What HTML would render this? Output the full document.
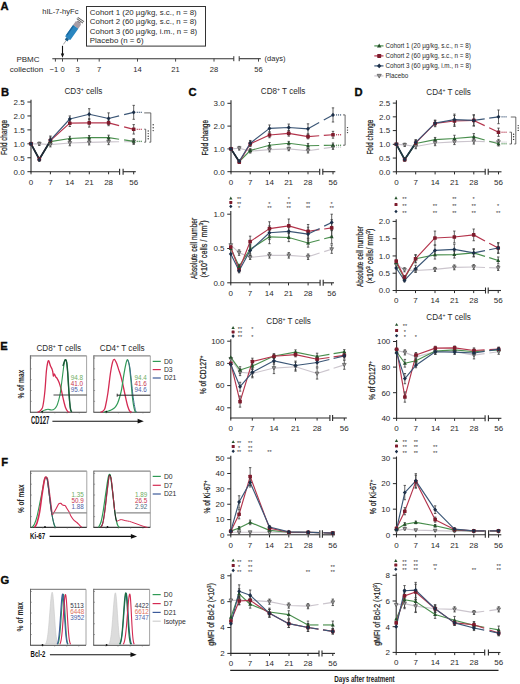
<!DOCTYPE html>
<html><head><meta charset="utf-8"><style>
html,body{margin:0;padding:0;background:#fff;width:520px;height:684px;overflow:hidden}
svg{display:block}
text{font-family:"Liberation Sans", sans-serif}
</style></head><body>
<svg width="520" height="684" viewBox="0 0 520 684" font-family='Liberation Sans, sans-serif'>
<defs><clipPath id="clipR"><rect x="0" y="0" width="180.3" height="684"/></clipPath></defs>
<rect width="520" height="684" fill="#fff"/>
<text x="0.6" y="9.9" font-size="11.2" fill="#0a0a0a" font-weight="bold" stroke="#0a0a0a" stroke-width="0.35">A</text>
<text x="42.2" y="14.4" font-size="7.6" fill="#2a2a2a">hIL-7-hyFc</text>
<rect x="86.5" y="6.5" width="119" height="39.6" fill="none" stroke="#333" stroke-width="1"/>
<text x="89.8" y="14.6" font-size="7.9" fill="#2a2a2a">Cohort 1 (20 µg/kg, s.c., n = 8)</text>
<text x="89.8" y="24.15" font-size="7.9" fill="#2a2a2a">Cohort 2 (60 µg/kg, s.c., n = 8)</text>
<text x="89.8" y="33.7" font-size="7.9" fill="#2a2a2a">Cohort 3 (60 µg/kg, i.m., n = 8)</text>
<text x="89.8" y="43.25" font-size="7.9" fill="#2a2a2a">Placebo (n = 6)</text>
<g transform="translate(63.4 44.4) rotate(-55)"><line x1="0" y1="0" x2="5.5" y2="0" stroke="#9a9a9a" stroke-width="0.8"/><rect x="4.8" y="-1.6" width="2.8" height="3.2" fill="#1d5f8c"/><rect x="7.4" y="-3.2" width="14.2" height="6.4" rx="0.8" fill="#2a86c0"/><rect x="9.5" y="-3.2" width="12" height="1.4" fill="#1b6aa0"/><rect x="21.4" y="-3.2" width="5.0" height="6.4" fill="#a79da6"/><rect x="26.4" y="-2.0" width="1.4" height="4.0" fill="#8a8088"/><rect x="28.3" y="-3.8" width="0.9" height="7.6" fill="#5a5a5a"/><rect x="30.0" y="-3.8" width="0.9" height="7.6" fill="#5a5a5a"/></g>
<line x1="62.5" y1="45.8" x2="62.5" y2="54.5" stroke="#111" stroke-width="1.1"/>
<path d="M60.8 53.6 L64.2 53.6 L62.5 57.8Z" fill="#111"/>
<line x1="52.3" y1="58.7" x2="233.8" y2="58.7" stroke="#333" stroke-width="1.1"/>
<line x1="239.2" y1="58.7" x2="260.8" y2="58.7" stroke="#333" stroke-width="1.1"/>
<line x1="233.8" y1="56.2" x2="233.8" y2="61.2" stroke="#333" stroke-width="1"/>
<line x1="239.2" y1="56.2" x2="239.2" y2="61.2" stroke="#333" stroke-width="1"/>
<line x1="55.4" y1="58.7" x2="55.4" y2="61.6" stroke="#333" stroke-width="0.9"/>
<line x1="62.5" y1="58.7" x2="62.5" y2="61.6" stroke="#333" stroke-width="0.9"/>
<line x1="77.5" y1="58.7" x2="77.5" y2="61.6" stroke="#333" stroke-width="0.9"/>
<text x="77.5" y="71.6" font-size="7.6" fill="#2a2a2a" text-anchor="middle">3</text>
<line x1="99.2" y1="58.7" x2="99.2" y2="61.6" stroke="#333" stroke-width="0.9"/>
<text x="99.2" y="71.6" font-size="7.6" fill="#2a2a2a" text-anchor="middle">7</text>
<line x1="137.5" y1="58.7" x2="137.5" y2="61.6" stroke="#333" stroke-width="0.9"/>
<text x="137.5" y="71.6" font-size="7.6" fill="#2a2a2a" text-anchor="middle">14</text>
<line x1="175.6" y1="58.7" x2="175.6" y2="61.6" stroke="#333" stroke-width="0.9"/>
<text x="175.6" y="71.6" font-size="7.6" fill="#2a2a2a" text-anchor="middle">21</text>
<line x1="214" y1="58.7" x2="214" y2="61.6" stroke="#333" stroke-width="0.9"/>
<text x="214" y="71.6" font-size="7.6" fill="#2a2a2a" text-anchor="middle">28</text>
<line x1="258.5" y1="58.7" x2="258.5" y2="61.6" stroke="#333" stroke-width="0.9"/>
<text x="258.5" y="71.6" font-size="7.6" fill="#2a2a2a" text-anchor="middle">56</text>
<text x="49.6" y="71.6" font-size="7.6" fill="#2a2a2a">−1</text>
<text x="62.6" y="71.6" font-size="7.6" fill="#2a2a2a" text-anchor="middle">0</text>
<text x="264.6" y="61.2" font-size="7.5" fill="#2a2a2a">(days)</text>
<text x="28" y="62" font-size="8" fill="#2a2a2a" text-anchor="middle">PBMC</text>
<text x="26.5" y="72" font-size="8" fill="#2a2a2a" text-anchor="middle">collection</text>
<line x1="374.3" y1="45.9" x2="383.5" y2="45.9" stroke="#4a8f4e" stroke-width="1.2"/>
<path d="M379.2 43.6 L381.4 47.5 L377 47.5Z" fill="#24502a"/>
<text x="385.4" y="48.1" font-size="6.3" fill="#2a2a2a">Cohort 1 (20 µg/kg, s.c., n = 8)</text>
<line x1="374.3" y1="55.9" x2="383.5" y2="55.9" stroke="#b4344c" stroke-width="1.2"/>
<rect x="377.2" y="53.9" width="4" height="4" rx="0.6" fill="#7d1b2c"/>
<text x="385.4" y="58.1" font-size="6.3" fill="#2a2a2a">Cohort 2 (60 µg/kg, s.c., n = 8)</text>
<line x1="374.3" y1="65.9" x2="383.5" y2="65.9" stroke="#3b5676" stroke-width="1.2"/>
<path d="M379.2 63.5 L381.4 65.9 L379.2 68.3 L377 65.9Z" fill="#1c2f48"/>
<text x="385.4" y="68.1" font-size="6.3" fill="#2a2a2a">Cohort 3 (60 µg/kg, i.m., n = 8)</text>
<line x1="374.3" y1="75.9" x2="383.5" y2="75.9" stroke="#cbc5cd" stroke-width="1.2"/>
<path d="M377.1 74.3 L381.3 74.3 L379.2 78.1Z" fill="#999" stroke="#444" stroke-width="0.6"/>
<text x="385.4" y="78.1" font-size="6.3" fill="#2a2a2a">Placebo</text>
<text x="1" y="95.6" font-size="11.2" fill="#0a0a0a" font-weight="bold" stroke="#0a0a0a" stroke-width="0.35">B</text>
<line x1="31" y1="99.7" x2="31" y2="172.2" stroke="#2a2a2a" stroke-width="1.1"/>
<line x1="30.5" y1="171.7" x2="119.6" y2="171.7" stroke="#2a2a2a" stroke-width="1.1"/>
<line x1="123.1" y1="171.7" x2="135.8" y2="171.7" stroke="#2a2a2a" stroke-width="1.1"/>
<line x1="119.6" y1="168.7" x2="119.6" y2="174.7" stroke="#2a2a2a" stroke-width="1.1"/>
<line x1="123.1" y1="168.7" x2="123.1" y2="174.7" stroke="#2a2a2a" stroke-width="1.1"/>
<line x1="27.4" y1="171.7" x2="31" y2="171.7" stroke="#2a2a2a" stroke-width="1"/>
<text x="24.7" y="174.5" font-size="8" fill="#2a2a2a" text-anchor="end">0.0</text>
<line x1="27.4" y1="157.76" x2="31" y2="157.76" stroke="#2a2a2a" stroke-width="1"/>
<text x="24.7" y="160.56" font-size="8" fill="#2a2a2a" text-anchor="end">0.5</text>
<line x1="27.4" y1="143.82" x2="31" y2="143.82" stroke="#2a2a2a" stroke-width="1"/>
<text x="24.7" y="146.62" font-size="8" fill="#2a2a2a" text-anchor="end">1.0</text>
<line x1="27.4" y1="129.88" x2="31" y2="129.88" stroke="#2a2a2a" stroke-width="1"/>
<text x="24.7" y="132.68" font-size="8" fill="#2a2a2a" text-anchor="end">1.5</text>
<line x1="27.4" y1="115.94" x2="31" y2="115.94" stroke="#2a2a2a" stroke-width="1"/>
<text x="24.7" y="118.74" font-size="8" fill="#2a2a2a" text-anchor="end">2.0</text>
<line x1="27.4" y1="102" x2="31" y2="102" stroke="#2a2a2a" stroke-width="1"/>
<text x="24.7" y="104.8" font-size="8" fill="#2a2a2a" text-anchor="end">2.5</text>
<line x1="31" y1="171.7" x2="31" y2="174.3" stroke="#2a2a2a" stroke-width="1"/>
<text x="31" y="184.5" font-size="8" fill="#2a2a2a" text-anchor="middle">0</text>
<line x1="50.4" y1="171.7" x2="50.4" y2="174.3" stroke="#2a2a2a" stroke-width="1"/>
<text x="50.4" y="184.5" font-size="8" fill="#2a2a2a" text-anchor="middle">7</text>
<line x1="69.8" y1="171.7" x2="69.8" y2="174.3" stroke="#2a2a2a" stroke-width="1"/>
<text x="69.8" y="184.5" font-size="8" fill="#2a2a2a" text-anchor="middle">14</text>
<line x1="89.3" y1="171.7" x2="89.3" y2="174.3" stroke="#2a2a2a" stroke-width="1"/>
<text x="89.3" y="184.5" font-size="8" fill="#2a2a2a" text-anchor="middle">21</text>
<line x1="108.6" y1="171.7" x2="108.6" y2="174.3" stroke="#2a2a2a" stroke-width="1"/>
<text x="108.6" y="184.5" font-size="8" fill="#2a2a2a" text-anchor="middle">28</text>
<line x1="133.7" y1="171.7" x2="133.7" y2="174.3" stroke="#2a2a2a" stroke-width="1"/>
<text x="133.7" y="184.5" font-size="8" fill="#2a2a2a" text-anchor="middle">56</text>
<polyline points="31,143.82 39.31,143.82 50.4,144.66 69.8,142.98 89.2,142.43 108.6,141.87" fill="none" stroke="#cbc5cd" stroke-width="1.15" stroke-linejoin="round"/>
<line x1="108.6" y1="141.87" x2="119.1" y2="141.75" stroke="#cbc5cd" stroke-width="1.15"/>
<line x1="124.1" y1="141.7" x2="133.7" y2="141.59" stroke="#cbc5cd" stroke-width="1.15"/>
<rect x="136.7" y="140.99" width="1.1" height="1.2" fill="#cbc5cd"/>
<rect x="138.7" y="140.99" width="1.1" height="1.2" fill="#cbc5cd"/>
<rect x="140.7" y="140.99" width="1.1" height="1.2" fill="#cbc5cd"/>
<polyline points="31,143.82 39.31,158.88 50.4,141.59 69.8,138.52 89.2,137.69 108.6,137.69" fill="none" stroke="#4a8f4e" stroke-width="1.15" stroke-linejoin="round"/>
<line x1="108.6" y1="137.69" x2="119.1" y2="139.2" stroke="#4a8f4e" stroke-width="1.15"/>
<line x1="124.1" y1="139.92" x2="133.7" y2="141.31" stroke="#4a8f4e" stroke-width="1.15"/>
<rect x="136.7" y="140.71" width="1.1" height="1.2" fill="#4a8f4e"/>
<rect x="138.7" y="140.71" width="1.1" height="1.2" fill="#4a8f4e"/>
<rect x="140.7" y="140.71" width="1.1" height="1.2" fill="#4a8f4e"/>
<polyline points="31,143.82 39.31,159.15 50.4,140.47 69.8,123.19 89.2,122.91 108.6,122.91" fill="none" stroke="#b4344c" stroke-width="1.15" stroke-linejoin="round"/>
<line x1="108.6" y1="122.91" x2="119.1" y2="125.59" stroke="#b4344c" stroke-width="1.15"/>
<line x1="124.1" y1="126.87" x2="133.7" y2="129.32" stroke="#b4344c" stroke-width="1.15"/>
<rect x="136.7" y="128.72" width="1.1" height="1.2" fill="#b4344c"/>
<rect x="138.7" y="128.72" width="1.1" height="1.2" fill="#b4344c"/>
<rect x="140.7" y="128.72" width="1.1" height="1.2" fill="#b4344c"/>
<polyline points="31,143.82 39.31,159.71 50.4,140.2 69.8,119.01 89.2,114.27 108.6,118.45" fill="none" stroke="#3b5676" stroke-width="1.15" stroke-linejoin="round"/>
<line x1="108.6" y1="118.45" x2="119.1" y2="115.88" stroke="#3b5676" stroke-width="1.15"/>
<line x1="124.1" y1="114.66" x2="133.7" y2="112.32" stroke="#3b5676" stroke-width="1.15"/>
<rect x="136.7" y="111.72" width="1.1" height="1.2" fill="#3b5676"/>
<rect x="138.7" y="111.72" width="1.1" height="1.2" fill="#3b5676"/>
<rect x="140.7" y="111.72" width="1.1" height="1.2" fill="#3b5676"/>
<polyline points="31,143.82 39.31,159.25 50.4,140.75" fill="none" stroke="#1d2b36" stroke-width="1.7" stroke-linejoin="round"/>
<line x1="39.31" y1="142.15" x2="39.31" y2="145.49" stroke="#3a3a3a" stroke-width="0.8"/>
<line x1="38.11" y1="142.15" x2="40.51" y2="142.15" stroke="#3a3a3a" stroke-width="0.8"/>
<line x1="38.11" y1="145.49" x2="40.51" y2="145.49" stroke="#3a3a3a" stroke-width="0.8"/>
<line x1="50.4" y1="142.43" x2="50.4" y2="146.89" stroke="#3a3a3a" stroke-width="0.8"/>
<line x1="49.2" y1="142.43" x2="51.6" y2="142.43" stroke="#3a3a3a" stroke-width="0.8"/>
<line x1="49.2" y1="146.89" x2="51.6" y2="146.89" stroke="#3a3a3a" stroke-width="0.8"/>
<line x1="69.8" y1="140.2" x2="69.8" y2="145.77" stroke="#3a3a3a" stroke-width="0.8"/>
<line x1="68.6" y1="140.2" x2="71" y2="140.2" stroke="#3a3a3a" stroke-width="0.8"/>
<line x1="68.6" y1="145.77" x2="71" y2="145.77" stroke="#3a3a3a" stroke-width="0.8"/>
<line x1="89.2" y1="139.92" x2="89.2" y2="144.94" stroke="#3a3a3a" stroke-width="0.8"/>
<line x1="88" y1="139.92" x2="90.4" y2="139.92" stroke="#3a3a3a" stroke-width="0.8"/>
<line x1="88" y1="144.94" x2="90.4" y2="144.94" stroke="#3a3a3a" stroke-width="0.8"/>
<line x1="108.6" y1="139.08" x2="108.6" y2="144.66" stroke="#3a3a3a" stroke-width="0.8"/>
<line x1="107.4" y1="139.08" x2="109.8" y2="139.08" stroke="#3a3a3a" stroke-width="0.8"/>
<line x1="107.4" y1="144.66" x2="109.8" y2="144.66" stroke="#3a3a3a" stroke-width="0.8"/>
<line x1="133.7" y1="138.8" x2="133.7" y2="144.38" stroke="#3a3a3a" stroke-width="0.8"/>
<line x1="132.5" y1="138.8" x2="134.9" y2="138.8" stroke="#3a3a3a" stroke-width="0.8"/>
<line x1="132.5" y1="144.38" x2="134.9" y2="144.38" stroke="#3a3a3a" stroke-width="0.8"/>
<line x1="39.31" y1="157.48" x2="39.31" y2="160.27" stroke="#3a3a3a" stroke-width="0.8"/>
<line x1="38.11" y1="157.48" x2="40.51" y2="157.48" stroke="#3a3a3a" stroke-width="0.8"/>
<line x1="38.11" y1="160.27" x2="40.51" y2="160.27" stroke="#3a3a3a" stroke-width="0.8"/>
<line x1="50.4" y1="138.8" x2="50.4" y2="144.38" stroke="#3a3a3a" stroke-width="0.8"/>
<line x1="49.2" y1="138.8" x2="51.6" y2="138.8" stroke="#3a3a3a" stroke-width="0.8"/>
<line x1="49.2" y1="144.38" x2="51.6" y2="144.38" stroke="#3a3a3a" stroke-width="0.8"/>
<line x1="69.8" y1="136.29" x2="69.8" y2="140.75" stroke="#3a3a3a" stroke-width="0.8"/>
<line x1="68.6" y1="136.29" x2="71" y2="136.29" stroke="#3a3a3a" stroke-width="0.8"/>
<line x1="68.6" y1="140.75" x2="71" y2="140.75" stroke="#3a3a3a" stroke-width="0.8"/>
<line x1="89.2" y1="135.46" x2="89.2" y2="139.92" stroke="#3a3a3a" stroke-width="0.8"/>
<line x1="88" y1="135.46" x2="90.4" y2="135.46" stroke="#3a3a3a" stroke-width="0.8"/>
<line x1="88" y1="139.92" x2="90.4" y2="139.92" stroke="#3a3a3a" stroke-width="0.8"/>
<line x1="108.6" y1="135.18" x2="108.6" y2="140.2" stroke="#3a3a3a" stroke-width="0.8"/>
<line x1="107.4" y1="135.18" x2="109.8" y2="135.18" stroke="#3a3a3a" stroke-width="0.8"/>
<line x1="107.4" y1="140.2" x2="109.8" y2="140.2" stroke="#3a3a3a" stroke-width="0.8"/>
<line x1="133.7" y1="139.08" x2="133.7" y2="143.54" stroke="#3a3a3a" stroke-width="0.8"/>
<line x1="132.5" y1="139.08" x2="134.9" y2="139.08" stroke="#3a3a3a" stroke-width="0.8"/>
<line x1="132.5" y1="143.54" x2="134.9" y2="143.54" stroke="#3a3a3a" stroke-width="0.8"/>
<line x1="39.31" y1="157.48" x2="39.31" y2="160.83" stroke="#3a3a3a" stroke-width="0.8"/>
<line x1="38.11" y1="157.48" x2="40.51" y2="157.48" stroke="#3a3a3a" stroke-width="0.8"/>
<line x1="38.11" y1="160.83" x2="40.51" y2="160.83" stroke="#3a3a3a" stroke-width="0.8"/>
<line x1="50.4" y1="137.13" x2="50.4" y2="143.82" stroke="#3a3a3a" stroke-width="0.8"/>
<line x1="49.2" y1="137.13" x2="51.6" y2="137.13" stroke="#3a3a3a" stroke-width="0.8"/>
<line x1="49.2" y1="143.82" x2="51.6" y2="143.82" stroke="#3a3a3a" stroke-width="0.8"/>
<line x1="69.8" y1="119.84" x2="69.8" y2="126.53" stroke="#3a3a3a" stroke-width="0.8"/>
<line x1="68.6" y1="119.84" x2="71" y2="119.84" stroke="#3a3a3a" stroke-width="0.8"/>
<line x1="68.6" y1="126.53" x2="71" y2="126.53" stroke="#3a3a3a" stroke-width="0.8"/>
<line x1="89.2" y1="118.73" x2="89.2" y2="127.09" stroke="#3a3a3a" stroke-width="0.8"/>
<line x1="88" y1="118.73" x2="90.4" y2="118.73" stroke="#3a3a3a" stroke-width="0.8"/>
<line x1="88" y1="127.09" x2="90.4" y2="127.09" stroke="#3a3a3a" stroke-width="0.8"/>
<line x1="108.6" y1="120.12" x2="108.6" y2="125.7" stroke="#3a3a3a" stroke-width="0.8"/>
<line x1="107.4" y1="120.12" x2="109.8" y2="120.12" stroke="#3a3a3a" stroke-width="0.8"/>
<line x1="107.4" y1="125.7" x2="109.8" y2="125.7" stroke="#3a3a3a" stroke-width="0.8"/>
<line x1="133.7" y1="124.58" x2="133.7" y2="134.06" stroke="#3a3a3a" stroke-width="0.8"/>
<line x1="132.5" y1="124.58" x2="134.9" y2="124.58" stroke="#3a3a3a" stroke-width="0.8"/>
<line x1="132.5" y1="134.06" x2="134.9" y2="134.06" stroke="#3a3a3a" stroke-width="0.8"/>
<line x1="39.31" y1="158.04" x2="39.31" y2="161.38" stroke="#3a3a3a" stroke-width="0.8"/>
<line x1="38.11" y1="158.04" x2="40.51" y2="158.04" stroke="#3a3a3a" stroke-width="0.8"/>
<line x1="38.11" y1="161.38" x2="40.51" y2="161.38" stroke="#3a3a3a" stroke-width="0.8"/>
<line x1="50.4" y1="136.01" x2="50.4" y2="144.38" stroke="#3a3a3a" stroke-width="0.8"/>
<line x1="49.2" y1="136.01" x2="51.6" y2="136.01" stroke="#3a3a3a" stroke-width="0.8"/>
<line x1="49.2" y1="144.38" x2="51.6" y2="144.38" stroke="#3a3a3a" stroke-width="0.8"/>
<line x1="69.8" y1="115.94" x2="69.8" y2="122.07" stroke="#3a3a3a" stroke-width="0.8"/>
<line x1="68.6" y1="115.94" x2="71" y2="115.94" stroke="#3a3a3a" stroke-width="0.8"/>
<line x1="68.6" y1="122.07" x2="71" y2="122.07" stroke="#3a3a3a" stroke-width="0.8"/>
<line x1="89.2" y1="108.69" x2="89.2" y2="119.84" stroke="#3a3a3a" stroke-width="0.8"/>
<line x1="88" y1="108.69" x2="90.4" y2="108.69" stroke="#3a3a3a" stroke-width="0.8"/>
<line x1="88" y1="119.84" x2="90.4" y2="119.84" stroke="#3a3a3a" stroke-width="0.8"/>
<line x1="108.6" y1="112.87" x2="108.6" y2="124.03" stroke="#3a3a3a" stroke-width="0.8"/>
<line x1="107.4" y1="112.87" x2="109.8" y2="112.87" stroke="#3a3a3a" stroke-width="0.8"/>
<line x1="107.4" y1="124.03" x2="109.8" y2="124.03" stroke="#3a3a3a" stroke-width="0.8"/>
<line x1="133.7" y1="105.35" x2="133.7" y2="119.29" stroke="#3a3a3a" stroke-width="0.8"/>
<line x1="132.5" y1="105.35" x2="134.9" y2="105.35" stroke="#3a3a3a" stroke-width="0.8"/>
<line x1="132.5" y1="119.29" x2="134.9" y2="119.29" stroke="#3a3a3a" stroke-width="0.8"/>
<path d="M29.11 142.38 L32.89 142.38 L31 145.8Z" fill="#999" stroke="#444" stroke-width="0.6"/>
<path d="M37.42 142.38 L41.2 142.38 L39.31 145.8Z" fill="#999" stroke="#444" stroke-width="0.6"/>
<path d="M48.51 143.22 L52.29 143.22 L50.4 146.64Z" fill="#999" stroke="#444" stroke-width="0.6"/>
<path d="M67.91 141.54 L71.69 141.54 L69.8 144.96Z" fill="#999" stroke="#444" stroke-width="0.6"/>
<path d="M87.31 140.99 L91.09 140.99 L89.2 144.41Z" fill="#999" stroke="#444" stroke-width="0.6"/>
<path d="M106.71 140.43 L110.49 140.43 L108.6 143.85Z" fill="#999" stroke="#444" stroke-width="0.6"/>
<path d="M131.81 140.15 L135.59 140.15 L133.7 143.57Z" fill="#999" stroke="#444" stroke-width="0.6"/>
<path d="M31 141.75 L32.98 145.26 L29.02 145.26Z" fill="#24502a"/>
<path d="M39.31 156.81 L41.29 160.32 L37.33 160.32Z" fill="#24502a"/>
<path d="M50.4 139.52 L52.38 143.03 L48.42 143.03Z" fill="#24502a"/>
<path d="M69.8 136.45 L71.78 139.96 L67.82 139.96Z" fill="#24502a"/>
<path d="M89.2 135.62 L91.18 139.13 L87.22 139.13Z" fill="#24502a"/>
<path d="M108.6 135.62 L110.58 139.13 L106.62 139.13Z" fill="#24502a"/>
<path d="M133.7 139.24 L135.68 142.75 L131.72 142.75Z" fill="#24502a"/>
<rect x="29.2" y="142.02" width="3.6" height="3.6" rx="0.6" fill="#7d1b2c"/>
<rect x="37.51" y="157.35" width="3.6" height="3.6" rx="0.6" fill="#7d1b2c"/>
<rect x="48.6" y="138.67" width="3.6" height="3.6" rx="0.6" fill="#7d1b2c"/>
<rect x="68" y="121.39" width="3.6" height="3.6" rx="0.6" fill="#7d1b2c"/>
<rect x="87.4" y="121.11" width="3.6" height="3.6" rx="0.6" fill="#7d1b2c"/>
<rect x="106.8" y="121.11" width="3.6" height="3.6" rx="0.6" fill="#7d1b2c"/>
<rect x="131.9" y="127.52" width="3.6" height="3.6" rx="0.6" fill="#7d1b2c"/>
<path d="M31 141.66 L32.98 143.82 L31 145.98 L29.02 143.82Z" fill="#1c2f48"/>
<path d="M39.31 157.55 L41.29 159.71 L39.31 161.87 L37.33 159.71Z" fill="#1c2f48"/>
<path d="M50.4 138.04 L52.38 140.2 L50.4 142.36 L48.42 140.2Z" fill="#1c2f48"/>
<path d="M69.8 116.85 L71.78 119.01 L69.8 121.17 L67.82 119.01Z" fill="#1c2f48"/>
<path d="M89.2 112.11 L91.18 114.27 L89.2 116.43 L87.22 114.27Z" fill="#1c2f48"/>
<path d="M108.6 116.29 L110.58 118.45 L108.6 120.61 L106.62 118.45Z" fill="#1c2f48"/>
<path d="M133.7 110.16 L135.68 112.32 L133.7 114.48 L131.72 112.32Z" fill="#1c2f48"/>
<text x="64.4" y="93.9" font-size="8.3" fill="#2a2a2a" textLength="37.9" lengthAdjust="spacingAndGlyphs">CD3<tspan font-size="5.2" dy="-3">+</tspan><tspan dy="3"> cells</tspan></text>
<text transform="translate(7.2 154.9) rotate(-90)" x="0" y="0" font-size="8.2" fill="#222" stroke="#222" stroke-width="0.22" textLength="34.9" lengthAdjust="spacingAndGlyphs">Fold change</text>
<path d="M144.2 112.9 H150.8 V142.2 H149.3" fill="none" stroke="#444" stroke-width="0.8"/>
<path d="M144.2 129.2 H145.7 V142.2 H144.2" fill="none" stroke="#444" stroke-width="0.8"/>
<circle cx="148.2" cy="131" r="0.7" fill="#333"/>
<circle cx="148.2" cy="133.6" r="0.7" fill="#333"/>
<circle cx="148.2" cy="136.2" r="0.7" fill="#333"/>
<circle cx="148.2" cy="138.8" r="0.7" fill="#333"/>
<circle cx="153.2" cy="124.8" r="0.7" fill="#333"/>
<circle cx="153.2" cy="127.7" r="0.7" fill="#333"/>
<circle cx="153.2" cy="130.6" r="0.7" fill="#333"/>
<text x="188.6" y="95.8" font-size="11.2" fill="#0a0a0a" font-weight="bold" stroke="#0a0a0a" stroke-width="0.35">C</text>
<line x1="231" y1="100.2" x2="231" y2="172.2" stroke="#2a2a2a" stroke-width="1.1"/>
<line x1="230.5" y1="171.7" x2="319.7" y2="171.7" stroke="#2a2a2a" stroke-width="1.1"/>
<line x1="322.8" y1="171.7" x2="335.3" y2="171.7" stroke="#2a2a2a" stroke-width="1.1"/>
<line x1="319.7" y1="168.7" x2="319.7" y2="174.7" stroke="#2a2a2a" stroke-width="1.1"/>
<line x1="322.8" y1="168.7" x2="322.8" y2="174.7" stroke="#2a2a2a" stroke-width="1.1"/>
<line x1="227.4" y1="171.7" x2="231" y2="171.7" stroke="#2a2a2a" stroke-width="1"/>
<text x="224.7" y="174.5" font-size="8" fill="#2a2a2a" text-anchor="end">0.0</text>
<line x1="227.4" y1="148.9" x2="231" y2="148.9" stroke="#2a2a2a" stroke-width="1"/>
<text x="224.7" y="151.7" font-size="8" fill="#2a2a2a" text-anchor="end">1.0</text>
<line x1="227.4" y1="126.1" x2="231" y2="126.1" stroke="#2a2a2a" stroke-width="1"/>
<text x="224.7" y="128.9" font-size="8" fill="#2a2a2a" text-anchor="end">2.0</text>
<line x1="227.4" y1="103.3" x2="231" y2="103.3" stroke="#2a2a2a" stroke-width="1"/>
<text x="224.7" y="106.1" font-size="8" fill="#2a2a2a" text-anchor="end">3.0</text>
<line x1="231" y1="171.7" x2="231" y2="174.3" stroke="#2a2a2a" stroke-width="1"/>
<text x="231" y="184.5" font-size="8" fill="#2a2a2a" text-anchor="middle">0</text>
<line x1="250.2" y1="171.7" x2="250.2" y2="174.3" stroke="#2a2a2a" stroke-width="1"/>
<text x="250.2" y="184.5" font-size="8" fill="#2a2a2a" text-anchor="middle">7</text>
<line x1="269.5" y1="171.7" x2="269.5" y2="174.3" stroke="#2a2a2a" stroke-width="1"/>
<text x="269.5" y="184.5" font-size="8" fill="#2a2a2a" text-anchor="middle">14</text>
<line x1="288.6" y1="171.7" x2="288.6" y2="174.3" stroke="#2a2a2a" stroke-width="1"/>
<text x="288.6" y="184.5" font-size="8" fill="#2a2a2a" text-anchor="middle">21</text>
<line x1="308" y1="171.7" x2="308" y2="174.3" stroke="#2a2a2a" stroke-width="1"/>
<text x="308" y="184.5" font-size="8" fill="#2a2a2a" text-anchor="middle">28</text>
<line x1="333" y1="171.7" x2="333" y2="174.3" stroke="#2a2a2a" stroke-width="1"/>
<text x="333" y="184.5" font-size="8" fill="#2a2a2a" text-anchor="middle">56</text>
<polyline points="231,148.9 239.25,148.22 250.25,151.18 269.5,149.58 288.75,148.9 308,150.72" fill="none" stroke="#cbc5cd" stroke-width="1.15" stroke-linejoin="round"/>
<line x1="308" y1="150.72" x2="319.2" y2="149.09" stroke="#cbc5cd" stroke-width="1.15"/>
<line x1="323.8" y1="148.42" x2="333" y2="147.08" stroke="#cbc5cd" stroke-width="1.15"/>
<rect x="336" y="146.48" width="1.1" height="1.2" fill="#cbc5cd"/>
<rect x="338" y="146.48" width="1.1" height="1.2" fill="#cbc5cd"/>
<rect x="340" y="146.48" width="1.1" height="1.2" fill="#cbc5cd"/>
<polyline points="231,148.9 239.25,161.67 250.25,150.5 269.5,145.25 288.75,143.2 308,145.71" fill="none" stroke="#4a8f4e" stroke-width="1.15" stroke-linejoin="round"/>
<line x1="308" y1="145.71" x2="319.2" y2="145.5" stroke="#4a8f4e" stroke-width="1.15"/>
<line x1="323.8" y1="145.42" x2="333" y2="145.25" stroke="#4a8f4e" stroke-width="1.15"/>
<rect x="336" y="144.65" width="1.1" height="1.2" fill="#4a8f4e"/>
<rect x="338" y="144.65" width="1.1" height="1.2" fill="#4a8f4e"/>
<rect x="340" y="144.65" width="1.1" height="1.2" fill="#4a8f4e"/>
<polyline points="231,148.9 239.25,162.12 250.25,143.88 269.5,134.99 288.75,133.4 308,136.59" fill="none" stroke="#b4344c" stroke-width="1.15" stroke-linejoin="round"/>
<line x1="308" y1="136.59" x2="319.2" y2="135.77" stroke="#b4344c" stroke-width="1.15"/>
<line x1="323.8" y1="135.44" x2="333" y2="134.76" stroke="#b4344c" stroke-width="1.15"/>
<rect x="336" y="134.16" width="1.1" height="1.2" fill="#b4344c"/>
<rect x="338" y="134.16" width="1.1" height="1.2" fill="#b4344c"/>
<rect x="340" y="134.16" width="1.1" height="1.2" fill="#b4344c"/>
<polyline points="231,148.9 239.25,161.21 250.25,143.2 269.5,128.38 288.75,127.47 308,128.84" fill="none" stroke="#3b5676" stroke-width="1.15" stroke-linejoin="round"/>
<line x1="308" y1="128.84" x2="319.2" y2="122.61" stroke="#3b5676" stroke-width="1.15"/>
<line x1="323.8" y1="120.05" x2="333" y2="114.93" stroke="#3b5676" stroke-width="1.15"/>
<rect x="336" y="114.33" width="1.1" height="1.2" fill="#3b5676"/>
<rect x="338" y="114.33" width="1.1" height="1.2" fill="#3b5676"/>
<rect x="340" y="114.33" width="1.1" height="1.2" fill="#3b5676"/>
<polyline points="231,148.9 239.25,161.67" fill="none" stroke="#1d2b36" stroke-width="1.7" stroke-linejoin="round"/>
<line x1="239.25" y1="146.39" x2="239.25" y2="150.04" stroke="#3a3a3a" stroke-width="0.8"/>
<line x1="238.05" y1="146.39" x2="240.45" y2="146.39" stroke="#3a3a3a" stroke-width="0.8"/>
<line x1="238.05" y1="150.04" x2="240.45" y2="150.04" stroke="#3a3a3a" stroke-width="0.8"/>
<line x1="250.25" y1="149.36" x2="250.25" y2="153" stroke="#3a3a3a" stroke-width="0.8"/>
<line x1="249.05" y1="149.36" x2="251.45" y2="149.36" stroke="#3a3a3a" stroke-width="0.8"/>
<line x1="249.05" y1="153" x2="251.45" y2="153" stroke="#3a3a3a" stroke-width="0.8"/>
<line x1="269.5" y1="147.3" x2="269.5" y2="151.86" stroke="#3a3a3a" stroke-width="0.8"/>
<line x1="268.3" y1="147.3" x2="270.7" y2="147.3" stroke="#3a3a3a" stroke-width="0.8"/>
<line x1="268.3" y1="151.86" x2="270.7" y2="151.86" stroke="#3a3a3a" stroke-width="0.8"/>
<line x1="288.75" y1="147.08" x2="288.75" y2="150.72" stroke="#3a3a3a" stroke-width="0.8"/>
<line x1="287.55" y1="147.08" x2="289.95" y2="147.08" stroke="#3a3a3a" stroke-width="0.8"/>
<line x1="287.55" y1="150.72" x2="289.95" y2="150.72" stroke="#3a3a3a" stroke-width="0.8"/>
<line x1="308" y1="148.44" x2="308" y2="153" stroke="#3a3a3a" stroke-width="0.8"/>
<line x1="306.8" y1="148.44" x2="309.2" y2="148.44" stroke="#3a3a3a" stroke-width="0.8"/>
<line x1="306.8" y1="153" x2="309.2" y2="153" stroke="#3a3a3a" stroke-width="0.8"/>
<line x1="333" y1="144.8" x2="333" y2="149.36" stroke="#3a3a3a" stroke-width="0.8"/>
<line x1="331.8" y1="144.8" x2="334.2" y2="144.8" stroke="#3a3a3a" stroke-width="0.8"/>
<line x1="331.8" y1="149.36" x2="334.2" y2="149.36" stroke="#3a3a3a" stroke-width="0.8"/>
<line x1="239.25" y1="160.53" x2="239.25" y2="162.81" stroke="#3a3a3a" stroke-width="0.8"/>
<line x1="238.05" y1="160.53" x2="240.45" y2="160.53" stroke="#3a3a3a" stroke-width="0.8"/>
<line x1="238.05" y1="162.81" x2="240.45" y2="162.81" stroke="#3a3a3a" stroke-width="0.8"/>
<line x1="250.25" y1="148.67" x2="250.25" y2="152.32" stroke="#3a3a3a" stroke-width="0.8"/>
<line x1="249.05" y1="148.67" x2="251.45" y2="148.67" stroke="#3a3a3a" stroke-width="0.8"/>
<line x1="249.05" y1="152.32" x2="251.45" y2="152.32" stroke="#3a3a3a" stroke-width="0.8"/>
<line x1="269.5" y1="142.52" x2="269.5" y2="147.99" stroke="#3a3a3a" stroke-width="0.8"/>
<line x1="268.3" y1="142.52" x2="270.7" y2="142.52" stroke="#3a3a3a" stroke-width="0.8"/>
<line x1="268.3" y1="147.99" x2="270.7" y2="147.99" stroke="#3a3a3a" stroke-width="0.8"/>
<line x1="288.75" y1="141.38" x2="288.75" y2="145.02" stroke="#3a3a3a" stroke-width="0.8"/>
<line x1="287.55" y1="141.38" x2="289.95" y2="141.38" stroke="#3a3a3a" stroke-width="0.8"/>
<line x1="287.55" y1="145.02" x2="289.95" y2="145.02" stroke="#3a3a3a" stroke-width="0.8"/>
<line x1="308" y1="143.43" x2="308" y2="147.99" stroke="#3a3a3a" stroke-width="0.8"/>
<line x1="306.8" y1="143.43" x2="309.2" y2="143.43" stroke="#3a3a3a" stroke-width="0.8"/>
<line x1="306.8" y1="147.99" x2="309.2" y2="147.99" stroke="#3a3a3a" stroke-width="0.8"/>
<line x1="333" y1="142.97" x2="333" y2="147.53" stroke="#3a3a3a" stroke-width="0.8"/>
<line x1="331.8" y1="142.97" x2="334.2" y2="142.97" stroke="#3a3a3a" stroke-width="0.8"/>
<line x1="331.8" y1="147.53" x2="334.2" y2="147.53" stroke="#3a3a3a" stroke-width="0.8"/>
<line x1="239.25" y1="160.98" x2="239.25" y2="163.26" stroke="#3a3a3a" stroke-width="0.8"/>
<line x1="238.05" y1="160.98" x2="240.45" y2="160.98" stroke="#3a3a3a" stroke-width="0.8"/>
<line x1="238.05" y1="163.26" x2="240.45" y2="163.26" stroke="#3a3a3a" stroke-width="0.8"/>
<line x1="250.25" y1="141.15" x2="250.25" y2="146.62" stroke="#3a3a3a" stroke-width="0.8"/>
<line x1="249.05" y1="141.15" x2="251.45" y2="141.15" stroke="#3a3a3a" stroke-width="0.8"/>
<line x1="249.05" y1="146.62" x2="251.45" y2="146.62" stroke="#3a3a3a" stroke-width="0.8"/>
<line x1="269.5" y1="132.26" x2="269.5" y2="137.73" stroke="#3a3a3a" stroke-width="0.8"/>
<line x1="268.3" y1="132.26" x2="270.7" y2="132.26" stroke="#3a3a3a" stroke-width="0.8"/>
<line x1="268.3" y1="137.73" x2="270.7" y2="137.73" stroke="#3a3a3a" stroke-width="0.8"/>
<line x1="288.75" y1="130.66" x2="288.75" y2="136.13" stroke="#3a3a3a" stroke-width="0.8"/>
<line x1="287.55" y1="130.66" x2="289.95" y2="130.66" stroke="#3a3a3a" stroke-width="0.8"/>
<line x1="287.55" y1="136.13" x2="289.95" y2="136.13" stroke="#3a3a3a" stroke-width="0.8"/>
<line x1="308" y1="134.31" x2="308" y2="138.87" stroke="#3a3a3a" stroke-width="0.8"/>
<line x1="306.8" y1="134.31" x2="309.2" y2="134.31" stroke="#3a3a3a" stroke-width="0.8"/>
<line x1="306.8" y1="138.87" x2="309.2" y2="138.87" stroke="#3a3a3a" stroke-width="0.8"/>
<line x1="333" y1="131.34" x2="333" y2="138.18" stroke="#3a3a3a" stroke-width="0.8"/>
<line x1="331.8" y1="131.34" x2="334.2" y2="131.34" stroke="#3a3a3a" stroke-width="0.8"/>
<line x1="331.8" y1="138.18" x2="334.2" y2="138.18" stroke="#3a3a3a" stroke-width="0.8"/>
<line x1="239.25" y1="160.07" x2="239.25" y2="162.35" stroke="#3a3a3a" stroke-width="0.8"/>
<line x1="238.05" y1="160.07" x2="240.45" y2="160.07" stroke="#3a3a3a" stroke-width="0.8"/>
<line x1="238.05" y1="162.35" x2="240.45" y2="162.35" stroke="#3a3a3a" stroke-width="0.8"/>
<line x1="250.25" y1="140.46" x2="250.25" y2="145.94" stroke="#3a3a3a" stroke-width="0.8"/>
<line x1="249.05" y1="140.46" x2="251.45" y2="140.46" stroke="#3a3a3a" stroke-width="0.8"/>
<line x1="249.05" y1="145.94" x2="251.45" y2="145.94" stroke="#3a3a3a" stroke-width="0.8"/>
<line x1="269.5" y1="124.96" x2="269.5" y2="131.8" stroke="#3a3a3a" stroke-width="0.8"/>
<line x1="268.3" y1="124.96" x2="270.7" y2="124.96" stroke="#3a3a3a" stroke-width="0.8"/>
<line x1="268.3" y1="131.8" x2="270.7" y2="131.8" stroke="#3a3a3a" stroke-width="0.8"/>
<line x1="288.75" y1="124.05" x2="288.75" y2="130.89" stroke="#3a3a3a" stroke-width="0.8"/>
<line x1="287.55" y1="124.05" x2="289.95" y2="124.05" stroke="#3a3a3a" stroke-width="0.8"/>
<line x1="287.55" y1="130.89" x2="289.95" y2="130.89" stroke="#3a3a3a" stroke-width="0.8"/>
<line x1="308" y1="123.82" x2="308" y2="133.85" stroke="#3a3a3a" stroke-width="0.8"/>
<line x1="306.8" y1="123.82" x2="309.2" y2="123.82" stroke="#3a3a3a" stroke-width="0.8"/>
<line x1="306.8" y1="133.85" x2="309.2" y2="133.85" stroke="#3a3a3a" stroke-width="0.8"/>
<line x1="333" y1="107.86" x2="333" y2="122" stroke="#3a3a3a" stroke-width="0.8"/>
<line x1="331.8" y1="107.86" x2="334.2" y2="107.86" stroke="#3a3a3a" stroke-width="0.8"/>
<line x1="331.8" y1="122" x2="334.2" y2="122" stroke="#3a3a3a" stroke-width="0.8"/>
<path d="M229.11 147.46 L232.89 147.46 L231 150.88Z" fill="#999" stroke="#444" stroke-width="0.6"/>
<path d="M237.36 146.78 L241.14 146.78 L239.25 150.2Z" fill="#999" stroke="#444" stroke-width="0.6"/>
<path d="M248.36 149.74 L252.14 149.74 L250.25 153.16Z" fill="#999" stroke="#444" stroke-width="0.6"/>
<path d="M267.61 148.14 L271.39 148.14 L269.5 151.56Z" fill="#999" stroke="#444" stroke-width="0.6"/>
<path d="M286.86 147.46 L290.64 147.46 L288.75 150.88Z" fill="#999" stroke="#444" stroke-width="0.6"/>
<path d="M306.11 149.28 L309.89 149.28 L308 152.7Z" fill="#999" stroke="#444" stroke-width="0.6"/>
<path d="M331.11 145.64 L334.89 145.64 L333 149.06Z" fill="#999" stroke="#444" stroke-width="0.6"/>
<path d="M231 146.83 L232.98 150.34 L229.02 150.34Z" fill="#24502a"/>
<path d="M239.25 159.6 L241.23 163.11 L237.27 163.11Z" fill="#24502a"/>
<path d="M250.25 148.43 L252.23 151.94 L248.27 151.94Z" fill="#24502a"/>
<path d="M269.5 143.18 L271.48 146.69 L267.52 146.69Z" fill="#24502a"/>
<path d="M288.75 141.13 L290.73 144.64 L286.77 144.64Z" fill="#24502a"/>
<path d="M308 143.64 L309.98 147.15 L306.02 147.15Z" fill="#24502a"/>
<path d="M333 143.18 L334.98 146.69 L331.02 146.69Z" fill="#24502a"/>
<rect x="229.2" y="147.1" width="3.6" height="3.6" rx="0.6" fill="#7d1b2c"/>
<rect x="237.45" y="160.32" width="3.6" height="3.6" rx="0.6" fill="#7d1b2c"/>
<rect x="248.45" y="142.08" width="3.6" height="3.6" rx="0.6" fill="#7d1b2c"/>
<rect x="267.7" y="133.19" width="3.6" height="3.6" rx="0.6" fill="#7d1b2c"/>
<rect x="286.95" y="131.6" width="3.6" height="3.6" rx="0.6" fill="#7d1b2c"/>
<rect x="306.2" y="134.79" width="3.6" height="3.6" rx="0.6" fill="#7d1b2c"/>
<rect x="331.2" y="132.96" width="3.6" height="3.6" rx="0.6" fill="#7d1b2c"/>
<path d="M231 146.74 L232.98 148.9 L231 151.06 L229.02 148.9Z" fill="#1c2f48"/>
<path d="M239.25 159.05 L241.23 161.21 L239.25 163.37 L237.27 161.21Z" fill="#1c2f48"/>
<path d="M250.25 141.04 L252.23 143.2 L250.25 145.36 L248.27 143.2Z" fill="#1c2f48"/>
<path d="M269.5 126.22 L271.48 128.38 L269.5 130.54 L267.52 128.38Z" fill="#1c2f48"/>
<path d="M288.75 125.31 L290.73 127.47 L288.75 129.63 L286.77 127.47Z" fill="#1c2f48"/>
<path d="M308 126.68 L309.98 128.84 L308 131 L306.02 128.84Z" fill="#1c2f48"/>
<path d="M333 112.77 L334.98 114.93 L333 117.09 L331.02 114.93Z" fill="#1c2f48"/>
<text x="260.8" y="94.2" font-size="8.3" fill="#2a2a2a" textLength="44.6" lengthAdjust="spacingAndGlyphs">CD8<tspan font-size="5.2" dy="-3">+</tspan><tspan dy="3"> T cells</tspan></text>
<text transform="translate(207.5 155.5) rotate(-90)" x="0" y="0" font-size="8.2" fill="#222" stroke="#222" stroke-width="0.22" textLength="35.5" lengthAdjust="spacingAndGlyphs">Fold change</text>
<path d="M343.0 114.9 H345.1 V145.2 H343.0" fill="none" stroke="#444" stroke-width="0.8"/>
<circle cx="347.5" cy="127.6" r="0.7" fill="#333"/>
<circle cx="347.5" cy="130.1" r="0.7" fill="#333"/>
<circle cx="347.5" cy="132.6" r="0.7" fill="#333"/>
<text x="354.6" y="95.7" font-size="11.2" fill="#0a0a0a" font-weight="bold" stroke="#0a0a0a" stroke-width="0.35">D</text>
<line x1="396.4" y1="100.2" x2="396.4" y2="172.3" stroke="#2a2a2a" stroke-width="1.1"/>
<line x1="395.9" y1="171.8" x2="485.2" y2="171.8" stroke="#2a2a2a" stroke-width="1.1"/>
<line x1="488.2" y1="171.8" x2="501.5" y2="171.8" stroke="#2a2a2a" stroke-width="1.1"/>
<line x1="485.2" y1="168.8" x2="485.2" y2="174.8" stroke="#2a2a2a" stroke-width="1.1"/>
<line x1="488.2" y1="168.8" x2="488.2" y2="174.8" stroke="#2a2a2a" stroke-width="1.1"/>
<line x1="392.8" y1="171.8" x2="396.4" y2="171.8" stroke="#2a2a2a" stroke-width="1"/>
<text x="390.1" y="174.6" font-size="8" fill="#2a2a2a" text-anchor="end">0.0</text>
<line x1="392.8" y1="158.06" x2="396.4" y2="158.06" stroke="#2a2a2a" stroke-width="1"/>
<text x="390.1" y="160.86" font-size="8" fill="#2a2a2a" text-anchor="end">0.5</text>
<line x1="392.8" y1="144.32" x2="396.4" y2="144.32" stroke="#2a2a2a" stroke-width="1"/>
<text x="390.1" y="147.12" font-size="8" fill="#2a2a2a" text-anchor="end">1.0</text>
<line x1="392.8" y1="130.58" x2="396.4" y2="130.58" stroke="#2a2a2a" stroke-width="1"/>
<text x="390.1" y="133.38" font-size="8" fill="#2a2a2a" text-anchor="end">1.5</text>
<line x1="392.8" y1="116.84" x2="396.4" y2="116.84" stroke="#2a2a2a" stroke-width="1"/>
<text x="390.1" y="119.64" font-size="8" fill="#2a2a2a" text-anchor="end">2.0</text>
<line x1="392.8" y1="103.1" x2="396.4" y2="103.1" stroke="#2a2a2a" stroke-width="1"/>
<text x="390.1" y="105.9" font-size="8" fill="#2a2a2a" text-anchor="end">2.5</text>
<line x1="396.4" y1="171.8" x2="396.4" y2="174.4" stroke="#2a2a2a" stroke-width="1"/>
<text x="396.4" y="184.6" font-size="8" fill="#2a2a2a" text-anchor="middle">0</text>
<line x1="415.7" y1="171.8" x2="415.7" y2="174.4" stroke="#2a2a2a" stroke-width="1"/>
<text x="415.7" y="184.6" font-size="8" fill="#2a2a2a" text-anchor="middle">7</text>
<line x1="435.1" y1="171.8" x2="435.1" y2="174.4" stroke="#2a2a2a" stroke-width="1"/>
<text x="435.1" y="184.6" font-size="8" fill="#2a2a2a" text-anchor="middle">14</text>
<line x1="454.5" y1="171.8" x2="454.5" y2="174.4" stroke="#2a2a2a" stroke-width="1"/>
<text x="454.5" y="184.6" font-size="8" fill="#2a2a2a" text-anchor="middle">21</text>
<line x1="473.8" y1="171.8" x2="473.8" y2="174.4" stroke="#2a2a2a" stroke-width="1"/>
<text x="473.8" y="184.6" font-size="8" fill="#2a2a2a" text-anchor="middle">28</text>
<line x1="498.5" y1="171.8" x2="498.5" y2="174.4" stroke="#2a2a2a" stroke-width="1"/>
<text x="498.5" y="184.6" font-size="8" fill="#2a2a2a" text-anchor="middle">56</text>
<polyline points="396.4,144.32 404.69,144.87 415.75,146.52 435.1,142.95 454.45,141.85 473.8,141.3" fill="none" stroke="#cbc5cd" stroke-width="1.15" stroke-linejoin="round"/>
<line x1="473.8" y1="141.3" x2="484.7" y2="141.66" stroke="#cbc5cd" stroke-width="1.15"/>
<line x1="489.2" y1="141.81" x2="498.5" y2="142.12" stroke="#cbc5cd" stroke-width="1.15"/>
<rect x="501.5" y="141.52" width="1.1" height="1.2" fill="#cbc5cd"/>
<rect x="503.5" y="141.52" width="1.1" height="1.2" fill="#cbc5cd"/>
<rect x="505.5" y="141.52" width="1.1" height="1.2" fill="#cbc5cd"/>
<polyline points="396.4,144.32 404.69,159.43 415.75,143.5 435.1,139.65 454.45,138.55 473.8,136.9" fill="none" stroke="#4a8f4e" stroke-width="1.15" stroke-linejoin="round"/>
<line x1="473.8" y1="136.9" x2="484.7" y2="139.93" stroke="#4a8f4e" stroke-width="1.15"/>
<line x1="489.2" y1="141.18" x2="498.5" y2="143.77" stroke="#4a8f4e" stroke-width="1.15"/>
<rect x="501.5" y="143.17" width="1.1" height="1.2" fill="#4a8f4e"/>
<rect x="503.5" y="143.17" width="1.1" height="1.2" fill="#4a8f4e"/>
<rect x="505.5" y="143.17" width="1.1" height="1.2" fill="#4a8f4e"/>
<polyline points="396.4,144.32 404.69,159.71 415.75,142.95 435.1,123.44 454.45,120.96 473.8,120.41" fill="none" stroke="#b4344c" stroke-width="1.15" stroke-linejoin="round"/>
<line x1="473.8" y1="120.41" x2="484.7" y2="125.63" stroke="#b4344c" stroke-width="1.15"/>
<line x1="489.2" y1="127.78" x2="498.5" y2="132.23" stroke="#b4344c" stroke-width="1.15"/>
<rect x="501.5" y="131.63" width="1.1" height="1.2" fill="#b4344c"/>
<rect x="503.5" y="131.63" width="1.1" height="1.2" fill="#b4344c"/>
<rect x="505.5" y="131.63" width="1.1" height="1.2" fill="#b4344c"/>
<polyline points="396.4,144.32 404.69,159.43 415.75,142.4 435.1,123.16 454.45,119.59 473.8,120.41" fill="none" stroke="#3b5676" stroke-width="1.15" stroke-linejoin="round"/>
<line x1="473.8" y1="120.41" x2="484.7" y2="118.84" stroke="#3b5676" stroke-width="1.15"/>
<line x1="489.2" y1="118.19" x2="498.5" y2="116.84" stroke="#3b5676" stroke-width="1.15"/>
<rect x="501.5" y="116.24" width="1.1" height="1.2" fill="#3b5676"/>
<rect x="503.5" y="116.24" width="1.1" height="1.2" fill="#3b5676"/>
<rect x="505.5" y="116.24" width="1.1" height="1.2" fill="#3b5676"/>
<polyline points="396.4,144.32 404.69,159.53 415.75,142.95" fill="none" stroke="#1f3a42" stroke-width="1.7" stroke-linejoin="round"/>
<line x1="404.69" y1="143.22" x2="404.69" y2="146.52" stroke="#3a3a3a" stroke-width="0.8"/>
<line x1="403.49" y1="143.22" x2="405.89" y2="143.22" stroke="#3a3a3a" stroke-width="0.8"/>
<line x1="403.49" y1="146.52" x2="405.89" y2="146.52" stroke="#3a3a3a" stroke-width="0.8"/>
<line x1="415.75" y1="144.32" x2="415.75" y2="148.72" stroke="#3a3a3a" stroke-width="0.8"/>
<line x1="414.55" y1="144.32" x2="416.95" y2="144.32" stroke="#3a3a3a" stroke-width="0.8"/>
<line x1="414.55" y1="148.72" x2="416.95" y2="148.72" stroke="#3a3a3a" stroke-width="0.8"/>
<line x1="435.1" y1="140.2" x2="435.1" y2="145.69" stroke="#3a3a3a" stroke-width="0.8"/>
<line x1="433.9" y1="140.2" x2="436.3" y2="140.2" stroke="#3a3a3a" stroke-width="0.8"/>
<line x1="433.9" y1="145.69" x2="436.3" y2="145.69" stroke="#3a3a3a" stroke-width="0.8"/>
<line x1="454.45" y1="139.1" x2="454.45" y2="144.59" stroke="#3a3a3a" stroke-width="0.8"/>
<line x1="453.25" y1="139.1" x2="455.65" y2="139.1" stroke="#3a3a3a" stroke-width="0.8"/>
<line x1="453.25" y1="144.59" x2="455.65" y2="144.59" stroke="#3a3a3a" stroke-width="0.8"/>
<line x1="473.8" y1="138.55" x2="473.8" y2="144.05" stroke="#3a3a3a" stroke-width="0.8"/>
<line x1="472.6" y1="138.55" x2="475" y2="138.55" stroke="#3a3a3a" stroke-width="0.8"/>
<line x1="472.6" y1="144.05" x2="475" y2="144.05" stroke="#3a3a3a" stroke-width="0.8"/>
<line x1="498.5" y1="139.37" x2="498.5" y2="144.87" stroke="#3a3a3a" stroke-width="0.8"/>
<line x1="497.3" y1="139.37" x2="499.7" y2="139.37" stroke="#3a3a3a" stroke-width="0.8"/>
<line x1="497.3" y1="144.87" x2="499.7" y2="144.87" stroke="#3a3a3a" stroke-width="0.8"/>
<line x1="404.69" y1="158.06" x2="404.69" y2="160.81" stroke="#3a3a3a" stroke-width="0.8"/>
<line x1="403.49" y1="158.06" x2="405.89" y2="158.06" stroke="#3a3a3a" stroke-width="0.8"/>
<line x1="403.49" y1="160.81" x2="405.89" y2="160.81" stroke="#3a3a3a" stroke-width="0.8"/>
<line x1="415.75" y1="140.75" x2="415.75" y2="146.24" stroke="#3a3a3a" stroke-width="0.8"/>
<line x1="414.55" y1="140.75" x2="416.95" y2="140.75" stroke="#3a3a3a" stroke-width="0.8"/>
<line x1="414.55" y1="146.24" x2="416.95" y2="146.24" stroke="#3a3a3a" stroke-width="0.8"/>
<line x1="435.1" y1="137.45" x2="435.1" y2="141.85" stroke="#3a3a3a" stroke-width="0.8"/>
<line x1="433.9" y1="137.45" x2="436.3" y2="137.45" stroke="#3a3a3a" stroke-width="0.8"/>
<line x1="433.9" y1="141.85" x2="436.3" y2="141.85" stroke="#3a3a3a" stroke-width="0.8"/>
<line x1="454.45" y1="135.25" x2="454.45" y2="141.85" stroke="#3a3a3a" stroke-width="0.8"/>
<line x1="453.25" y1="135.25" x2="455.65" y2="135.25" stroke="#3a3a3a" stroke-width="0.8"/>
<line x1="453.25" y1="141.85" x2="455.65" y2="141.85" stroke="#3a3a3a" stroke-width="0.8"/>
<line x1="473.8" y1="133.6" x2="473.8" y2="140.2" stroke="#3a3a3a" stroke-width="0.8"/>
<line x1="472.6" y1="133.6" x2="475" y2="133.6" stroke="#3a3a3a" stroke-width="0.8"/>
<line x1="472.6" y1="140.2" x2="475" y2="140.2" stroke="#3a3a3a" stroke-width="0.8"/>
<line x1="498.5" y1="141.57" x2="498.5" y2="145.97" stroke="#3a3a3a" stroke-width="0.8"/>
<line x1="497.3" y1="141.57" x2="499.7" y2="141.57" stroke="#3a3a3a" stroke-width="0.8"/>
<line x1="497.3" y1="145.97" x2="499.7" y2="145.97" stroke="#3a3a3a" stroke-width="0.8"/>
<line x1="404.69" y1="158.33" x2="404.69" y2="161.08" stroke="#3a3a3a" stroke-width="0.8"/>
<line x1="403.49" y1="158.33" x2="405.89" y2="158.33" stroke="#3a3a3a" stroke-width="0.8"/>
<line x1="403.49" y1="161.08" x2="405.89" y2="161.08" stroke="#3a3a3a" stroke-width="0.8"/>
<line x1="415.75" y1="140.2" x2="415.75" y2="145.69" stroke="#3a3a3a" stroke-width="0.8"/>
<line x1="414.55" y1="140.2" x2="416.95" y2="140.2" stroke="#3a3a3a" stroke-width="0.8"/>
<line x1="414.55" y1="145.69" x2="416.95" y2="145.69" stroke="#3a3a3a" stroke-width="0.8"/>
<line x1="435.1" y1="120.14" x2="435.1" y2="126.73" stroke="#3a3a3a" stroke-width="0.8"/>
<line x1="433.9" y1="120.14" x2="436.3" y2="120.14" stroke="#3a3a3a" stroke-width="0.8"/>
<line x1="433.9" y1="126.73" x2="436.3" y2="126.73" stroke="#3a3a3a" stroke-width="0.8"/>
<line x1="454.45" y1="115.47" x2="454.45" y2="126.46" stroke="#3a3a3a" stroke-width="0.8"/>
<line x1="453.25" y1="115.47" x2="455.65" y2="115.47" stroke="#3a3a3a" stroke-width="0.8"/>
<line x1="453.25" y1="126.46" x2="455.65" y2="126.46" stroke="#3a3a3a" stroke-width="0.8"/>
<line x1="473.8" y1="114.92" x2="473.8" y2="125.91" stroke="#3a3a3a" stroke-width="0.8"/>
<line x1="472.6" y1="114.92" x2="475" y2="114.92" stroke="#3a3a3a" stroke-width="0.8"/>
<line x1="472.6" y1="125.91" x2="475" y2="125.91" stroke="#3a3a3a" stroke-width="0.8"/>
<line x1="498.5" y1="128.11" x2="498.5" y2="136.35" stroke="#3a3a3a" stroke-width="0.8"/>
<line x1="497.3" y1="128.11" x2="499.7" y2="128.11" stroke="#3a3a3a" stroke-width="0.8"/>
<line x1="497.3" y1="136.35" x2="499.7" y2="136.35" stroke="#3a3a3a" stroke-width="0.8"/>
<line x1="404.69" y1="158.06" x2="404.69" y2="160.81" stroke="#3a3a3a" stroke-width="0.8"/>
<line x1="403.49" y1="158.06" x2="405.89" y2="158.06" stroke="#3a3a3a" stroke-width="0.8"/>
<line x1="403.49" y1="160.81" x2="405.89" y2="160.81" stroke="#3a3a3a" stroke-width="0.8"/>
<line x1="415.75" y1="139.65" x2="415.75" y2="145.14" stroke="#3a3a3a" stroke-width="0.8"/>
<line x1="414.55" y1="139.65" x2="416.95" y2="139.65" stroke="#3a3a3a" stroke-width="0.8"/>
<line x1="414.55" y1="145.14" x2="416.95" y2="145.14" stroke="#3a3a3a" stroke-width="0.8"/>
<line x1="435.1" y1="120.41" x2="435.1" y2="125.91" stroke="#3a3a3a" stroke-width="0.8"/>
<line x1="433.9" y1="120.41" x2="436.3" y2="120.41" stroke="#3a3a3a" stroke-width="0.8"/>
<line x1="433.9" y1="125.91" x2="436.3" y2="125.91" stroke="#3a3a3a" stroke-width="0.8"/>
<line x1="454.45" y1="114.09" x2="454.45" y2="125.08" stroke="#3a3a3a" stroke-width="0.8"/>
<line x1="453.25" y1="114.09" x2="455.65" y2="114.09" stroke="#3a3a3a" stroke-width="0.8"/>
<line x1="453.25" y1="125.08" x2="455.65" y2="125.08" stroke="#3a3a3a" stroke-width="0.8"/>
<line x1="473.8" y1="114.92" x2="473.8" y2="125.91" stroke="#3a3a3a" stroke-width="0.8"/>
<line x1="472.6" y1="114.92" x2="475" y2="114.92" stroke="#3a3a3a" stroke-width="0.8"/>
<line x1="472.6" y1="125.91" x2="475" y2="125.91" stroke="#3a3a3a" stroke-width="0.8"/>
<line x1="498.5" y1="109.97" x2="498.5" y2="123.71" stroke="#3a3a3a" stroke-width="0.8"/>
<line x1="497.3" y1="109.97" x2="499.7" y2="109.97" stroke="#3a3a3a" stroke-width="0.8"/>
<line x1="497.3" y1="123.71" x2="499.7" y2="123.71" stroke="#3a3a3a" stroke-width="0.8"/>
<path d="M394.51 142.88 L398.29 142.88 L396.4 146.3Z" fill="#999" stroke="#444" stroke-width="0.6"/>
<path d="M402.8 143.43 L406.58 143.43 L404.69 146.85Z" fill="#999" stroke="#444" stroke-width="0.6"/>
<path d="M413.86 145.08 L417.64 145.08 L415.75 148.5Z" fill="#999" stroke="#444" stroke-width="0.6"/>
<path d="M433.21 141.51 L436.99 141.51 L435.1 144.93Z" fill="#999" stroke="#444" stroke-width="0.6"/>
<path d="M452.56 140.41 L456.34 140.41 L454.45 143.83Z" fill="#999" stroke="#444" stroke-width="0.6"/>
<path d="M471.91 139.86 L475.69 139.86 L473.8 143.28Z" fill="#999" stroke="#444" stroke-width="0.6"/>
<path d="M496.61 140.68 L500.39 140.68 L498.5 144.1Z" fill="#999" stroke="#444" stroke-width="0.6"/>
<path d="M396.4 142.25 L398.38 145.76 L394.42 145.76Z" fill="#24502a"/>
<path d="M404.69 157.36 L406.67 160.87 L402.71 160.87Z" fill="#24502a"/>
<path d="M415.75 141.43 L417.73 144.94 L413.77 144.94Z" fill="#24502a"/>
<path d="M435.1 137.58 L437.08 141.09 L433.12 141.09Z" fill="#24502a"/>
<path d="M454.45 136.48 L456.43 139.99 L452.47 139.99Z" fill="#24502a"/>
<path d="M473.8 134.83 L475.78 138.34 L471.82 138.34Z" fill="#24502a"/>
<path d="M498.5 141.7 L500.48 145.21 L496.52 145.21Z" fill="#24502a"/>
<rect x="394.6" y="142.52" width="3.6" height="3.6" rx="0.6" fill="#7d1b2c"/>
<rect x="402.89" y="157.91" width="3.6" height="3.6" rx="0.6" fill="#7d1b2c"/>
<rect x="413.95" y="141.15" width="3.6" height="3.6" rx="0.6" fill="#7d1b2c"/>
<rect x="433.3" y="121.64" width="3.6" height="3.6" rx="0.6" fill="#7d1b2c"/>
<rect x="452.65" y="119.16" width="3.6" height="3.6" rx="0.6" fill="#7d1b2c"/>
<rect x="472" y="118.61" width="3.6" height="3.6" rx="0.6" fill="#7d1b2c"/>
<rect x="496.7" y="130.43" width="3.6" height="3.6" rx="0.6" fill="#7d1b2c"/>
<path d="M396.4 142.16 L398.38 144.32 L396.4 146.48 L394.42 144.32Z" fill="#1c2f48"/>
<path d="M404.69 157.27 L406.67 159.43 L404.69 161.59 L402.71 159.43Z" fill="#1c2f48"/>
<path d="M415.75 140.24 L417.73 142.4 L415.75 144.56 L413.77 142.4Z" fill="#1c2f48"/>
<path d="M435.1 121 L437.08 123.16 L435.1 125.32 L433.12 123.16Z" fill="#1c2f48"/>
<path d="M454.45 117.43 L456.43 119.59 L454.45 121.75 L452.47 119.59Z" fill="#1c2f48"/>
<path d="M473.8 118.25 L475.78 120.41 L473.8 122.57 L471.82 120.41Z" fill="#1c2f48"/>
<path d="M498.5 114.68 L500.48 116.84 L498.5 119 L496.52 116.84Z" fill="#1c2f48"/>
<text x="426.3" y="94.5" font-size="8.3" fill="#2a2a2a" textLength="44.6" lengthAdjust="spacingAndGlyphs">CD4<tspan font-size="5.2" dy="-3">+</tspan><tspan dy="3"> T cells</tspan></text>
<text transform="translate(372.5 154.6) rotate(-90)" x="0" y="0" font-size="8.2" fill="#222" stroke="#222" stroke-width="0.22" textLength="34.9" lengthAdjust="spacingAndGlyphs">Fold change</text>
<path d="M510.8 117.0 H515.8 V144.0 H514.3" fill="none" stroke="#444" stroke-width="0.8"/>
<path d="M509.5 132.2 H511.5 V144.0 H509.5" fill="none" stroke="#444" stroke-width="0.8"/>
<circle cx="513.6" cy="134.2" r="0.7" fill="#333"/>
<circle cx="513.6" cy="136.8" r="0.7" fill="#333"/>
<circle cx="513.6" cy="139.4" r="0.7" fill="#333"/>
<circle cx="518.2" cy="125.6" r="0.7" fill="#333"/>
<circle cx="518.2" cy="128" r="0.7" fill="#333"/>
<circle cx="518.2" cy="130.4" r="0.7" fill="#333"/>
<line x1="230.8" y1="210.9" x2="230.8" y2="283.3" stroke="#2a2a2a" stroke-width="1.1"/>
<line x1="230.3" y1="282.8" x2="320.1" y2="282.8" stroke="#2a2a2a" stroke-width="1.1"/>
<line x1="323.2" y1="282.8" x2="334" y2="282.8" stroke="#2a2a2a" stroke-width="1.1"/>
<line x1="320.1" y1="279.8" x2="320.1" y2="285.8" stroke="#2a2a2a" stroke-width="1.1"/>
<line x1="323.2" y1="279.8" x2="323.2" y2="285.8" stroke="#2a2a2a" stroke-width="1.1"/>
<line x1="227.2" y1="282.8" x2="230.8" y2="282.8" stroke="#2a2a2a" stroke-width="1"/>
<text x="224.5" y="285.6" font-size="8" fill="#2a2a2a" text-anchor="end">0.0</text>
<line x1="227.2" y1="248.5" x2="230.8" y2="248.5" stroke="#2a2a2a" stroke-width="1"/>
<text x="224.5" y="251.3" font-size="8" fill="#2a2a2a" text-anchor="end">0.5</text>
<line x1="227.2" y1="214.2" x2="230.8" y2="214.2" stroke="#2a2a2a" stroke-width="1"/>
<text x="224.5" y="217" font-size="8" fill="#2a2a2a" text-anchor="end">1.0</text>
<line x1="230.8" y1="282.8" x2="230.8" y2="285.4" stroke="#2a2a2a" stroke-width="1"/>
<text x="230.8" y="295.6" font-size="8" fill="#2a2a2a" text-anchor="middle">0</text>
<line x1="249.9" y1="282.8" x2="249.9" y2="285.4" stroke="#2a2a2a" stroke-width="1"/>
<text x="249.9" y="295.6" font-size="8" fill="#2a2a2a" text-anchor="middle">7</text>
<line x1="269.3" y1="282.8" x2="269.3" y2="285.4" stroke="#2a2a2a" stroke-width="1"/>
<text x="269.3" y="295.6" font-size="8" fill="#2a2a2a" text-anchor="middle">14</text>
<line x1="288.5" y1="282.8" x2="288.5" y2="285.4" stroke="#2a2a2a" stroke-width="1"/>
<text x="288.5" y="295.6" font-size="8" fill="#2a2a2a" text-anchor="middle">21</text>
<line x1="308.1" y1="282.8" x2="308.1" y2="285.4" stroke="#2a2a2a" stroke-width="1"/>
<text x="308.1" y="295.6" font-size="8" fill="#2a2a2a" text-anchor="middle">28</text>
<line x1="331.7" y1="282.8" x2="331.7" y2="285.4" stroke="#2a2a2a" stroke-width="1"/>
<text x="331.7" y="295.6" font-size="8" fill="#2a2a2a" text-anchor="middle">56</text>
<polyline points="230.8,245.07 239.08,252.62 250.13,257.42 269.45,255.36 288.78,255.36 308.1,256.73" fill="none" stroke="#cbc5cd" stroke-width="1.15" stroke-linejoin="round"/>
<line x1="308.1" y1="256.73" x2="319.6" y2="253.05" stroke="#cbc5cd" stroke-width="1.15"/>
<line x1="324.2" y1="251.58" x2="331.7" y2="249.19" stroke="#cbc5cd" stroke-width="1.15"/>
<polyline points="230.8,248.5 239.08,266.34 250.13,249.19 269.45,236.84 288.78,237.52 308.1,243.01" fill="none" stroke="#4a8f4e" stroke-width="1.15" stroke-linejoin="round"/>
<line x1="308.1" y1="243.01" x2="319.6" y2="240" stroke="#4a8f4e" stroke-width="1.15"/>
<line x1="324.2" y1="238.8" x2="331.7" y2="236.84" stroke="#4a8f4e" stroke-width="1.15"/>
<polyline points="230.8,247.13 239.08,269.77 250.13,241.64 269.45,228.61 288.78,225.86 308.1,231.35" fill="none" stroke="#b4344c" stroke-width="1.15" stroke-linejoin="round"/>
<line x1="308.1" y1="231.35" x2="319.6" y2="229.68" stroke="#b4344c" stroke-width="1.15"/>
<line x1="324.2" y1="229.01" x2="331.7" y2="227.92" stroke="#b4344c" stroke-width="1.15"/>
<polyline points="230.8,253.99 239.08,270.8 250.13,250.56 269.45,232.72 288.78,231.35 308.1,234.09" fill="none" stroke="#3b5676" stroke-width="1.15" stroke-linejoin="round"/>
<line x1="308.1" y1="234.09" x2="319.6" y2="228.41" stroke="#3b5676" stroke-width="1.15"/>
<line x1="324.2" y1="226.14" x2="331.7" y2="222.43" stroke="#3b5676" stroke-width="1.15"/>
<line x1="239.08" y1="249.87" x2="239.08" y2="255.36" stroke="#3a3a3a" stroke-width="0.8"/>
<line x1="237.88" y1="249.87" x2="240.28" y2="249.87" stroke="#3a3a3a" stroke-width="0.8"/>
<line x1="237.88" y1="255.36" x2="240.28" y2="255.36" stroke="#3a3a3a" stroke-width="0.8"/>
<line x1="250.13" y1="255.36" x2="250.13" y2="259.48" stroke="#3a3a3a" stroke-width="0.8"/>
<line x1="248.93" y1="255.36" x2="251.33" y2="255.36" stroke="#3a3a3a" stroke-width="0.8"/>
<line x1="248.93" y1="259.48" x2="251.33" y2="259.48" stroke="#3a3a3a" stroke-width="0.8"/>
<line x1="269.45" y1="252.62" x2="269.45" y2="258.1" stroke="#3a3a3a" stroke-width="0.8"/>
<line x1="268.25" y1="252.62" x2="270.65" y2="252.62" stroke="#3a3a3a" stroke-width="0.8"/>
<line x1="268.25" y1="258.1" x2="270.65" y2="258.1" stroke="#3a3a3a" stroke-width="0.8"/>
<line x1="288.78" y1="252.62" x2="288.78" y2="258.1" stroke="#3a3a3a" stroke-width="0.8"/>
<line x1="287.58" y1="252.62" x2="289.98" y2="252.62" stroke="#3a3a3a" stroke-width="0.8"/>
<line x1="287.58" y1="258.1" x2="289.98" y2="258.1" stroke="#3a3a3a" stroke-width="0.8"/>
<line x1="308.1" y1="253.99" x2="308.1" y2="259.48" stroke="#3a3a3a" stroke-width="0.8"/>
<line x1="306.9" y1="253.99" x2="309.3" y2="253.99" stroke="#3a3a3a" stroke-width="0.8"/>
<line x1="306.9" y1="259.48" x2="309.3" y2="259.48" stroke="#3a3a3a" stroke-width="0.8"/>
<line x1="331.7" y1="245.07" x2="331.7" y2="253.3" stroke="#3a3a3a" stroke-width="0.8"/>
<line x1="330.5" y1="245.07" x2="332.9" y2="245.07" stroke="#3a3a3a" stroke-width="0.8"/>
<line x1="330.5" y1="253.3" x2="332.9" y2="253.3" stroke="#3a3a3a" stroke-width="0.8"/>
<line x1="239.08" y1="264.28" x2="239.08" y2="268.39" stroke="#3a3a3a" stroke-width="0.8"/>
<line x1="237.88" y1="264.28" x2="240.28" y2="264.28" stroke="#3a3a3a" stroke-width="0.8"/>
<line x1="237.88" y1="268.39" x2="240.28" y2="268.39" stroke="#3a3a3a" stroke-width="0.8"/>
<line x1="250.13" y1="244.38" x2="250.13" y2="253.99" stroke="#3a3a3a" stroke-width="0.8"/>
<line x1="248.93" y1="244.38" x2="251.33" y2="244.38" stroke="#3a3a3a" stroke-width="0.8"/>
<line x1="248.93" y1="253.99" x2="251.33" y2="253.99" stroke="#3a3a3a" stroke-width="0.8"/>
<line x1="269.45" y1="229.98" x2="269.45" y2="243.7" stroke="#3a3a3a" stroke-width="0.8"/>
<line x1="268.25" y1="229.98" x2="270.65" y2="229.98" stroke="#3a3a3a" stroke-width="0.8"/>
<line x1="268.25" y1="243.7" x2="270.65" y2="243.7" stroke="#3a3a3a" stroke-width="0.8"/>
<line x1="288.78" y1="233.41" x2="288.78" y2="241.64" stroke="#3a3a3a" stroke-width="0.8"/>
<line x1="287.58" y1="233.41" x2="289.98" y2="233.41" stroke="#3a3a3a" stroke-width="0.8"/>
<line x1="287.58" y1="241.64" x2="289.98" y2="241.64" stroke="#3a3a3a" stroke-width="0.8"/>
<line x1="308.1" y1="238.9" x2="308.1" y2="247.13" stroke="#3a3a3a" stroke-width="0.8"/>
<line x1="306.9" y1="238.9" x2="309.3" y2="238.9" stroke="#3a3a3a" stroke-width="0.8"/>
<line x1="306.9" y1="247.13" x2="309.3" y2="247.13" stroke="#3a3a3a" stroke-width="0.8"/>
<line x1="331.7" y1="229.98" x2="331.7" y2="243.7" stroke="#3a3a3a" stroke-width="0.8"/>
<line x1="330.5" y1="229.98" x2="332.9" y2="229.98" stroke="#3a3a3a" stroke-width="0.8"/>
<line x1="330.5" y1="243.7" x2="332.9" y2="243.7" stroke="#3a3a3a" stroke-width="0.8"/>
<line x1="239.08" y1="267.71" x2="239.08" y2="271.82" stroke="#3a3a3a" stroke-width="0.8"/>
<line x1="237.88" y1="267.71" x2="240.28" y2="267.71" stroke="#3a3a3a" stroke-width="0.8"/>
<line x1="237.88" y1="271.82" x2="240.28" y2="271.82" stroke="#3a3a3a" stroke-width="0.8"/>
<line x1="250.13" y1="236.15" x2="250.13" y2="247.13" stroke="#3a3a3a" stroke-width="0.8"/>
<line x1="248.93" y1="236.15" x2="251.33" y2="236.15" stroke="#3a3a3a" stroke-width="0.8"/>
<line x1="248.93" y1="247.13" x2="251.33" y2="247.13" stroke="#3a3a3a" stroke-width="0.8"/>
<line x1="269.45" y1="221.75" x2="269.45" y2="235.47" stroke="#3a3a3a" stroke-width="0.8"/>
<line x1="268.25" y1="221.75" x2="270.65" y2="221.75" stroke="#3a3a3a" stroke-width="0.8"/>
<line x1="268.25" y1="235.47" x2="270.65" y2="235.47" stroke="#3a3a3a" stroke-width="0.8"/>
<line x1="288.78" y1="219" x2="288.78" y2="232.72" stroke="#3a3a3a" stroke-width="0.8"/>
<line x1="287.58" y1="219" x2="289.98" y2="219" stroke="#3a3a3a" stroke-width="0.8"/>
<line x1="287.58" y1="232.72" x2="289.98" y2="232.72" stroke="#3a3a3a" stroke-width="0.8"/>
<line x1="308.1" y1="224.49" x2="308.1" y2="238.21" stroke="#3a3a3a" stroke-width="0.8"/>
<line x1="306.9" y1="224.49" x2="309.3" y2="224.49" stroke="#3a3a3a" stroke-width="0.8"/>
<line x1="306.9" y1="238.21" x2="309.3" y2="238.21" stroke="#3a3a3a" stroke-width="0.8"/>
<line x1="331.7" y1="219.69" x2="331.7" y2="236.15" stroke="#3a3a3a" stroke-width="0.8"/>
<line x1="330.5" y1="219.69" x2="332.9" y2="219.69" stroke="#3a3a3a" stroke-width="0.8"/>
<line x1="330.5" y1="236.15" x2="332.9" y2="236.15" stroke="#3a3a3a" stroke-width="0.8"/>
<line x1="239.08" y1="268.74" x2="239.08" y2="272.85" stroke="#3a3a3a" stroke-width="0.8"/>
<line x1="237.88" y1="268.74" x2="240.28" y2="268.74" stroke="#3a3a3a" stroke-width="0.8"/>
<line x1="237.88" y1="272.85" x2="240.28" y2="272.85" stroke="#3a3a3a" stroke-width="0.8"/>
<line x1="250.13" y1="245.76" x2="250.13" y2="255.36" stroke="#3a3a3a" stroke-width="0.8"/>
<line x1="248.93" y1="245.76" x2="251.33" y2="245.76" stroke="#3a3a3a" stroke-width="0.8"/>
<line x1="248.93" y1="255.36" x2="251.33" y2="255.36" stroke="#3a3a3a" stroke-width="0.8"/>
<line x1="269.45" y1="225.86" x2="269.45" y2="239.58" stroke="#3a3a3a" stroke-width="0.8"/>
<line x1="268.25" y1="225.86" x2="270.65" y2="225.86" stroke="#3a3a3a" stroke-width="0.8"/>
<line x1="268.25" y1="239.58" x2="270.65" y2="239.58" stroke="#3a3a3a" stroke-width="0.8"/>
<line x1="288.78" y1="225.86" x2="288.78" y2="236.84" stroke="#3a3a3a" stroke-width="0.8"/>
<line x1="287.58" y1="225.86" x2="289.98" y2="225.86" stroke="#3a3a3a" stroke-width="0.8"/>
<line x1="287.58" y1="236.84" x2="289.98" y2="236.84" stroke="#3a3a3a" stroke-width="0.8"/>
<line x1="308.1" y1="227.23" x2="308.1" y2="240.95" stroke="#3a3a3a" stroke-width="0.8"/>
<line x1="306.9" y1="227.23" x2="309.3" y2="227.23" stroke="#3a3a3a" stroke-width="0.8"/>
<line x1="306.9" y1="240.95" x2="309.3" y2="240.95" stroke="#3a3a3a" stroke-width="0.8"/>
<line x1="331.7" y1="214.2" x2="331.7" y2="230.66" stroke="#3a3a3a" stroke-width="0.8"/>
<line x1="330.5" y1="214.2" x2="332.9" y2="214.2" stroke="#3a3a3a" stroke-width="0.8"/>
<line x1="330.5" y1="230.66" x2="332.9" y2="230.66" stroke="#3a3a3a" stroke-width="0.8"/>
<path d="M228.91 243.63 L232.69 243.63 L230.8 247.05Z" fill="#999" stroke="#444" stroke-width="0.6"/>
<path d="M237.19 251.18 L240.97 251.18 L239.08 254.6Z" fill="#999" stroke="#444" stroke-width="0.6"/>
<path d="M248.24 255.98 L252.02 255.98 L250.13 259.4Z" fill="#999" stroke="#444" stroke-width="0.6"/>
<path d="M267.56 253.92 L271.34 253.92 L269.45 257.34Z" fill="#999" stroke="#444" stroke-width="0.6"/>
<path d="M286.89 253.92 L290.67 253.92 L288.78 257.34Z" fill="#999" stroke="#444" stroke-width="0.6"/>
<path d="M306.21 255.29 L309.99 255.29 L308.1 258.71Z" fill="#999" stroke="#444" stroke-width="0.6"/>
<path d="M329.81 247.75 L333.59 247.75 L331.7 251.17Z" fill="#999" stroke="#444" stroke-width="0.6"/>
<path d="M230.8 246.43 L232.78 249.94 L228.82 249.94Z" fill="#24502a"/>
<path d="M239.08 264.27 L241.06 267.78 L237.1 267.78Z" fill="#24502a"/>
<path d="M250.13 247.12 L252.11 250.63 L248.15 250.63Z" fill="#24502a"/>
<path d="M269.45 234.77 L271.43 238.28 L267.47 238.28Z" fill="#24502a"/>
<path d="M288.78 235.45 L290.76 238.96 L286.8 238.96Z" fill="#24502a"/>
<path d="M308.1 240.94 L310.08 244.45 L306.12 244.45Z" fill="#24502a"/>
<path d="M331.7 234.77 L333.68 238.28 L329.72 238.28Z" fill="#24502a"/>
<rect x="229" y="245.33" width="3.6" height="3.6" rx="0.6" fill="#7d1b2c"/>
<rect x="237.28" y="267.97" width="3.6" height="3.6" rx="0.6" fill="#7d1b2c"/>
<rect x="248.33" y="239.84" width="3.6" height="3.6" rx="0.6" fill="#7d1b2c"/>
<rect x="267.65" y="226.81" width="3.6" height="3.6" rx="0.6" fill="#7d1b2c"/>
<rect x="286.98" y="224.06" width="3.6" height="3.6" rx="0.6" fill="#7d1b2c"/>
<rect x="306.3" y="229.55" width="3.6" height="3.6" rx="0.6" fill="#7d1b2c"/>
<rect x="329.9" y="226.12" width="3.6" height="3.6" rx="0.6" fill="#7d1b2c"/>
<path d="M230.8 251.83 L232.78 253.99 L230.8 256.15 L228.82 253.99Z" fill="#1c2f48"/>
<path d="M239.08 268.63 L241.06 270.8 L239.08 272.96 L237.1 270.8Z" fill="#1c2f48"/>
<path d="M250.13 248.4 L252.11 250.56 L250.13 252.72 L248.15 250.56Z" fill="#1c2f48"/>
<path d="M269.45 230.56 L271.43 232.72 L269.45 234.88 L267.47 232.72Z" fill="#1c2f48"/>
<path d="M288.78 229.19 L290.76 231.35 L288.78 233.51 L286.8 231.35Z" fill="#1c2f48"/>
<path d="M308.1 231.93 L310.08 234.09 L308.1 236.25 L306.12 234.09Z" fill="#1c2f48"/>
<path d="M331.7 220.27 L333.68 222.43 L331.7 224.59 L329.72 222.43Z" fill="#1c2f48"/>
<text transform="translate(197.2 279) rotate(-90)" x="0" y="0" font-size="8.8" fill="#222" stroke="#222" stroke-width="0.22" textLength="61.2" lengthAdjust="spacingAndGlyphs">Absolute cell number</text>
<text transform="translate(206.6 277.6) rotate(-90)" x="0" y="0" font-size="8.4" fill="#222" stroke="#222" stroke-width="0.22" textLength="57.2" lengthAdjust="spacingAndGlyphs">(×10<tspan font-size="5.6" dy="-3.2">3</tspan><tspan dy="3.2"> cells / mm</tspan><tspan font-size="5.6" dy="-3.2">3</tspan><tspan dy="3.2">)</tspan></text>
<path d="M230.8 196.58 L232.45 199.5 L229.15 199.5Z" fill="#24502a"/>
<rect x="229.3" y="200.9" width="3" height="3" rx="0.6" fill="#7d1b2c"/>
<path d="M230.8 204.6 L232.45 206.4 L230.8 208.2 L229.15 206.4Z" fill="#1c2f48"/>
<text x="239.08" y="201.4" font-size="5.6" fill="#333" text-anchor="middle">**</text>
<text x="239.08" y="205.5" font-size="5.6" fill="#333" text-anchor="middle">**</text>
<text x="239.08" y="209.5" font-size="5.6" fill="#333" text-anchor="middle">*</text>
<text x="288.78" y="201.4" font-size="5.6" fill="#333" text-anchor="middle">*</text>
<text x="269.45" y="205.5" font-size="5.6" fill="#333" text-anchor="middle">*</text>
<text x="288.78" y="205.5" font-size="5.6" fill="#333" text-anchor="middle">**</text>
<text x="308.1" y="205.5" font-size="5.6" fill="#333" text-anchor="middle">**</text>
<text x="331.7" y="205.5" font-size="5.6" fill="#333" text-anchor="middle">*</text>
<text x="269.45" y="209.5" font-size="5.6" fill="#333" text-anchor="middle">**</text>
<text x="288.78" y="209.5" font-size="5.6" fill="#333" text-anchor="middle">**</text>
<text x="308.1" y="209.5" font-size="5.6" fill="#333" text-anchor="middle">**</text>
<text x="331.7" y="209.5" font-size="5.6" fill="#333" text-anchor="middle">**</text>
<line x1="396.2" y1="219.2" x2="396.2" y2="291" stroke="#2a2a2a" stroke-width="1.1"/>
<line x1="395.7" y1="290.5" x2="485.5" y2="290.5" stroke="#2a2a2a" stroke-width="1.1"/>
<line x1="488.2" y1="290.5" x2="501" y2="290.5" stroke="#2a2a2a" stroke-width="1.1"/>
<line x1="485.5" y1="287.5" x2="485.5" y2="293.5" stroke="#2a2a2a" stroke-width="1.1"/>
<line x1="488.2" y1="287.5" x2="488.2" y2="293.5" stroke="#2a2a2a" stroke-width="1.1"/>
<line x1="392.6" y1="290.5" x2="396.2" y2="290.5" stroke="#2a2a2a" stroke-width="1"/>
<text x="389.9" y="293.3" font-size="8" fill="#2a2a2a" text-anchor="end">0.0</text>
<line x1="392.6" y1="273.23" x2="396.2" y2="273.23" stroke="#2a2a2a" stroke-width="1"/>
<text x="389.9" y="276.03" font-size="8" fill="#2a2a2a" text-anchor="end">0.5</text>
<line x1="392.6" y1="255.95" x2="396.2" y2="255.95" stroke="#2a2a2a" stroke-width="1"/>
<text x="389.9" y="258.75" font-size="8" fill="#2a2a2a" text-anchor="end">1.0</text>
<line x1="392.6" y1="238.68" x2="396.2" y2="238.68" stroke="#2a2a2a" stroke-width="1"/>
<text x="389.9" y="241.48" font-size="8" fill="#2a2a2a" text-anchor="end">1.5</text>
<line x1="392.6" y1="221.4" x2="396.2" y2="221.4" stroke="#2a2a2a" stroke-width="1"/>
<text x="389.9" y="224.2" font-size="8" fill="#2a2a2a" text-anchor="end">2.0</text>
<line x1="396.2" y1="290.5" x2="396.2" y2="293.1" stroke="#2a2a2a" stroke-width="1"/>
<text x="396.2" y="303.3" font-size="8" fill="#2a2a2a" text-anchor="middle">0</text>
<line x1="415.5" y1="290.5" x2="415.5" y2="293.1" stroke="#2a2a2a" stroke-width="1"/>
<text x="415.5" y="303.3" font-size="8" fill="#2a2a2a" text-anchor="middle">7</text>
<line x1="435" y1="290.5" x2="435" y2="293.1" stroke="#2a2a2a" stroke-width="1"/>
<text x="435" y="303.3" font-size="8" fill="#2a2a2a" text-anchor="middle">14</text>
<line x1="454.5" y1="290.5" x2="454.5" y2="293.1" stroke="#2a2a2a" stroke-width="1"/>
<text x="454.5" y="303.3" font-size="8" fill="#2a2a2a" text-anchor="middle">21</text>
<line x1="473.7" y1="290.5" x2="473.7" y2="293.1" stroke="#2a2a2a" stroke-width="1"/>
<text x="473.7" y="303.3" font-size="8" fill="#2a2a2a" text-anchor="middle">28</text>
<line x1="498.2" y1="290.5" x2="498.2" y2="293.1" stroke="#2a2a2a" stroke-width="1"/>
<text x="498.2" y="303.3" font-size="8" fill="#2a2a2a" text-anchor="middle">56</text>
<polyline points="396.2,264.59 404.5,269.77 415.57,270.46 434.95,269.42 454.32,267.35 473.7,267.01" fill="none" stroke="#cbc5cd" stroke-width="1.15" stroke-linejoin="round"/>
<line x1="473.7" y1="267.01" x2="485" y2="267.48" stroke="#cbc5cd" stroke-width="1.15"/>
<line x1="489.2" y1="267.66" x2="498.2" y2="268.04" stroke="#cbc5cd" stroke-width="1.15"/>
<polyline points="396.2,262.86 404.5,278.41 415.57,258.71 434.95,254.91 454.32,254.57 473.7,252.84" fill="none" stroke="#4a8f4e" stroke-width="1.15" stroke-linejoin="round"/>
<line x1="473.7" y1="252.84" x2="485" y2="256.35" stroke="#4a8f4e" stroke-width="1.15"/>
<line x1="489.2" y1="257.65" x2="498.2" y2="260.44" stroke="#4a8f4e" stroke-width="1.15"/>
<polyline points="396.2,261.13 404.5,277.37 415.57,258.71 434.95,237.98 454.32,236.95 473.7,234.87" fill="none" stroke="#b4344c" stroke-width="1.15" stroke-linejoin="round"/>
<line x1="473.7" y1="234.87" x2="485" y2="240.93" stroke="#b4344c" stroke-width="1.15"/>
<line x1="489.2" y1="243.18" x2="498.2" y2="248" stroke="#b4344c" stroke-width="1.15"/>
<polyline points="396.2,268.04 404.5,280.48 415.57,268.73 434.95,250.42 454.32,249.39 473.7,252.84" fill="none" stroke="#3b5676" stroke-width="1.15" stroke-linejoin="round"/>
<line x1="473.7" y1="252.84" x2="485" y2="250.61" stroke="#3b5676" stroke-width="1.15"/>
<line x1="489.2" y1="249.78" x2="498.2" y2="248" stroke="#3b5676" stroke-width="1.15"/>
<line x1="404.5" y1="267.7" x2="404.5" y2="271.84" stroke="#3a3a3a" stroke-width="0.8"/>
<line x1="403.3" y1="267.7" x2="405.7" y2="267.7" stroke="#3a3a3a" stroke-width="0.8"/>
<line x1="403.3" y1="271.84" x2="405.7" y2="271.84" stroke="#3a3a3a" stroke-width="0.8"/>
<line x1="415.57" y1="268.73" x2="415.57" y2="272.19" stroke="#3a3a3a" stroke-width="0.8"/>
<line x1="414.38" y1="268.73" x2="416.77" y2="268.73" stroke="#3a3a3a" stroke-width="0.8"/>
<line x1="414.38" y1="272.19" x2="416.77" y2="272.19" stroke="#3a3a3a" stroke-width="0.8"/>
<line x1="434.95" y1="267.35" x2="434.95" y2="271.5" stroke="#3a3a3a" stroke-width="0.8"/>
<line x1="433.75" y1="267.35" x2="436.15" y2="267.35" stroke="#3a3a3a" stroke-width="0.8"/>
<line x1="433.75" y1="271.5" x2="436.15" y2="271.5" stroke="#3a3a3a" stroke-width="0.8"/>
<line x1="454.32" y1="264.93" x2="454.32" y2="269.77" stroke="#3a3a3a" stroke-width="0.8"/>
<line x1="453.12" y1="264.93" x2="455.52" y2="264.93" stroke="#3a3a3a" stroke-width="0.8"/>
<line x1="453.12" y1="269.77" x2="455.52" y2="269.77" stroke="#3a3a3a" stroke-width="0.8"/>
<line x1="473.7" y1="264.59" x2="473.7" y2="269.42" stroke="#3a3a3a" stroke-width="0.8"/>
<line x1="472.5" y1="264.59" x2="474.9" y2="264.59" stroke="#3a3a3a" stroke-width="0.8"/>
<line x1="472.5" y1="269.42" x2="474.9" y2="269.42" stroke="#3a3a3a" stroke-width="0.8"/>
<line x1="498.2" y1="265.62" x2="498.2" y2="270.46" stroke="#3a3a3a" stroke-width="0.8"/>
<line x1="497" y1="265.62" x2="499.4" y2="265.62" stroke="#3a3a3a" stroke-width="0.8"/>
<line x1="497" y1="270.46" x2="499.4" y2="270.46" stroke="#3a3a3a" stroke-width="0.8"/>
<line x1="404.5" y1="276.68" x2="404.5" y2="280.13" stroke="#3a3a3a" stroke-width="0.8"/>
<line x1="403.3" y1="276.68" x2="405.7" y2="276.68" stroke="#3a3a3a" stroke-width="0.8"/>
<line x1="403.3" y1="280.13" x2="405.7" y2="280.13" stroke="#3a3a3a" stroke-width="0.8"/>
<line x1="415.57" y1="255.26" x2="415.57" y2="262.17" stroke="#3a3a3a" stroke-width="0.8"/>
<line x1="414.38" y1="255.26" x2="416.77" y2="255.26" stroke="#3a3a3a" stroke-width="0.8"/>
<line x1="414.38" y1="262.17" x2="416.77" y2="262.17" stroke="#3a3a3a" stroke-width="0.8"/>
<line x1="434.95" y1="250.77" x2="434.95" y2="259.06" stroke="#3a3a3a" stroke-width="0.8"/>
<line x1="433.75" y1="250.77" x2="436.15" y2="250.77" stroke="#3a3a3a" stroke-width="0.8"/>
<line x1="433.75" y1="259.06" x2="436.15" y2="259.06" stroke="#3a3a3a" stroke-width="0.8"/>
<line x1="454.32" y1="251.11" x2="454.32" y2="258.02" stroke="#3a3a3a" stroke-width="0.8"/>
<line x1="453.12" y1="251.11" x2="455.52" y2="251.11" stroke="#3a3a3a" stroke-width="0.8"/>
<line x1="453.12" y1="258.02" x2="455.52" y2="258.02" stroke="#3a3a3a" stroke-width="0.8"/>
<line x1="473.7" y1="249.39" x2="473.7" y2="256.3" stroke="#3a3a3a" stroke-width="0.8"/>
<line x1="472.5" y1="249.39" x2="474.9" y2="249.39" stroke="#3a3a3a" stroke-width="0.8"/>
<line x1="472.5" y1="256.3" x2="474.9" y2="256.3" stroke="#3a3a3a" stroke-width="0.8"/>
<line x1="498.2" y1="256.99" x2="498.2" y2="263.9" stroke="#3a3a3a" stroke-width="0.8"/>
<line x1="497" y1="256.99" x2="499.4" y2="256.99" stroke="#3a3a3a" stroke-width="0.8"/>
<line x1="497" y1="263.9" x2="499.4" y2="263.9" stroke="#3a3a3a" stroke-width="0.8"/>
<line x1="404.5" y1="275.64" x2="404.5" y2="279.1" stroke="#3a3a3a" stroke-width="0.8"/>
<line x1="403.3" y1="275.64" x2="405.7" y2="275.64" stroke="#3a3a3a" stroke-width="0.8"/>
<line x1="403.3" y1="279.1" x2="405.7" y2="279.1" stroke="#3a3a3a" stroke-width="0.8"/>
<line x1="415.57" y1="254.57" x2="415.57" y2="262.86" stroke="#3a3a3a" stroke-width="0.8"/>
<line x1="414.38" y1="254.57" x2="416.77" y2="254.57" stroke="#3a3a3a" stroke-width="0.8"/>
<line x1="414.38" y1="262.86" x2="416.77" y2="262.86" stroke="#3a3a3a" stroke-width="0.8"/>
<line x1="434.95" y1="231.07" x2="434.95" y2="244.89" stroke="#3a3a3a" stroke-width="0.8"/>
<line x1="433.75" y1="231.07" x2="436.15" y2="231.07" stroke="#3a3a3a" stroke-width="0.8"/>
<line x1="433.75" y1="244.89" x2="436.15" y2="244.89" stroke="#3a3a3a" stroke-width="0.8"/>
<line x1="454.32" y1="231.07" x2="454.32" y2="242.82" stroke="#3a3a3a" stroke-width="0.8"/>
<line x1="453.12" y1="231.07" x2="455.52" y2="231.07" stroke="#3a3a3a" stroke-width="0.8"/>
<line x1="453.12" y1="242.82" x2="455.52" y2="242.82" stroke="#3a3a3a" stroke-width="0.8"/>
<line x1="473.7" y1="229" x2="473.7" y2="240.75" stroke="#3a3a3a" stroke-width="0.8"/>
<line x1="472.5" y1="229" x2="474.9" y2="229" stroke="#3a3a3a" stroke-width="0.8"/>
<line x1="472.5" y1="240.75" x2="474.9" y2="240.75" stroke="#3a3a3a" stroke-width="0.8"/>
<line x1="498.2" y1="242.82" x2="498.2" y2="253.19" stroke="#3a3a3a" stroke-width="0.8"/>
<line x1="497" y1="242.82" x2="499.4" y2="242.82" stroke="#3a3a3a" stroke-width="0.8"/>
<line x1="497" y1="253.19" x2="499.4" y2="253.19" stroke="#3a3a3a" stroke-width="0.8"/>
<line x1="404.5" y1="279.1" x2="404.5" y2="281.86" stroke="#3a3a3a" stroke-width="0.8"/>
<line x1="403.3" y1="279.1" x2="405.7" y2="279.1" stroke="#3a3a3a" stroke-width="0.8"/>
<line x1="403.3" y1="281.86" x2="405.7" y2="281.86" stroke="#3a3a3a" stroke-width="0.8"/>
<line x1="415.57" y1="265.28" x2="415.57" y2="272.19" stroke="#3a3a3a" stroke-width="0.8"/>
<line x1="414.38" y1="265.28" x2="416.77" y2="265.28" stroke="#3a3a3a" stroke-width="0.8"/>
<line x1="414.38" y1="272.19" x2="416.77" y2="272.19" stroke="#3a3a3a" stroke-width="0.8"/>
<line x1="434.95" y1="245.24" x2="434.95" y2="255.6" stroke="#3a3a3a" stroke-width="0.8"/>
<line x1="433.75" y1="245.24" x2="436.15" y2="245.24" stroke="#3a3a3a" stroke-width="0.8"/>
<line x1="433.75" y1="255.6" x2="436.15" y2="255.6" stroke="#3a3a3a" stroke-width="0.8"/>
<line x1="454.32" y1="244.2" x2="454.32" y2="254.57" stroke="#3a3a3a" stroke-width="0.8"/>
<line x1="453.12" y1="244.2" x2="455.52" y2="244.2" stroke="#3a3a3a" stroke-width="0.8"/>
<line x1="453.12" y1="254.57" x2="455.52" y2="254.57" stroke="#3a3a3a" stroke-width="0.8"/>
<line x1="473.7" y1="248.69" x2="473.7" y2="256.99" stroke="#3a3a3a" stroke-width="0.8"/>
<line x1="472.5" y1="248.69" x2="474.9" y2="248.69" stroke="#3a3a3a" stroke-width="0.8"/>
<line x1="472.5" y1="256.99" x2="474.9" y2="256.99" stroke="#3a3a3a" stroke-width="0.8"/>
<line x1="498.2" y1="242.82" x2="498.2" y2="253.19" stroke="#3a3a3a" stroke-width="0.8"/>
<line x1="497" y1="242.82" x2="499.4" y2="242.82" stroke="#3a3a3a" stroke-width="0.8"/>
<line x1="497" y1="253.19" x2="499.4" y2="253.19" stroke="#3a3a3a" stroke-width="0.8"/>
<path d="M394.31 263.15 L398.09 263.15 L396.2 266.57Z" fill="#999" stroke="#444" stroke-width="0.6"/>
<path d="M402.61 268.33 L406.39 268.33 L404.5 271.75Z" fill="#999" stroke="#444" stroke-width="0.6"/>
<path d="M413.69 269.02 L417.46 269.02 L415.57 272.44Z" fill="#999" stroke="#444" stroke-width="0.6"/>
<path d="M433.06 267.98 L436.84 267.98 L434.95 271.4Z" fill="#999" stroke="#444" stroke-width="0.6"/>
<path d="M452.44 265.91 L456.21 265.91 L454.32 269.33Z" fill="#999" stroke="#444" stroke-width="0.6"/>
<path d="M471.81 265.57 L475.59 265.57 L473.7 268.99Z" fill="#999" stroke="#444" stroke-width="0.6"/>
<path d="M496.31 266.6 L500.09 266.6 L498.2 270.02Z" fill="#999" stroke="#444" stroke-width="0.6"/>
<path d="M396.2 260.79 L398.18 264.3 L394.22 264.3Z" fill="#24502a"/>
<path d="M404.5 276.34 L406.48 279.85 L402.52 279.85Z" fill="#24502a"/>
<path d="M415.57 256.64 L417.56 260.15 L413.59 260.15Z" fill="#24502a"/>
<path d="M434.95 252.84 L436.93 256.35 L432.97 256.35Z" fill="#24502a"/>
<path d="M454.32 252.5 L456.31 256.01 L452.34 256.01Z" fill="#24502a"/>
<path d="M473.7 250.77 L475.68 254.28 L471.72 254.28Z" fill="#24502a"/>
<path d="M498.2 258.37 L500.18 261.88 L496.22 261.88Z" fill="#24502a"/>
<rect x="394.4" y="259.33" width="3.6" height="3.6" rx="0.6" fill="#7d1b2c"/>
<rect x="402.7" y="275.57" width="3.6" height="3.6" rx="0.6" fill="#7d1b2c"/>
<rect x="413.77" y="256.91" width="3.6" height="3.6" rx="0.6" fill="#7d1b2c"/>
<rect x="433.15" y="236.18" width="3.6" height="3.6" rx="0.6" fill="#7d1b2c"/>
<rect x="452.52" y="235.15" width="3.6" height="3.6" rx="0.6" fill="#7d1b2c"/>
<rect x="471.9" y="233.07" width="3.6" height="3.6" rx="0.6" fill="#7d1b2c"/>
<rect x="496.4" y="246.2" width="3.6" height="3.6" rx="0.6" fill="#7d1b2c"/>
<path d="M396.2 265.88 L398.18 268.04 L396.2 270.2 L394.22 268.04Z" fill="#1c2f48"/>
<path d="M404.5 278.32 L406.48 280.48 L404.5 282.64 L402.52 280.48Z" fill="#1c2f48"/>
<path d="M415.57 266.57 L417.56 268.73 L415.57 270.89 L413.59 268.73Z" fill="#1c2f48"/>
<path d="M434.95 248.26 L436.93 250.42 L434.95 252.58 L432.97 250.42Z" fill="#1c2f48"/>
<path d="M454.32 247.23 L456.31 249.39 L454.32 251.55 L452.34 249.39Z" fill="#1c2f48"/>
<path d="M473.7 250.68 L475.68 252.84 L473.7 255 L471.72 252.84Z" fill="#1c2f48"/>
<path d="M498.2 245.84 L500.18 248 L498.2 250.16 L496.22 248Z" fill="#1c2f48"/>
<text transform="translate(363.2 287) rotate(-90)" x="0" y="0" font-size="8.8" fill="#222" stroke="#222" stroke-width="0.22" textLength="61" lengthAdjust="spacingAndGlyphs">Absolute cell number</text>
<text transform="translate(373.4 283.6) rotate(-90)" x="0" y="0" font-size="8.4" fill="#222" stroke="#222" stroke-width="0.22" textLength="54.9" lengthAdjust="spacingAndGlyphs">(×10<tspan font-size="5.6" dy="-3.2">3</tspan><tspan dy="3.2"> cells/ mm</tspan><tspan font-size="5.6" dy="-3.2">3</tspan><tspan dy="3.2">)</tspan></text>
<path d="M396 196.28 L397.65 199.2 L394.35 199.2Z" fill="#24502a"/>
<rect x="394.5" y="203.1" width="3" height="3" rx="0.6" fill="#7d1b2c"/>
<path d="M396 209.7 L397.65 211.5 L396 213.3 L394.35 211.5Z" fill="#1c2f48"/>
<text x="404.5" y="201.1" font-size="5.6" fill="#333" text-anchor="middle">**</text>
<text x="404.5" y="207.7" font-size="5.6" fill="#333" text-anchor="middle">**</text>
<text x="404.5" y="214.6" font-size="5.6" fill="#333" text-anchor="middle">**</text>
<text x="454.32" y="201.1" font-size="5.6" fill="#333" text-anchor="middle">**</text>
<text x="473.7" y="201.1" font-size="5.6" fill="#333" text-anchor="middle">*</text>
<text x="434.95" y="207.7" font-size="5.6" fill="#333" text-anchor="middle">**</text>
<text x="454.32" y="207.7" font-size="5.6" fill="#333" text-anchor="middle">**</text>
<text x="473.7" y="207.7" font-size="5.6" fill="#333" text-anchor="middle">**</text>
<text x="498.2" y="207.7" font-size="5.6" fill="#333" text-anchor="middle">*</text>
<text x="434.95" y="214.6" font-size="5.6" fill="#333" text-anchor="middle">**</text>
<text x="454.32" y="214.6" font-size="5.6" fill="#333" text-anchor="middle">**</text>
<text x="473.7" y="214.6" font-size="5.6" fill="#333" text-anchor="middle">**</text>
<text x="498.2" y="214.6" font-size="5.6" fill="#333" text-anchor="middle">**</text>
<line x1="230.8" y1="339.2" x2="230.8" y2="418.5" stroke="#2a2a2a" stroke-width="1.1"/>
<line x1="230.3" y1="418" x2="329.9" y2="418" stroke="#2a2a2a" stroke-width="1.1"/>
<line x1="332.6" y1="418" x2="346.8" y2="418" stroke="#2a2a2a" stroke-width="1.1"/>
<line x1="329.9" y1="415" x2="329.9" y2="421" stroke="#2a2a2a" stroke-width="1.1"/>
<line x1="332.6" y1="415" x2="332.6" y2="421" stroke="#2a2a2a" stroke-width="1.1"/>
<line x1="227.2" y1="407.8" x2="230.8" y2="407.8" stroke="#2a2a2a" stroke-width="1"/>
<text x="224.5" y="410.6" font-size="8" fill="#2a2a2a" text-anchor="end">40</text>
<line x1="227.2" y1="385.6" x2="230.8" y2="385.6" stroke="#2a2a2a" stroke-width="1"/>
<text x="224.5" y="388.4" font-size="8" fill="#2a2a2a" text-anchor="end">60</text>
<line x1="227.2" y1="363.4" x2="230.8" y2="363.4" stroke="#2a2a2a" stroke-width="1"/>
<text x="224.5" y="366.2" font-size="8" fill="#2a2a2a" text-anchor="end">80</text>
<line x1="227.2" y1="341.2" x2="230.8" y2="341.2" stroke="#2a2a2a" stroke-width="1"/>
<text x="224.5" y="344" font-size="8" fill="#2a2a2a" text-anchor="end">100</text>
<line x1="230.8" y1="418" x2="230.8" y2="420.6" stroke="#2a2a2a" stroke-width="1"/>
<text x="230.8" y="430.8" font-size="8" fill="#2a2a2a" text-anchor="middle">0</text>
<line x1="252.3" y1="418" x2="252.3" y2="420.6" stroke="#2a2a2a" stroke-width="1"/>
<text x="252.3" y="430.8" font-size="8" fill="#2a2a2a" text-anchor="middle">7</text>
<line x1="273.9" y1="418" x2="273.9" y2="420.6" stroke="#2a2a2a" stroke-width="1"/>
<text x="273.9" y="430.8" font-size="8" fill="#2a2a2a" text-anchor="middle">14</text>
<line x1="295.5" y1="418" x2="295.5" y2="420.6" stroke="#2a2a2a" stroke-width="1"/>
<text x="295.5" y="430.8" font-size="8" fill="#2a2a2a" text-anchor="middle">21</text>
<line x1="317.1" y1="418" x2="317.1" y2="420.6" stroke="#2a2a2a" stroke-width="1"/>
<text x="317.1" y="430.8" font-size="8" fill="#2a2a2a" text-anchor="middle">28</text>
<line x1="344.3" y1="418" x2="344.3" y2="420.6" stroke="#2a2a2a" stroke-width="1"/>
<text x="344.3" y="430.8" font-size="8" fill="#2a2a2a" text-anchor="middle">56</text>
<polyline points="230.8,358.96 240.05,372.28 252.38,373.39 273.95,368.06 295.53,366.73 317.1,373.5" fill="none" stroke="#cbc5cd" stroke-width="1.15" stroke-linejoin="round"/>
<line x1="317.1" y1="373.5" x2="329.4" y2="369.59" stroke="#cbc5cd" stroke-width="1.15"/>
<line x1="333.6" y1="368.25" x2="344.3" y2="364.84" stroke="#cbc5cd" stroke-width="1.15"/>
<polyline points="230.8,357.3 240.05,370.06 252.38,366.06 273.95,355.96 295.53,352.08 317.1,356.52" fill="none" stroke="#4a8f4e" stroke-width="1.15" stroke-linejoin="round"/>
<line x1="317.1" y1="356.52" x2="329.4" y2="354.41" stroke="#4a8f4e" stroke-width="1.15"/>
<line x1="333.6" y1="353.69" x2="344.3" y2="351.86" stroke="#4a8f4e" stroke-width="1.15"/>
<polyline points="230.8,363.4 240.05,401.58 252.38,361.51 273.95,356.3 295.53,354.63 317.1,359.29" fill="none" stroke="#b4344c" stroke-width="1.15" stroke-linejoin="round"/>
<line x1="317.1" y1="359.29" x2="329.4" y2="357.54" stroke="#b4344c" stroke-width="1.15"/>
<line x1="333.6" y1="356.94" x2="344.3" y2="355.41" stroke="#b4344c" stroke-width="1.15"/>
<polyline points="230.8,364.51 240.05,386.71 252.38,372.28 273.95,360.85 295.53,365.51 317.1,362.51" fill="none" stroke="#3b5676" stroke-width="1.15" stroke-linejoin="round"/>
<line x1="317.1" y1="362.51" x2="329.4" y2="359.5" stroke="#3b5676" stroke-width="1.15"/>
<line x1="333.6" y1="358.47" x2="344.3" y2="355.85" stroke="#3b5676" stroke-width="1.15"/>
<line x1="240.05" y1="368.95" x2="240.05" y2="375.61" stroke="#3a3a3a" stroke-width="0.8"/>
<line x1="238.85" y1="368.95" x2="241.25" y2="368.95" stroke="#3a3a3a" stroke-width="0.8"/>
<line x1="238.85" y1="375.61" x2="241.25" y2="375.61" stroke="#3a3a3a" stroke-width="0.8"/>
<line x1="252.38" y1="368.95" x2="252.38" y2="377.83" stroke="#3a3a3a" stroke-width="0.8"/>
<line x1="251.18" y1="368.95" x2="253.58" y2="368.95" stroke="#3a3a3a" stroke-width="0.8"/>
<line x1="251.18" y1="377.83" x2="253.58" y2="377.83" stroke="#3a3a3a" stroke-width="0.8"/>
<line x1="273.95" y1="362.51" x2="273.95" y2="373.61" stroke="#3a3a3a" stroke-width="0.8"/>
<line x1="272.75" y1="362.51" x2="275.15" y2="362.51" stroke="#3a3a3a" stroke-width="0.8"/>
<line x1="272.75" y1="373.61" x2="275.15" y2="373.61" stroke="#3a3a3a" stroke-width="0.8"/>
<line x1="295.53" y1="362.29" x2="295.53" y2="371.17" stroke="#3a3a3a" stroke-width="0.8"/>
<line x1="294.33" y1="362.29" x2="296.73" y2="362.29" stroke="#3a3a3a" stroke-width="0.8"/>
<line x1="294.33" y1="371.17" x2="296.73" y2="371.17" stroke="#3a3a3a" stroke-width="0.8"/>
<line x1="317.1" y1="367.95" x2="317.1" y2="379.05" stroke="#3a3a3a" stroke-width="0.8"/>
<line x1="315.9" y1="367.95" x2="318.3" y2="367.95" stroke="#3a3a3a" stroke-width="0.8"/>
<line x1="315.9" y1="379.05" x2="318.3" y2="379.05" stroke="#3a3a3a" stroke-width="0.8"/>
<line x1="344.3" y1="360.4" x2="344.3" y2="369.28" stroke="#3a3a3a" stroke-width="0.8"/>
<line x1="343.1" y1="360.4" x2="345.5" y2="360.4" stroke="#3a3a3a" stroke-width="0.8"/>
<line x1="343.1" y1="369.28" x2="345.5" y2="369.28" stroke="#3a3a3a" stroke-width="0.8"/>
<line x1="240.05" y1="366.73" x2="240.05" y2="373.39" stroke="#3a3a3a" stroke-width="0.8"/>
<line x1="238.85" y1="366.73" x2="241.25" y2="366.73" stroke="#3a3a3a" stroke-width="0.8"/>
<line x1="238.85" y1="373.39" x2="241.25" y2="373.39" stroke="#3a3a3a" stroke-width="0.8"/>
<line x1="252.38" y1="362.73" x2="252.38" y2="369.39" stroke="#3a3a3a" stroke-width="0.8"/>
<line x1="251.18" y1="362.73" x2="253.58" y2="362.73" stroke="#3a3a3a" stroke-width="0.8"/>
<line x1="251.18" y1="369.39" x2="253.58" y2="369.39" stroke="#3a3a3a" stroke-width="0.8"/>
<line x1="273.95" y1="353.74" x2="273.95" y2="358.18" stroke="#3a3a3a" stroke-width="0.8"/>
<line x1="272.75" y1="353.74" x2="275.15" y2="353.74" stroke="#3a3a3a" stroke-width="0.8"/>
<line x1="272.75" y1="358.18" x2="275.15" y2="358.18" stroke="#3a3a3a" stroke-width="0.8"/>
<line x1="295.53" y1="349.86" x2="295.53" y2="354.3" stroke="#3a3a3a" stroke-width="0.8"/>
<line x1="294.33" y1="349.86" x2="296.73" y2="349.86" stroke="#3a3a3a" stroke-width="0.8"/>
<line x1="294.33" y1="354.3" x2="296.73" y2="354.3" stroke="#3a3a3a" stroke-width="0.8"/>
<line x1="317.1" y1="353.19" x2="317.1" y2="359.85" stroke="#3a3a3a" stroke-width="0.8"/>
<line x1="315.9" y1="353.19" x2="318.3" y2="353.19" stroke="#3a3a3a" stroke-width="0.8"/>
<line x1="315.9" y1="359.85" x2="318.3" y2="359.85" stroke="#3a3a3a" stroke-width="0.8"/>
<line x1="344.3" y1="349.64" x2="344.3" y2="354.08" stroke="#3a3a3a" stroke-width="0.8"/>
<line x1="343.1" y1="349.64" x2="345.5" y2="349.64" stroke="#3a3a3a" stroke-width="0.8"/>
<line x1="343.1" y1="354.08" x2="345.5" y2="354.08" stroke="#3a3a3a" stroke-width="0.8"/>
<line x1="240.05" y1="396.03" x2="240.05" y2="407.13" stroke="#3a3a3a" stroke-width="0.8"/>
<line x1="238.85" y1="396.03" x2="241.25" y2="396.03" stroke="#3a3a3a" stroke-width="0.8"/>
<line x1="238.85" y1="407.13" x2="241.25" y2="407.13" stroke="#3a3a3a" stroke-width="0.8"/>
<line x1="252.38" y1="358.18" x2="252.38" y2="364.84" stroke="#3a3a3a" stroke-width="0.8"/>
<line x1="251.18" y1="358.18" x2="253.58" y2="358.18" stroke="#3a3a3a" stroke-width="0.8"/>
<line x1="251.18" y1="364.84" x2="253.58" y2="364.84" stroke="#3a3a3a" stroke-width="0.8"/>
<line x1="273.95" y1="354.08" x2="273.95" y2="358.52" stroke="#3a3a3a" stroke-width="0.8"/>
<line x1="272.75" y1="354.08" x2="275.15" y2="354.08" stroke="#3a3a3a" stroke-width="0.8"/>
<line x1="272.75" y1="358.52" x2="275.15" y2="358.52" stroke="#3a3a3a" stroke-width="0.8"/>
<line x1="295.53" y1="352.41" x2="295.53" y2="356.85" stroke="#3a3a3a" stroke-width="0.8"/>
<line x1="294.33" y1="352.41" x2="296.73" y2="352.41" stroke="#3a3a3a" stroke-width="0.8"/>
<line x1="294.33" y1="356.85" x2="296.73" y2="356.85" stroke="#3a3a3a" stroke-width="0.8"/>
<line x1="317.1" y1="355.96" x2="317.1" y2="362.62" stroke="#3a3a3a" stroke-width="0.8"/>
<line x1="315.9" y1="355.96" x2="318.3" y2="355.96" stroke="#3a3a3a" stroke-width="0.8"/>
<line x1="315.9" y1="362.62" x2="318.3" y2="362.62" stroke="#3a3a3a" stroke-width="0.8"/>
<line x1="344.3" y1="353.19" x2="344.3" y2="357.63" stroke="#3a3a3a" stroke-width="0.8"/>
<line x1="343.1" y1="353.19" x2="345.5" y2="353.19" stroke="#3a3a3a" stroke-width="0.8"/>
<line x1="343.1" y1="357.63" x2="345.5" y2="357.63" stroke="#3a3a3a" stroke-width="0.8"/>
<line x1="240.05" y1="382.27" x2="240.05" y2="391.15" stroke="#3a3a3a" stroke-width="0.8"/>
<line x1="238.85" y1="382.27" x2="241.25" y2="382.27" stroke="#3a3a3a" stroke-width="0.8"/>
<line x1="238.85" y1="391.15" x2="241.25" y2="391.15" stroke="#3a3a3a" stroke-width="0.8"/>
<line x1="252.38" y1="367.84" x2="252.38" y2="376.72" stroke="#3a3a3a" stroke-width="0.8"/>
<line x1="251.18" y1="367.84" x2="253.58" y2="367.84" stroke="#3a3a3a" stroke-width="0.8"/>
<line x1="251.18" y1="376.72" x2="253.58" y2="376.72" stroke="#3a3a3a" stroke-width="0.8"/>
<line x1="273.95" y1="357.52" x2="273.95" y2="364.18" stroke="#3a3a3a" stroke-width="0.8"/>
<line x1="272.75" y1="357.52" x2="275.15" y2="357.52" stroke="#3a3a3a" stroke-width="0.8"/>
<line x1="272.75" y1="364.18" x2="275.15" y2="364.18" stroke="#3a3a3a" stroke-width="0.8"/>
<line x1="295.53" y1="361.07" x2="295.53" y2="369.95" stroke="#3a3a3a" stroke-width="0.8"/>
<line x1="294.33" y1="361.07" x2="296.73" y2="361.07" stroke="#3a3a3a" stroke-width="0.8"/>
<line x1="294.33" y1="369.95" x2="296.73" y2="369.95" stroke="#3a3a3a" stroke-width="0.8"/>
<line x1="317.1" y1="358.07" x2="317.1" y2="366.95" stroke="#3a3a3a" stroke-width="0.8"/>
<line x1="315.9" y1="358.07" x2="318.3" y2="358.07" stroke="#3a3a3a" stroke-width="0.8"/>
<line x1="315.9" y1="366.95" x2="318.3" y2="366.95" stroke="#3a3a3a" stroke-width="0.8"/>
<line x1="344.3" y1="352.52" x2="344.3" y2="359.18" stroke="#3a3a3a" stroke-width="0.8"/>
<line x1="343.1" y1="352.52" x2="345.5" y2="352.52" stroke="#3a3a3a" stroke-width="0.8"/>
<line x1="343.1" y1="359.18" x2="345.5" y2="359.18" stroke="#3a3a3a" stroke-width="0.8"/>
<path d="M228.91 357.52 L232.69 357.52 L230.8 360.94Z" fill="#999" stroke="#444" stroke-width="0.6"/>
<path d="M238.16 370.84 L241.94 370.84 L240.05 374.26Z" fill="#999" stroke="#444" stroke-width="0.6"/>
<path d="M250.49 371.95 L254.27 371.95 L252.38 375.37Z" fill="#999" stroke="#444" stroke-width="0.6"/>
<path d="M272.06 366.62 L275.84 366.62 L273.95 370.04Z" fill="#999" stroke="#444" stroke-width="0.6"/>
<path d="M293.64 365.29 L297.42 365.29 L295.53 368.71Z" fill="#999" stroke="#444" stroke-width="0.6"/>
<path d="M315.21 372.06 L318.99 372.06 L317.1 375.48Z" fill="#999" stroke="#444" stroke-width="0.6"/>
<path d="M342.41 363.4 L346.19 363.4 L344.3 366.82Z" fill="#999" stroke="#444" stroke-width="0.6"/>
<path d="M230.8 355.23 L232.78 358.74 L228.82 358.74Z" fill="#24502a"/>
<path d="M240.05 367.99 L242.03 371.5 L238.07 371.5Z" fill="#24502a"/>
<path d="M252.38 363.99 L254.36 367.5 L250.4 367.5Z" fill="#24502a"/>
<path d="M273.95 353.89 L275.93 357.4 L271.97 357.4Z" fill="#24502a"/>
<path d="M295.53 350.01 L297.51 353.52 L293.55 353.52Z" fill="#24502a"/>
<path d="M317.1 354.45 L319.08 357.96 L315.12 357.96Z" fill="#24502a"/>
<path d="M344.3 349.79 L346.28 353.3 L342.32 353.3Z" fill="#24502a"/>
<rect x="229" y="361.6" width="3.6" height="3.6" rx="0.6" fill="#7d1b2c"/>
<rect x="238.25" y="399.78" width="3.6" height="3.6" rx="0.6" fill="#7d1b2c"/>
<rect x="250.58" y="359.71" width="3.6" height="3.6" rx="0.6" fill="#7d1b2c"/>
<rect x="272.15" y="354.5" width="3.6" height="3.6" rx="0.6" fill="#7d1b2c"/>
<rect x="293.73" y="352.83" width="3.6" height="3.6" rx="0.6" fill="#7d1b2c"/>
<rect x="315.3" y="357.49" width="3.6" height="3.6" rx="0.6" fill="#7d1b2c"/>
<rect x="342.5" y="353.61" width="3.6" height="3.6" rx="0.6" fill="#7d1b2c"/>
<path d="M230.8 362.35 L232.78 364.51 L230.8 366.67 L228.82 364.51Z" fill="#1c2f48"/>
<path d="M240.05 384.55 L242.03 386.71 L240.05 388.87 L238.07 386.71Z" fill="#1c2f48"/>
<path d="M252.38 370.12 L254.36 372.28 L252.38 374.44 L250.4 372.28Z" fill="#1c2f48"/>
<path d="M273.95 358.69 L275.93 360.85 L273.95 363.01 L271.97 360.85Z" fill="#1c2f48"/>
<path d="M295.53 363.35 L297.51 365.51 L295.53 367.67 L293.55 365.51Z" fill="#1c2f48"/>
<path d="M317.1 360.35 L319.08 362.51 L317.1 364.67 L315.12 362.51Z" fill="#1c2f48"/>
<path d="M344.3 353.69 L346.28 355.85 L344.3 358.01 L342.32 355.85Z" fill="#1c2f48"/>
<text x="266.3" y="323.5" font-size="8.3" fill="#2a2a2a" textLength="44.6" lengthAdjust="spacingAndGlyphs">CD8<tspan font-size="5.2" dy="-3">+</tspan><tspan dy="3"> T cells</tspan></text>
<text transform="translate(206 394.3) rotate(-90)" x="0" y="0" font-size="8.4" fill="#222" stroke="#222" stroke-width="0.22" textLength="38.6" lengthAdjust="spacingAndGlyphs">% of CD127<tspan font-size="5.6" dy="-3.2">+</tspan></text>
<path d="M233.1 326.07 L234.75 329 L231.45 329Z" fill="#24502a"/>
<rect x="231.6" y="330.4" width="3" height="3" rx="0.6" fill="#7d1b2c"/>
<path d="M233.1 334.3 L234.75 336.1 L233.1 337.9 L231.45 336.1Z" fill="#1c2f48"/>
<text x="240.05" y="330.9" font-size="5.6" fill="#333" text-anchor="middle">**</text>
<text x="240.05" y="335" font-size="5.6" fill="#333" text-anchor="middle">**</text>
<text x="240.05" y="339.2" font-size="5.6" fill="#333" text-anchor="middle">**</text>
<text x="252.38" y="330.9" font-size="5.6" fill="#333" text-anchor="middle">*</text>
<text x="252.38" y="339.2" font-size="5.6" fill="#333" text-anchor="middle">*</text>
<line x1="396.6" y1="340" x2="396.6" y2="418.8" stroke="#2a2a2a" stroke-width="1.1"/>
<line x1="396.1" y1="418.3" x2="485.1" y2="418.3" stroke="#2a2a2a" stroke-width="1.1"/>
<line x1="488.4" y1="418.3" x2="501.4" y2="418.3" stroke="#2a2a2a" stroke-width="1.1"/>
<line x1="485.1" y1="415.3" x2="485.1" y2="421.3" stroke="#2a2a2a" stroke-width="1.1"/>
<line x1="488.4" y1="415.3" x2="488.4" y2="421.3" stroke="#2a2a2a" stroke-width="1.1"/>
<line x1="393" y1="418.3" x2="396.6" y2="418.3" stroke="#2a2a2a" stroke-width="1"/>
<text x="390.3" y="421.1" font-size="8" fill="#2a2a2a" text-anchor="end">40</text>
<line x1="393" y1="392.7" x2="396.6" y2="392.7" stroke="#2a2a2a" stroke-width="1"/>
<text x="390.3" y="395.5" font-size="8" fill="#2a2a2a" text-anchor="end">60</text>
<line x1="393" y1="367.1" x2="396.6" y2="367.1" stroke="#2a2a2a" stroke-width="1"/>
<text x="390.3" y="369.9" font-size="8" fill="#2a2a2a" text-anchor="end">80</text>
<line x1="393" y1="341.5" x2="396.6" y2="341.5" stroke="#2a2a2a" stroke-width="1"/>
<text x="390.3" y="344.3" font-size="8" fill="#2a2a2a" text-anchor="end">100</text>
<line x1="396.6" y1="418.3" x2="396.6" y2="420.9" stroke="#2a2a2a" stroke-width="1"/>
<text x="396.6" y="431.1" font-size="8" fill="#2a2a2a" text-anchor="middle">0</text>
<line x1="415.7" y1="418.3" x2="415.7" y2="420.9" stroke="#2a2a2a" stroke-width="1"/>
<text x="415.7" y="431.1" font-size="8" fill="#2a2a2a" text-anchor="middle">7</text>
<line x1="435.4" y1="418.3" x2="435.4" y2="420.9" stroke="#2a2a2a" stroke-width="1"/>
<text x="435.4" y="431.1" font-size="8" fill="#2a2a2a" text-anchor="middle">14</text>
<line x1="454.6" y1="418.3" x2="454.6" y2="420.9" stroke="#2a2a2a" stroke-width="1"/>
<text x="454.6" y="431.1" font-size="8" fill="#2a2a2a" text-anchor="middle">21</text>
<line x1="474" y1="418.3" x2="474" y2="420.9" stroke="#2a2a2a" stroke-width="1"/>
<text x="474" y="431.1" font-size="8" fill="#2a2a2a" text-anchor="middle">28</text>
<line x1="498.7" y1="418.3" x2="498.7" y2="420.9" stroke="#2a2a2a" stroke-width="1"/>
<text x="498.7" y="431.1" font-size="8" fill="#2a2a2a" text-anchor="middle">56</text>
<polyline points="396.6,350.46 404.89,352.38 415.95,356.86 435.3,351.74 454.65,351.74 474,355.07" fill="none" stroke="#cbc5cd" stroke-width="1.15" stroke-linejoin="round"/>
<line x1="474" y1="355.07" x2="484.6" y2="353.64" stroke="#cbc5cd" stroke-width="1.15"/>
<line x1="489.4" y1="352.99" x2="498.7" y2="351.74" stroke="#cbc5cd" stroke-width="1.15"/>
<polyline points="396.6,351.74 404.89,363.26 415.95,360.7 435.3,351.1 454.65,349.82 474,351.74" fill="none" stroke="#4a8f4e" stroke-width="1.15" stroke-linejoin="round"/>
<line x1="474" y1="351.74" x2="484.6" y2="350.92" stroke="#4a8f4e" stroke-width="1.15"/>
<line x1="489.4" y1="350.54" x2="498.7" y2="349.82" stroke="#4a8f4e" stroke-width="1.15"/>
<polyline points="396.6,349.18 404.89,397.05 415.95,355.07 435.3,348.16 454.65,347.9 474,350.46" fill="none" stroke="#b4344c" stroke-width="1.15" stroke-linejoin="round"/>
<line x1="474" y1="350.46" x2="484.6" y2="349.91" stroke="#b4344c" stroke-width="1.15"/>
<line x1="489.4" y1="349.66" x2="498.7" y2="349.18" stroke="#b4344c" stroke-width="1.15"/>
<polyline points="396.6,353.02 404.89,378.62 415.95,365.18 435.3,351.74 454.65,352.12 474,353.02" fill="none" stroke="#3b5676" stroke-width="1.15" stroke-linejoin="round"/>
<line x1="474" y1="353.02" x2="484.6" y2="351.37" stroke="#3b5676" stroke-width="1.15"/>
<line x1="489.4" y1="350.63" x2="498.7" y2="349.18" stroke="#3b5676" stroke-width="1.15"/>
<line x1="404.89" y1="349.82" x2="404.89" y2="354.94" stroke="#3a3a3a" stroke-width="0.8"/>
<line x1="403.69" y1="349.82" x2="406.09" y2="349.82" stroke="#3a3a3a" stroke-width="0.8"/>
<line x1="403.69" y1="354.94" x2="406.09" y2="354.94" stroke="#3a3a3a" stroke-width="0.8"/>
<line x1="415.95" y1="354.3" x2="415.95" y2="359.42" stroke="#3a3a3a" stroke-width="0.8"/>
<line x1="414.75" y1="354.3" x2="417.15" y2="354.3" stroke="#3a3a3a" stroke-width="0.8"/>
<line x1="414.75" y1="359.42" x2="417.15" y2="359.42" stroke="#3a3a3a" stroke-width="0.8"/>
<line x1="435.3" y1="349.18" x2="435.3" y2="354.3" stroke="#3a3a3a" stroke-width="0.8"/>
<line x1="434.1" y1="349.18" x2="436.5" y2="349.18" stroke="#3a3a3a" stroke-width="0.8"/>
<line x1="434.1" y1="354.3" x2="436.5" y2="354.3" stroke="#3a3a3a" stroke-width="0.8"/>
<line x1="454.65" y1="349.18" x2="454.65" y2="354.3" stroke="#3a3a3a" stroke-width="0.8"/>
<line x1="453.45" y1="349.18" x2="455.85" y2="349.18" stroke="#3a3a3a" stroke-width="0.8"/>
<line x1="453.45" y1="354.3" x2="455.85" y2="354.3" stroke="#3a3a3a" stroke-width="0.8"/>
<line x1="474" y1="351.23" x2="474" y2="358.91" stroke="#3a3a3a" stroke-width="0.8"/>
<line x1="472.8" y1="351.23" x2="475.2" y2="351.23" stroke="#3a3a3a" stroke-width="0.8"/>
<line x1="472.8" y1="358.91" x2="475.2" y2="358.91" stroke="#3a3a3a" stroke-width="0.8"/>
<line x1="498.7" y1="349.18" x2="498.7" y2="354.3" stroke="#3a3a3a" stroke-width="0.8"/>
<line x1="497.5" y1="349.18" x2="499.9" y2="349.18" stroke="#3a3a3a" stroke-width="0.8"/>
<line x1="497.5" y1="354.3" x2="499.9" y2="354.3" stroke="#3a3a3a" stroke-width="0.8"/>
<line x1="404.89" y1="359.42" x2="404.89" y2="367.1" stroke="#3a3a3a" stroke-width="0.8"/>
<line x1="403.69" y1="359.42" x2="406.09" y2="359.42" stroke="#3a3a3a" stroke-width="0.8"/>
<line x1="403.69" y1="367.1" x2="406.09" y2="367.1" stroke="#3a3a3a" stroke-width="0.8"/>
<line x1="415.95" y1="358.14" x2="415.95" y2="363.26" stroke="#3a3a3a" stroke-width="0.8"/>
<line x1="414.75" y1="358.14" x2="417.15" y2="358.14" stroke="#3a3a3a" stroke-width="0.8"/>
<line x1="414.75" y1="363.26" x2="417.15" y2="363.26" stroke="#3a3a3a" stroke-width="0.8"/>
<line x1="435.3" y1="349.18" x2="435.3" y2="353.02" stroke="#3a3a3a" stroke-width="0.8"/>
<line x1="434.1" y1="349.18" x2="436.5" y2="349.18" stroke="#3a3a3a" stroke-width="0.8"/>
<line x1="434.1" y1="353.02" x2="436.5" y2="353.02" stroke="#3a3a3a" stroke-width="0.8"/>
<line x1="454.65" y1="347.9" x2="454.65" y2="351.74" stroke="#3a3a3a" stroke-width="0.8"/>
<line x1="453.45" y1="347.9" x2="455.85" y2="347.9" stroke="#3a3a3a" stroke-width="0.8"/>
<line x1="453.45" y1="351.74" x2="455.85" y2="351.74" stroke="#3a3a3a" stroke-width="0.8"/>
<line x1="474" y1="349.18" x2="474" y2="354.3" stroke="#3a3a3a" stroke-width="0.8"/>
<line x1="472.8" y1="349.18" x2="475.2" y2="349.18" stroke="#3a3a3a" stroke-width="0.8"/>
<line x1="472.8" y1="354.3" x2="475.2" y2="354.3" stroke="#3a3a3a" stroke-width="0.8"/>
<line x1="498.7" y1="347.9" x2="498.7" y2="351.74" stroke="#3a3a3a" stroke-width="0.8"/>
<line x1="497.5" y1="347.9" x2="499.9" y2="347.9" stroke="#3a3a3a" stroke-width="0.8"/>
<line x1="497.5" y1="351.74" x2="499.9" y2="351.74" stroke="#3a3a3a" stroke-width="0.8"/>
<line x1="404.89" y1="391.93" x2="404.89" y2="402.17" stroke="#3a3a3a" stroke-width="0.8"/>
<line x1="403.69" y1="391.93" x2="406.09" y2="391.93" stroke="#3a3a3a" stroke-width="0.8"/>
<line x1="403.69" y1="402.17" x2="406.09" y2="402.17" stroke="#3a3a3a" stroke-width="0.8"/>
<line x1="415.95" y1="352.51" x2="415.95" y2="357.63" stroke="#3a3a3a" stroke-width="0.8"/>
<line x1="414.75" y1="352.51" x2="417.15" y2="352.51" stroke="#3a3a3a" stroke-width="0.8"/>
<line x1="414.75" y1="357.63" x2="417.15" y2="357.63" stroke="#3a3a3a" stroke-width="0.8"/>
<line x1="435.3" y1="346.24" x2="435.3" y2="350.08" stroke="#3a3a3a" stroke-width="0.8"/>
<line x1="434.1" y1="346.24" x2="436.5" y2="346.24" stroke="#3a3a3a" stroke-width="0.8"/>
<line x1="434.1" y1="350.08" x2="436.5" y2="350.08" stroke="#3a3a3a" stroke-width="0.8"/>
<line x1="454.65" y1="345.98" x2="454.65" y2="349.82" stroke="#3a3a3a" stroke-width="0.8"/>
<line x1="453.45" y1="345.98" x2="455.85" y2="345.98" stroke="#3a3a3a" stroke-width="0.8"/>
<line x1="453.45" y1="349.82" x2="455.85" y2="349.82" stroke="#3a3a3a" stroke-width="0.8"/>
<line x1="474" y1="347.9" x2="474" y2="353.02" stroke="#3a3a3a" stroke-width="0.8"/>
<line x1="472.8" y1="347.9" x2="475.2" y2="347.9" stroke="#3a3a3a" stroke-width="0.8"/>
<line x1="472.8" y1="353.02" x2="475.2" y2="353.02" stroke="#3a3a3a" stroke-width="0.8"/>
<line x1="498.7" y1="347.26" x2="498.7" y2="351.1" stroke="#3a3a3a" stroke-width="0.8"/>
<line x1="497.5" y1="347.26" x2="499.9" y2="347.26" stroke="#3a3a3a" stroke-width="0.8"/>
<line x1="497.5" y1="351.1" x2="499.9" y2="351.1" stroke="#3a3a3a" stroke-width="0.8"/>
<line x1="404.89" y1="373.5" x2="404.89" y2="383.74" stroke="#3a3a3a" stroke-width="0.8"/>
<line x1="403.69" y1="373.5" x2="406.09" y2="373.5" stroke="#3a3a3a" stroke-width="0.8"/>
<line x1="403.69" y1="383.74" x2="406.09" y2="383.74" stroke="#3a3a3a" stroke-width="0.8"/>
<line x1="415.95" y1="362.62" x2="415.95" y2="367.74" stroke="#3a3a3a" stroke-width="0.8"/>
<line x1="414.75" y1="362.62" x2="417.15" y2="362.62" stroke="#3a3a3a" stroke-width="0.8"/>
<line x1="414.75" y1="367.74" x2="417.15" y2="367.74" stroke="#3a3a3a" stroke-width="0.8"/>
<line x1="435.3" y1="349.18" x2="435.3" y2="354.3" stroke="#3a3a3a" stroke-width="0.8"/>
<line x1="434.1" y1="349.18" x2="436.5" y2="349.18" stroke="#3a3a3a" stroke-width="0.8"/>
<line x1="434.1" y1="354.3" x2="436.5" y2="354.3" stroke="#3a3a3a" stroke-width="0.8"/>
<line x1="454.65" y1="350.2" x2="454.65" y2="354.04" stroke="#3a3a3a" stroke-width="0.8"/>
<line x1="453.45" y1="350.2" x2="455.85" y2="350.2" stroke="#3a3a3a" stroke-width="0.8"/>
<line x1="453.45" y1="354.04" x2="455.85" y2="354.04" stroke="#3a3a3a" stroke-width="0.8"/>
<line x1="474" y1="350.46" x2="474" y2="355.58" stroke="#3a3a3a" stroke-width="0.8"/>
<line x1="472.8" y1="350.46" x2="475.2" y2="350.46" stroke="#3a3a3a" stroke-width="0.8"/>
<line x1="472.8" y1="355.58" x2="475.2" y2="355.58" stroke="#3a3a3a" stroke-width="0.8"/>
<line x1="498.7" y1="347.26" x2="498.7" y2="351.1" stroke="#3a3a3a" stroke-width="0.8"/>
<line x1="497.5" y1="347.26" x2="499.9" y2="347.26" stroke="#3a3a3a" stroke-width="0.8"/>
<line x1="497.5" y1="351.1" x2="499.9" y2="351.1" stroke="#3a3a3a" stroke-width="0.8"/>
<path d="M394.71 349.02 L398.49 349.02 L396.6 352.44Z" fill="#999" stroke="#444" stroke-width="0.6"/>
<path d="M403 350.94 L406.78 350.94 L404.89 354.36Z" fill="#999" stroke="#444" stroke-width="0.6"/>
<path d="M414.06 355.42 L417.84 355.42 L415.95 358.84Z" fill="#999" stroke="#444" stroke-width="0.6"/>
<path d="M433.41 350.3 L437.19 350.3 L435.3 353.72Z" fill="#999" stroke="#444" stroke-width="0.6"/>
<path d="M452.76 350.3 L456.54 350.3 L454.65 353.72Z" fill="#999" stroke="#444" stroke-width="0.6"/>
<path d="M472.11 353.63 L475.89 353.63 L474 357.05Z" fill="#999" stroke="#444" stroke-width="0.6"/>
<path d="M496.81 350.3 L500.59 350.3 L498.7 353.72Z" fill="#999" stroke="#444" stroke-width="0.6"/>
<path d="M396.6 349.67 L398.58 353.18 L394.62 353.18Z" fill="#24502a"/>
<path d="M404.89 361.19 L406.87 364.7 L402.91 364.7Z" fill="#24502a"/>
<path d="M415.95 358.63 L417.93 362.14 L413.97 362.14Z" fill="#24502a"/>
<path d="M435.3 349.03 L437.28 352.54 L433.32 352.54Z" fill="#24502a"/>
<path d="M454.65 347.75 L456.63 351.26 L452.67 351.26Z" fill="#24502a"/>
<path d="M474 349.67 L475.98 353.18 L472.02 353.18Z" fill="#24502a"/>
<path d="M498.7 347.75 L500.68 351.26 L496.72 351.26Z" fill="#24502a"/>
<rect x="394.8" y="347.38" width="3.6" height="3.6" rx="0.6" fill="#7d1b2c"/>
<rect x="403.09" y="395.25" width="3.6" height="3.6" rx="0.6" fill="#7d1b2c"/>
<rect x="414.15" y="353.27" width="3.6" height="3.6" rx="0.6" fill="#7d1b2c"/>
<rect x="433.5" y="346.36" width="3.6" height="3.6" rx="0.6" fill="#7d1b2c"/>
<rect x="452.85" y="346.1" width="3.6" height="3.6" rx="0.6" fill="#7d1b2c"/>
<rect x="472.2" y="348.66" width="3.6" height="3.6" rx="0.6" fill="#7d1b2c"/>
<rect x="496.9" y="347.38" width="3.6" height="3.6" rx="0.6" fill="#7d1b2c"/>
<path d="M396.6 350.86 L398.58 353.02 L396.6 355.18 L394.62 353.02Z" fill="#1c2f48"/>
<path d="M404.89 376.46 L406.87 378.62 L404.89 380.78 L402.91 378.62Z" fill="#1c2f48"/>
<path d="M415.95 363.02 L417.93 365.18 L415.95 367.34 L413.97 365.18Z" fill="#1c2f48"/>
<path d="M435.3 349.58 L437.28 351.74 L435.3 353.9 L433.32 351.74Z" fill="#1c2f48"/>
<path d="M454.65 349.96 L456.63 352.12 L454.65 354.28 L452.67 352.12Z" fill="#1c2f48"/>
<path d="M474 350.86 L475.98 353.02 L474 355.18 L472.02 353.02Z" fill="#1c2f48"/>
<path d="M498.7 347.02 L500.68 349.18 L498.7 351.34 L496.72 349.18Z" fill="#1c2f48"/>
<text x="426.3" y="319.8" font-size="8.3" fill="#2a2a2a" textLength="44.6" lengthAdjust="spacingAndGlyphs">CD4<tspan font-size="5.2" dy="-3">+</tspan><tspan dy="3"> T cells</tspan></text>
<text transform="translate(375 400) rotate(-90)" x="0" y="0" font-size="8.4" fill="#222" stroke="#222" stroke-width="0.22" textLength="38.8" lengthAdjust="spacingAndGlyphs">% of CD127<tspan font-size="5.6" dy="-3.2">+</tspan></text>
<path d="M396.6 322.88 L398.25 325.8 L394.95 325.8Z" fill="#24502a"/>
<rect x="395.1" y="329" width="3" height="3" rx="0.6" fill="#7d1b2c"/>
<path d="M396.6 333.9 L398.25 335.7 L396.6 337.5 L394.95 335.7Z" fill="#1c2f48"/>
<text x="404.89" y="327.7" font-size="5.6" fill="#333" text-anchor="middle">**</text>
<text x="404.89" y="333.6" font-size="5.6" fill="#333" text-anchor="middle">*</text>
<text x="404.89" y="338.8" font-size="5.6" fill="#333" text-anchor="middle">*</text>
<text x="415.95" y="338.8" font-size="5.6" fill="#333" text-anchor="middle">*</text>
<line x1="230.8" y1="455.8" x2="230.8" y2="535.3" stroke="#2a2a2a" stroke-width="1.1"/>
<line x1="230.3" y1="534.8" x2="319.8" y2="534.8" stroke="#2a2a2a" stroke-width="1.1"/>
<line x1="322.4" y1="534.8" x2="335" y2="534.8" stroke="#2a2a2a" stroke-width="1.1"/>
<line x1="319.8" y1="530.3" x2="319.8" y2="537.8" stroke="#2a2a2a" stroke-width="1.1"/>
<line x1="322.4" y1="530.3" x2="322.4" y2="537.8" stroke="#2a2a2a" stroke-width="1.1"/>
<line x1="227.2" y1="535" x2="230.8" y2="535" stroke="#2a2a2a" stroke-width="1"/>
<text x="224.5" y="537.8" font-size="8" fill="#2a2a2a" text-anchor="end">0</text>
<line x1="227.2" y1="519.62" x2="230.8" y2="519.62" stroke="#2a2a2a" stroke-width="1"/>
<text x="224.5" y="522.42" font-size="8" fill="#2a2a2a" text-anchor="end">10</text>
<line x1="227.2" y1="504.24" x2="230.8" y2="504.24" stroke="#2a2a2a" stroke-width="1"/>
<text x="224.5" y="507.04" font-size="8" fill="#2a2a2a" text-anchor="end">20</text>
<line x1="227.2" y1="488.86" x2="230.8" y2="488.86" stroke="#2a2a2a" stroke-width="1"/>
<text x="224.5" y="491.66" font-size="8" fill="#2a2a2a" text-anchor="end">30</text>
<line x1="227.2" y1="473.48" x2="230.8" y2="473.48" stroke="#2a2a2a" stroke-width="1"/>
<text x="224.5" y="476.28" font-size="8" fill="#2a2a2a" text-anchor="end">40</text>
<line x1="227.2" y1="458.1" x2="230.8" y2="458.1" stroke="#2a2a2a" stroke-width="1"/>
<text x="224.5" y="460.9" font-size="8" fill="#2a2a2a" text-anchor="end">50</text>
<line x1="230.8" y1="534.8" x2="230.8" y2="537.4" stroke="#2a2a2a" stroke-width="1"/>
<text x="230.8" y="547.6" font-size="8" fill="#2a2a2a" text-anchor="middle">0</text>
<line x1="249.9" y1="534.8" x2="249.9" y2="537.4" stroke="#2a2a2a" stroke-width="1"/>
<text x="249.9" y="547.6" font-size="8" fill="#2a2a2a" text-anchor="middle">7</text>
<line x1="269.5" y1="534.8" x2="269.5" y2="537.4" stroke="#2a2a2a" stroke-width="1"/>
<text x="269.5" y="547.6" font-size="8" fill="#2a2a2a" text-anchor="middle">14</text>
<line x1="288.8" y1="534.8" x2="288.8" y2="537.4" stroke="#2a2a2a" stroke-width="1"/>
<text x="288.8" y="547.6" font-size="8" fill="#2a2a2a" text-anchor="middle">21</text>
<line x1="308.2" y1="534.8" x2="308.2" y2="537.4" stroke="#2a2a2a" stroke-width="1"/>
<text x="308.2" y="547.6" font-size="8" fill="#2a2a2a" text-anchor="middle">28</text>
<line x1="332.8" y1="534.8" x2="332.8" y2="537.4" stroke="#2a2a2a" stroke-width="1"/>
<text x="332.8" y="547.6" font-size="8" fill="#2a2a2a" text-anchor="middle">56</text>
<polyline points="230.8,532.23 239.09,532.23 250.15,532.23 269.5,532.23 288.85,532.69 308.2,532.69" fill="none" stroke="#cbc5cd" stroke-width="1.15" stroke-linejoin="round"/>
<line x1="308.2" y1="532.69" x2="319.3" y2="532.9" stroke="#cbc5cd" stroke-width="1.15"/>
<line x1="323.4" y1="532.98" x2="332.8" y2="533.15" stroke="#cbc5cd" stroke-width="1.15"/>
<polyline points="230.8,531.15 239.09,528.08 250.15,522.39 269.5,530.39 288.85,532.23 308.2,532.23" fill="none" stroke="#4a8f4e" stroke-width="1.15" stroke-linejoin="round"/>
<line x1="308.2" y1="532.23" x2="319.3" y2="532.65" stroke="#4a8f4e" stroke-width="1.15"/>
<line x1="323.4" y1="532.8" x2="332.8" y2="533.15" stroke="#4a8f4e" stroke-width="1.15"/>
<polyline points="230.8,531.15 239.09,514.24 250.15,476.56 269.5,528.08 288.85,532.23 308.2,532.23" fill="none" stroke="#b4344c" stroke-width="1.15" stroke-linejoin="round"/>
<line x1="308.2" y1="532.23" x2="319.3" y2="532.65" stroke="#b4344c" stroke-width="1.15"/>
<line x1="323.4" y1="532.8" x2="332.8" y2="533.15" stroke="#b4344c" stroke-width="1.15"/>
<polyline points="230.8,531.15 239.09,501.93 250.15,482.4 269.5,527 288.85,531.92 308.2,532.23" fill="none" stroke="#3b5676" stroke-width="1.15" stroke-linejoin="round"/>
<line x1="308.2" y1="532.23" x2="319.3" y2="532.65" stroke="#3b5676" stroke-width="1.15"/>
<line x1="323.4" y1="532.8" x2="332.8" y2="533.15" stroke="#3b5676" stroke-width="1.15"/>
<line x1="239.09" y1="531.46" x2="239.09" y2="533" stroke="#3a3a3a" stroke-width="0.8"/>
<line x1="237.89" y1="531.46" x2="240.29" y2="531.46" stroke="#3a3a3a" stroke-width="0.8"/>
<line x1="237.89" y1="533" x2="240.29" y2="533" stroke="#3a3a3a" stroke-width="0.8"/>
<line x1="250.15" y1="531.46" x2="250.15" y2="533" stroke="#3a3a3a" stroke-width="0.8"/>
<line x1="248.95" y1="531.46" x2="251.35" y2="531.46" stroke="#3a3a3a" stroke-width="0.8"/>
<line x1="248.95" y1="533" x2="251.35" y2="533" stroke="#3a3a3a" stroke-width="0.8"/>
<line x1="269.5" y1="531.46" x2="269.5" y2="533" stroke="#3a3a3a" stroke-width="0.8"/>
<line x1="268.3" y1="531.46" x2="270.7" y2="531.46" stroke="#3a3a3a" stroke-width="0.8"/>
<line x1="268.3" y1="533" x2="270.7" y2="533" stroke="#3a3a3a" stroke-width="0.8"/>
<line x1="288.85" y1="532.23" x2="288.85" y2="533.15" stroke="#3a3a3a" stroke-width="0.8"/>
<line x1="287.65" y1="532.23" x2="290.05" y2="532.23" stroke="#3a3a3a" stroke-width="0.8"/>
<line x1="287.65" y1="533.15" x2="290.05" y2="533.15" stroke="#3a3a3a" stroke-width="0.8"/>
<line x1="308.2" y1="532.23" x2="308.2" y2="533.15" stroke="#3a3a3a" stroke-width="0.8"/>
<line x1="307" y1="532.23" x2="309.4" y2="532.23" stroke="#3a3a3a" stroke-width="0.8"/>
<line x1="307" y1="533.15" x2="309.4" y2="533.15" stroke="#3a3a3a" stroke-width="0.8"/>
<line x1="332.8" y1="532.69" x2="332.8" y2="533.62" stroke="#3a3a3a" stroke-width="0.8"/>
<line x1="331.6" y1="532.69" x2="334" y2="532.69" stroke="#3a3a3a" stroke-width="0.8"/>
<line x1="331.6" y1="533.62" x2="334" y2="533.62" stroke="#3a3a3a" stroke-width="0.8"/>
<line x1="239.09" y1="526.54" x2="239.09" y2="529.62" stroke="#3a3a3a" stroke-width="0.8"/>
<line x1="237.89" y1="526.54" x2="240.29" y2="526.54" stroke="#3a3a3a" stroke-width="0.8"/>
<line x1="237.89" y1="529.62" x2="240.29" y2="529.62" stroke="#3a3a3a" stroke-width="0.8"/>
<line x1="250.15" y1="520.08" x2="250.15" y2="524.7" stroke="#3a3a3a" stroke-width="0.8"/>
<line x1="248.95" y1="520.08" x2="251.35" y2="520.08" stroke="#3a3a3a" stroke-width="0.8"/>
<line x1="248.95" y1="524.7" x2="251.35" y2="524.7" stroke="#3a3a3a" stroke-width="0.8"/>
<line x1="269.5" y1="528.85" x2="269.5" y2="531.92" stroke="#3a3a3a" stroke-width="0.8"/>
<line x1="268.3" y1="528.85" x2="270.7" y2="528.85" stroke="#3a3a3a" stroke-width="0.8"/>
<line x1="268.3" y1="531.92" x2="270.7" y2="531.92" stroke="#3a3a3a" stroke-width="0.8"/>
<line x1="288.85" y1="531.46" x2="288.85" y2="533" stroke="#3a3a3a" stroke-width="0.8"/>
<line x1="287.65" y1="531.46" x2="290.05" y2="531.46" stroke="#3a3a3a" stroke-width="0.8"/>
<line x1="287.65" y1="533" x2="290.05" y2="533" stroke="#3a3a3a" stroke-width="0.8"/>
<line x1="308.2" y1="531.46" x2="308.2" y2="533" stroke="#3a3a3a" stroke-width="0.8"/>
<line x1="307" y1="531.46" x2="309.4" y2="531.46" stroke="#3a3a3a" stroke-width="0.8"/>
<line x1="307" y1="533" x2="309.4" y2="533" stroke="#3a3a3a" stroke-width="0.8"/>
<line x1="332.8" y1="532.39" x2="332.8" y2="533.92" stroke="#3a3a3a" stroke-width="0.8"/>
<line x1="331.6" y1="532.39" x2="334" y2="532.39" stroke="#3a3a3a" stroke-width="0.8"/>
<line x1="331.6" y1="533.92" x2="334" y2="533.92" stroke="#3a3a3a" stroke-width="0.8"/>
<line x1="239.09" y1="509.62" x2="239.09" y2="518.85" stroke="#3a3a3a" stroke-width="0.8"/>
<line x1="237.89" y1="509.62" x2="240.29" y2="509.62" stroke="#3a3a3a" stroke-width="0.8"/>
<line x1="237.89" y1="518.85" x2="240.29" y2="518.85" stroke="#3a3a3a" stroke-width="0.8"/>
<line x1="250.15" y1="467.64" x2="250.15" y2="485.48" stroke="#3a3a3a" stroke-width="0.8"/>
<line x1="248.95" y1="467.64" x2="251.35" y2="467.64" stroke="#3a3a3a" stroke-width="0.8"/>
<line x1="248.95" y1="485.48" x2="251.35" y2="485.48" stroke="#3a3a3a" stroke-width="0.8"/>
<line x1="269.5" y1="526.54" x2="269.5" y2="529.62" stroke="#3a3a3a" stroke-width="0.8"/>
<line x1="268.3" y1="526.54" x2="270.7" y2="526.54" stroke="#3a3a3a" stroke-width="0.8"/>
<line x1="268.3" y1="529.62" x2="270.7" y2="529.62" stroke="#3a3a3a" stroke-width="0.8"/>
<line x1="288.85" y1="531.46" x2="288.85" y2="533" stroke="#3a3a3a" stroke-width="0.8"/>
<line x1="287.65" y1="531.46" x2="290.05" y2="531.46" stroke="#3a3a3a" stroke-width="0.8"/>
<line x1="287.65" y1="533" x2="290.05" y2="533" stroke="#3a3a3a" stroke-width="0.8"/>
<line x1="308.2" y1="531.46" x2="308.2" y2="533" stroke="#3a3a3a" stroke-width="0.8"/>
<line x1="307" y1="531.46" x2="309.4" y2="531.46" stroke="#3a3a3a" stroke-width="0.8"/>
<line x1="307" y1="533" x2="309.4" y2="533" stroke="#3a3a3a" stroke-width="0.8"/>
<line x1="332.8" y1="532.39" x2="332.8" y2="533.92" stroke="#3a3a3a" stroke-width="0.8"/>
<line x1="331.6" y1="532.39" x2="334" y2="532.39" stroke="#3a3a3a" stroke-width="0.8"/>
<line x1="331.6" y1="533.92" x2="334" y2="533.92" stroke="#3a3a3a" stroke-width="0.8"/>
<line x1="239.09" y1="495.78" x2="239.09" y2="508.09" stroke="#3a3a3a" stroke-width="0.8"/>
<line x1="237.89" y1="495.78" x2="240.29" y2="495.78" stroke="#3a3a3a" stroke-width="0.8"/>
<line x1="237.89" y1="508.09" x2="240.29" y2="508.09" stroke="#3a3a3a" stroke-width="0.8"/>
<line x1="250.15" y1="477.79" x2="250.15" y2="487.01" stroke="#3a3a3a" stroke-width="0.8"/>
<line x1="248.95" y1="477.79" x2="251.35" y2="477.79" stroke="#3a3a3a" stroke-width="0.8"/>
<line x1="248.95" y1="487.01" x2="251.35" y2="487.01" stroke="#3a3a3a" stroke-width="0.8"/>
<line x1="269.5" y1="525.46" x2="269.5" y2="528.54" stroke="#3a3a3a" stroke-width="0.8"/>
<line x1="268.3" y1="525.46" x2="270.7" y2="525.46" stroke="#3a3a3a" stroke-width="0.8"/>
<line x1="268.3" y1="528.54" x2="270.7" y2="528.54" stroke="#3a3a3a" stroke-width="0.8"/>
<line x1="288.85" y1="531.15" x2="288.85" y2="532.69" stroke="#3a3a3a" stroke-width="0.8"/>
<line x1="287.65" y1="531.15" x2="290.05" y2="531.15" stroke="#3a3a3a" stroke-width="0.8"/>
<line x1="287.65" y1="532.69" x2="290.05" y2="532.69" stroke="#3a3a3a" stroke-width="0.8"/>
<line x1="308.2" y1="531.46" x2="308.2" y2="533" stroke="#3a3a3a" stroke-width="0.8"/>
<line x1="307" y1="531.46" x2="309.4" y2="531.46" stroke="#3a3a3a" stroke-width="0.8"/>
<line x1="307" y1="533" x2="309.4" y2="533" stroke="#3a3a3a" stroke-width="0.8"/>
<line x1="332.8" y1="532.39" x2="332.8" y2="533.92" stroke="#3a3a3a" stroke-width="0.8"/>
<line x1="331.6" y1="532.39" x2="334" y2="532.39" stroke="#3a3a3a" stroke-width="0.8"/>
<line x1="331.6" y1="533.92" x2="334" y2="533.92" stroke="#3a3a3a" stroke-width="0.8"/>
<path d="M228.91 530.79 L232.69 530.79 L230.8 534.21Z" fill="#999" stroke="#444" stroke-width="0.6"/>
<path d="M237.2 530.79 L240.98 530.79 L239.09 534.21Z" fill="#999" stroke="#444" stroke-width="0.6"/>
<path d="M248.26 530.79 L252.04 530.79 L250.15 534.21Z" fill="#999" stroke="#444" stroke-width="0.6"/>
<path d="M267.61 530.79 L271.39 530.79 L269.5 534.21Z" fill="#999" stroke="#444" stroke-width="0.6"/>
<path d="M286.96 531.25 L290.74 531.25 L288.85 534.67Z" fill="#999" stroke="#444" stroke-width="0.6"/>
<path d="M306.31 531.25 L310.09 531.25 L308.2 534.67Z" fill="#999" stroke="#444" stroke-width="0.6"/>
<path d="M330.91 531.71 L334.69 531.71 L332.8 535.13Z" fill="#999" stroke="#444" stroke-width="0.6"/>
<path d="M230.8 529.08 L232.78 532.6 L228.82 532.6Z" fill="#24502a"/>
<path d="M239.09 526.01 L241.07 529.52 L237.11 529.52Z" fill="#24502a"/>
<path d="M250.15 520.32 L252.13 523.83 L248.17 523.83Z" fill="#24502a"/>
<path d="M269.5 528.32 L271.48 531.83 L267.52 531.83Z" fill="#24502a"/>
<path d="M288.85 530.16 L290.83 533.67 L286.87 533.67Z" fill="#24502a"/>
<path d="M308.2 530.16 L310.18 533.67 L306.22 533.67Z" fill="#24502a"/>
<path d="M332.8 531.08 L334.78 534.59 L330.82 534.59Z" fill="#24502a"/>
<rect x="229" y="529.36" width="3.6" height="3.6" rx="0.6" fill="#7d1b2c"/>
<rect x="237.29" y="512.44" width="3.6" height="3.6" rx="0.6" fill="#7d1b2c"/>
<rect x="248.35" y="474.76" width="3.6" height="3.6" rx="0.6" fill="#7d1b2c"/>
<rect x="267.7" y="526.28" width="3.6" height="3.6" rx="0.6" fill="#7d1b2c"/>
<rect x="287.05" y="530.43" width="3.6" height="3.6" rx="0.6" fill="#7d1b2c"/>
<rect x="306.4" y="530.43" width="3.6" height="3.6" rx="0.6" fill="#7d1b2c"/>
<rect x="331" y="531.35" width="3.6" height="3.6" rx="0.6" fill="#7d1b2c"/>
<path d="M230.8 529 L232.78 531.15 L230.8 533.31 L228.82 531.15Z" fill="#1c2f48"/>
<path d="M239.09 499.77 L241.07 501.93 L239.09 504.09 L237.11 501.93Z" fill="#1c2f48"/>
<path d="M250.15 480.24 L252.13 482.4 L250.15 484.56 L248.17 482.4Z" fill="#1c2f48"/>
<path d="M269.5 524.84 L271.48 527 L269.5 529.16 L267.52 527Z" fill="#1c2f48"/>
<path d="M288.85 529.76 L290.83 531.92 L288.85 534.08 L286.87 531.92Z" fill="#1c2f48"/>
<path d="M308.2 530.07 L310.18 532.23 L308.2 534.39 L306.22 532.23Z" fill="#1c2f48"/>
<path d="M332.8 530.99 L334.78 533.15 L332.8 535.31 L330.82 533.15Z" fill="#1c2f48"/>
<text transform="translate(210.2 513.5) rotate(-90)" x="0" y="0" font-size="8.4" fill="#222" stroke="#222" stroke-width="0.22" textLength="33.1" lengthAdjust="spacingAndGlyphs">% of Ki-67<tspan font-size="5.6" dy="-3.2">+</tspan></text>
<path d="M233.2 440.17 L234.85 443.1 L231.55 443.1Z" fill="#24502a"/>
<rect x="231.7" y="445" width="3" height="3" rx="0.6" fill="#7d1b2c"/>
<path d="M233.2 449.4 L234.85 451.2 L233.2 453 L231.55 451.2Z" fill="#1c2f48"/>
<text x="239.09" y="445" font-size="5.6" fill="#333" text-anchor="middle">**</text>
<text x="239.09" y="449.6" font-size="5.6" fill="#333" text-anchor="middle">*</text>
<text x="239.09" y="454.3" font-size="5.6" fill="#333" text-anchor="middle">**</text>
<text x="250.15" y="445" font-size="5.6" fill="#333" text-anchor="middle">**</text>
<text x="250.15" y="449.6" font-size="5.6" fill="#333" text-anchor="middle">**</text>
<text x="250.15" y="454.3" font-size="5.6" fill="#333" text-anchor="middle">**</text>
<text x="269.5" y="454.3" font-size="5.6" fill="#333" text-anchor="middle">**</text>
<line x1="396.5" y1="456.5" x2="396.5" y2="535.3" stroke="#2a2a2a" stroke-width="1.1"/>
<line x1="396" y1="534.8" x2="485.3" y2="534.8" stroke="#2a2a2a" stroke-width="1.1"/>
<line x1="488.6" y1="534.8" x2="501.3" y2="534.8" stroke="#2a2a2a" stroke-width="1.1"/>
<line x1="485.3" y1="530.3" x2="485.3" y2="537.8" stroke="#2a2a2a" stroke-width="1.1"/>
<line x1="488.6" y1="530.3" x2="488.6" y2="537.8" stroke="#2a2a2a" stroke-width="1.1"/>
<line x1="392.9" y1="534.7" x2="396.5" y2="534.7" stroke="#2a2a2a" stroke-width="1"/>
<text x="390.2" y="537.5" font-size="8" fill="#2a2a2a" text-anchor="end">0</text>
<line x1="392.9" y1="509.17" x2="396.5" y2="509.17" stroke="#2a2a2a" stroke-width="1"/>
<text x="390.2" y="511.97" font-size="8" fill="#2a2a2a" text-anchor="end">10</text>
<line x1="392.9" y1="483.63" x2="396.5" y2="483.63" stroke="#2a2a2a" stroke-width="1"/>
<text x="390.2" y="486.43" font-size="8" fill="#2a2a2a" text-anchor="end">20</text>
<line x1="392.9" y1="458.1" x2="396.5" y2="458.1" stroke="#2a2a2a" stroke-width="1"/>
<text x="390.2" y="460.9" font-size="8" fill="#2a2a2a" text-anchor="end">30</text>
<line x1="396.5" y1="534.8" x2="396.5" y2="537.4" stroke="#2a2a2a" stroke-width="1"/>
<text x="396.5" y="547.6" font-size="8" fill="#2a2a2a" text-anchor="middle">0</text>
<line x1="415.7" y1="534.8" x2="415.7" y2="537.4" stroke="#2a2a2a" stroke-width="1"/>
<text x="415.7" y="547.6" font-size="8" fill="#2a2a2a" text-anchor="middle">7</text>
<line x1="435.3" y1="534.8" x2="435.3" y2="537.4" stroke="#2a2a2a" stroke-width="1"/>
<text x="435.3" y="547.6" font-size="8" fill="#2a2a2a" text-anchor="middle">14</text>
<line x1="454.6" y1="534.8" x2="454.6" y2="537.4" stroke="#2a2a2a" stroke-width="1"/>
<text x="454.6" y="547.6" font-size="8" fill="#2a2a2a" text-anchor="middle">21</text>
<line x1="473.8" y1="534.8" x2="473.8" y2="537.4" stroke="#2a2a2a" stroke-width="1"/>
<text x="473.8" y="547.6" font-size="8" fill="#2a2a2a" text-anchor="middle">28</text>
<line x1="498.5" y1="534.8" x2="498.5" y2="537.4" stroke="#2a2a2a" stroke-width="1"/>
<text x="498.5" y="547.6" font-size="8" fill="#2a2a2a" text-anchor="middle">56</text>
<polyline points="396.5,530.87 404.78,528.83 415.82,530.1 435.15,530.61 454.48,531.13 473.8,531.38" fill="none" stroke="#cbc5cd" stroke-width="1.15" stroke-linejoin="round"/>
<line x1="473.8" y1="531.38" x2="484.8" y2="531.38" stroke="#cbc5cd" stroke-width="1.15"/>
<line x1="489.6" y1="531.38" x2="498.5" y2="531.38" stroke="#cbc5cd" stroke-width="1.15"/>
<polyline points="396.5,529.59 404.78,524.23 415.82,522.44 435.15,525.76 454.48,530.1 473.8,530.87" fill="none" stroke="#4a8f4e" stroke-width="1.15" stroke-linejoin="round"/>
<line x1="473.8" y1="530.87" x2="484.8" y2="530.87" stroke="#4a8f4e" stroke-width="1.15"/>
<line x1="489.6" y1="530.87" x2="498.5" y2="530.87" stroke="#4a8f4e" stroke-width="1.15"/>
<polyline points="396.5,528.32 404.78,511.21 415.82,481.59 435.15,519.64 454.48,529.59 473.8,530.87" fill="none" stroke="#b4344c" stroke-width="1.15" stroke-linejoin="round"/>
<line x1="473.8" y1="530.87" x2="484.8" y2="530.87" stroke="#b4344c" stroke-width="1.15"/>
<line x1="489.6" y1="530.87" x2="498.5" y2="530.87" stroke="#b4344c" stroke-width="1.15"/>
<polyline points="396.5,529.59 404.78,492.57 415.82,480.82 435.15,509.68 454.48,529.08 473.8,530.87" fill="none" stroke="#3b5676" stroke-width="1.15" stroke-linejoin="round"/>
<line x1="473.8" y1="530.87" x2="484.8" y2="530.87" stroke="#3b5676" stroke-width="1.15"/>
<line x1="489.6" y1="530.87" x2="498.5" y2="530.87" stroke="#3b5676" stroke-width="1.15"/>
<line x1="404.78" y1="527.81" x2="404.78" y2="529.85" stroke="#3a3a3a" stroke-width="0.8"/>
<line x1="403.58" y1="527.81" x2="405.98" y2="527.81" stroke="#3a3a3a" stroke-width="0.8"/>
<line x1="403.58" y1="529.85" x2="405.98" y2="529.85" stroke="#3a3a3a" stroke-width="0.8"/>
<line x1="415.82" y1="529.34" x2="415.82" y2="530.87" stroke="#3a3a3a" stroke-width="0.8"/>
<line x1="414.62" y1="529.34" x2="417.02" y2="529.34" stroke="#3a3a3a" stroke-width="0.8"/>
<line x1="414.62" y1="530.87" x2="417.02" y2="530.87" stroke="#3a3a3a" stroke-width="0.8"/>
<line x1="435.15" y1="529.85" x2="435.15" y2="531.38" stroke="#3a3a3a" stroke-width="0.8"/>
<line x1="433.95" y1="529.85" x2="436.35" y2="529.85" stroke="#3a3a3a" stroke-width="0.8"/>
<line x1="433.95" y1="531.38" x2="436.35" y2="531.38" stroke="#3a3a3a" stroke-width="0.8"/>
<line x1="454.48" y1="530.36" x2="454.48" y2="531.89" stroke="#3a3a3a" stroke-width="0.8"/>
<line x1="453.28" y1="530.36" x2="455.68" y2="530.36" stroke="#3a3a3a" stroke-width="0.8"/>
<line x1="453.28" y1="531.89" x2="455.68" y2="531.89" stroke="#3a3a3a" stroke-width="0.8"/>
<line x1="473.8" y1="530.61" x2="473.8" y2="532.15" stroke="#3a3a3a" stroke-width="0.8"/>
<line x1="472.6" y1="530.61" x2="475" y2="530.61" stroke="#3a3a3a" stroke-width="0.8"/>
<line x1="472.6" y1="532.15" x2="475" y2="532.15" stroke="#3a3a3a" stroke-width="0.8"/>
<line x1="498.5" y1="530.61" x2="498.5" y2="532.15" stroke="#3a3a3a" stroke-width="0.8"/>
<line x1="497.3" y1="530.61" x2="499.7" y2="530.61" stroke="#3a3a3a" stroke-width="0.8"/>
<line x1="497.3" y1="532.15" x2="499.7" y2="532.15" stroke="#3a3a3a" stroke-width="0.8"/>
<line x1="404.78" y1="522.7" x2="404.78" y2="525.76" stroke="#3a3a3a" stroke-width="0.8"/>
<line x1="403.58" y1="522.7" x2="405.98" y2="522.7" stroke="#3a3a3a" stroke-width="0.8"/>
<line x1="403.58" y1="525.76" x2="405.98" y2="525.76" stroke="#3a3a3a" stroke-width="0.8"/>
<line x1="415.82" y1="521.17" x2="415.82" y2="523.72" stroke="#3a3a3a" stroke-width="0.8"/>
<line x1="414.62" y1="521.17" x2="417.02" y2="521.17" stroke="#3a3a3a" stroke-width="0.8"/>
<line x1="414.62" y1="523.72" x2="417.02" y2="523.72" stroke="#3a3a3a" stroke-width="0.8"/>
<line x1="435.15" y1="524.49" x2="435.15" y2="527.04" stroke="#3a3a3a" stroke-width="0.8"/>
<line x1="433.95" y1="524.49" x2="436.35" y2="524.49" stroke="#3a3a3a" stroke-width="0.8"/>
<line x1="433.95" y1="527.04" x2="436.35" y2="527.04" stroke="#3a3a3a" stroke-width="0.8"/>
<line x1="454.48" y1="529.08" x2="454.48" y2="531.13" stroke="#3a3a3a" stroke-width="0.8"/>
<line x1="453.28" y1="529.08" x2="455.68" y2="529.08" stroke="#3a3a3a" stroke-width="0.8"/>
<line x1="453.28" y1="531.13" x2="455.68" y2="531.13" stroke="#3a3a3a" stroke-width="0.8"/>
<line x1="473.8" y1="530.1" x2="473.8" y2="531.64" stroke="#3a3a3a" stroke-width="0.8"/>
<line x1="472.6" y1="530.1" x2="475" y2="530.1" stroke="#3a3a3a" stroke-width="0.8"/>
<line x1="472.6" y1="531.64" x2="475" y2="531.64" stroke="#3a3a3a" stroke-width="0.8"/>
<line x1="498.5" y1="530.1" x2="498.5" y2="531.64" stroke="#3a3a3a" stroke-width="0.8"/>
<line x1="497.3" y1="530.1" x2="499.7" y2="530.1" stroke="#3a3a3a" stroke-width="0.8"/>
<line x1="497.3" y1="531.64" x2="499.7" y2="531.64" stroke="#3a3a3a" stroke-width="0.8"/>
<line x1="404.78" y1="507.63" x2="404.78" y2="514.78" stroke="#3a3a3a" stroke-width="0.8"/>
<line x1="403.58" y1="507.63" x2="405.98" y2="507.63" stroke="#3a3a3a" stroke-width="0.8"/>
<line x1="403.58" y1="514.78" x2="405.98" y2="514.78" stroke="#3a3a3a" stroke-width="0.8"/>
<line x1="415.82" y1="475.21" x2="415.82" y2="487.97" stroke="#3a3a3a" stroke-width="0.8"/>
<line x1="414.62" y1="475.21" x2="417.02" y2="475.21" stroke="#3a3a3a" stroke-width="0.8"/>
<line x1="414.62" y1="487.97" x2="417.02" y2="487.97" stroke="#3a3a3a" stroke-width="0.8"/>
<line x1="435.15" y1="517.08" x2="435.15" y2="522.19" stroke="#3a3a3a" stroke-width="0.8"/>
<line x1="433.95" y1="517.08" x2="436.35" y2="517.08" stroke="#3a3a3a" stroke-width="0.8"/>
<line x1="433.95" y1="522.19" x2="436.35" y2="522.19" stroke="#3a3a3a" stroke-width="0.8"/>
<line x1="454.48" y1="528.32" x2="454.48" y2="530.87" stroke="#3a3a3a" stroke-width="0.8"/>
<line x1="453.28" y1="528.32" x2="455.68" y2="528.32" stroke="#3a3a3a" stroke-width="0.8"/>
<line x1="453.28" y1="530.87" x2="455.68" y2="530.87" stroke="#3a3a3a" stroke-width="0.8"/>
<line x1="473.8" y1="530.1" x2="473.8" y2="531.64" stroke="#3a3a3a" stroke-width="0.8"/>
<line x1="472.6" y1="530.1" x2="475" y2="530.1" stroke="#3a3a3a" stroke-width="0.8"/>
<line x1="472.6" y1="531.64" x2="475" y2="531.64" stroke="#3a3a3a" stroke-width="0.8"/>
<line x1="498.5" y1="530.1" x2="498.5" y2="531.64" stroke="#3a3a3a" stroke-width="0.8"/>
<line x1="497.3" y1="530.1" x2="499.7" y2="530.1" stroke="#3a3a3a" stroke-width="0.8"/>
<line x1="497.3" y1="531.64" x2="499.7" y2="531.64" stroke="#3a3a3a" stroke-width="0.8"/>
<line x1="404.78" y1="485.42" x2="404.78" y2="499.72" stroke="#3a3a3a" stroke-width="0.8"/>
<line x1="403.58" y1="485.42" x2="405.98" y2="485.42" stroke="#3a3a3a" stroke-width="0.8"/>
<line x1="403.58" y1="499.72" x2="405.98" y2="499.72" stroke="#3a3a3a" stroke-width="0.8"/>
<line x1="415.82" y1="473.68" x2="415.82" y2="487.97" stroke="#3a3a3a" stroke-width="0.8"/>
<line x1="414.62" y1="473.68" x2="417.02" y2="473.68" stroke="#3a3a3a" stroke-width="0.8"/>
<line x1="414.62" y1="487.97" x2="417.02" y2="487.97" stroke="#3a3a3a" stroke-width="0.8"/>
<line x1="435.15" y1="505.85" x2="435.15" y2="513.51" stroke="#3a3a3a" stroke-width="0.8"/>
<line x1="433.95" y1="505.85" x2="436.35" y2="505.85" stroke="#3a3a3a" stroke-width="0.8"/>
<line x1="433.95" y1="513.51" x2="436.35" y2="513.51" stroke="#3a3a3a" stroke-width="0.8"/>
<line x1="454.48" y1="527.81" x2="454.48" y2="530.36" stroke="#3a3a3a" stroke-width="0.8"/>
<line x1="453.28" y1="527.81" x2="455.68" y2="527.81" stroke="#3a3a3a" stroke-width="0.8"/>
<line x1="453.28" y1="530.36" x2="455.68" y2="530.36" stroke="#3a3a3a" stroke-width="0.8"/>
<line x1="473.8" y1="530.1" x2="473.8" y2="531.64" stroke="#3a3a3a" stroke-width="0.8"/>
<line x1="472.6" y1="530.1" x2="475" y2="530.1" stroke="#3a3a3a" stroke-width="0.8"/>
<line x1="472.6" y1="531.64" x2="475" y2="531.64" stroke="#3a3a3a" stroke-width="0.8"/>
<line x1="498.5" y1="530.1" x2="498.5" y2="531.64" stroke="#3a3a3a" stroke-width="0.8"/>
<line x1="497.3" y1="530.1" x2="499.7" y2="530.1" stroke="#3a3a3a" stroke-width="0.8"/>
<line x1="497.3" y1="531.64" x2="499.7" y2="531.64" stroke="#3a3a3a" stroke-width="0.8"/>
<path d="M394.61 529.43 L398.39 529.43 L396.5 532.85Z" fill="#999" stroke="#444" stroke-width="0.6"/>
<path d="M402.89 527.39 L406.67 527.39 L404.78 530.81Z" fill="#999" stroke="#444" stroke-width="0.6"/>
<path d="M413.94 528.66 L417.71 528.66 L415.82 532.08Z" fill="#999" stroke="#444" stroke-width="0.6"/>
<path d="M433.26 529.17 L437.04 529.17 L435.15 532.59Z" fill="#999" stroke="#444" stroke-width="0.6"/>
<path d="M452.59 529.69 L456.37 529.69 L454.48 533.11Z" fill="#999" stroke="#444" stroke-width="0.6"/>
<path d="M471.91 529.94 L475.69 529.94 L473.8 533.36Z" fill="#999" stroke="#444" stroke-width="0.6"/>
<path d="M496.61 529.94 L500.39 529.94 L498.5 533.36Z" fill="#999" stroke="#444" stroke-width="0.6"/>
<path d="M396.5 527.52 L398.48 531.03 L394.52 531.03Z" fill="#24502a"/>
<path d="M404.78 522.16 L406.76 525.67 L402.8 525.67Z" fill="#24502a"/>
<path d="M415.82 520.37 L417.81 523.88 L413.84 523.88Z" fill="#24502a"/>
<path d="M435.15 523.69 L437.13 527.2 L433.17 527.2Z" fill="#24502a"/>
<path d="M454.48 528.03 L456.46 531.54 L452.5 531.54Z" fill="#24502a"/>
<path d="M473.8 528.8 L475.78 532.31 L471.82 532.31Z" fill="#24502a"/>
<path d="M498.5 528.8 L500.48 532.31 L496.52 532.31Z" fill="#24502a"/>
<rect x="394.7" y="526.52" width="3.6" height="3.6" rx="0.6" fill="#7d1b2c"/>
<rect x="402.98" y="509.41" width="3.6" height="3.6" rx="0.6" fill="#7d1b2c"/>
<rect x="414.02" y="479.79" width="3.6" height="3.6" rx="0.6" fill="#7d1b2c"/>
<rect x="433.35" y="517.84" width="3.6" height="3.6" rx="0.6" fill="#7d1b2c"/>
<rect x="452.68" y="527.79" width="3.6" height="3.6" rx="0.6" fill="#7d1b2c"/>
<rect x="472" y="529.07" width="3.6" height="3.6" rx="0.6" fill="#7d1b2c"/>
<rect x="496.7" y="529.07" width="3.6" height="3.6" rx="0.6" fill="#7d1b2c"/>
<path d="M396.5 527.43 L398.48 529.59 L396.5 531.75 L394.52 529.59Z" fill="#1c2f48"/>
<path d="M404.78 490.41 L406.76 492.57 L404.78 494.73 L402.8 492.57Z" fill="#1c2f48"/>
<path d="M415.82 478.66 L417.81 480.82 L415.82 482.98 L413.84 480.82Z" fill="#1c2f48"/>
<path d="M435.15 507.52 L437.13 509.68 L435.15 511.84 L433.17 509.68Z" fill="#1c2f48"/>
<path d="M454.48 526.92 L456.46 529.08 L454.48 531.24 L452.5 529.08Z" fill="#1c2f48"/>
<path d="M473.8 528.71 L475.78 530.87 L473.8 533.03 L471.82 530.87Z" fill="#1c2f48"/>
<path d="M498.5 528.71 L500.48 530.87 L498.5 533.03 L496.52 530.87Z" fill="#1c2f48"/>
<text transform="translate(376 514.2) rotate(-90)" x="0" y="0" font-size="8.4" fill="#222" stroke="#222" stroke-width="0.22" textLength="34.6" lengthAdjust="spacingAndGlyphs">% of Ki-67<tspan font-size="5.6" dy="-3.2">+</tspan></text>
<path d="M396.5 439.07 L398.15 442 L394.85 442Z" fill="#24502a"/>
<rect x="395" y="444.6" width="3" height="3" rx="0.6" fill="#7d1b2c"/>
<path d="M396.5 449.8 L398.15 451.6 L396.5 453.4 L394.85 451.6Z" fill="#1c2f48"/>
<text x="404.78" y="443.9" font-size="5.6" fill="#333" text-anchor="middle">**</text>
<text x="404.78" y="449.2" font-size="5.6" fill="#333" text-anchor="middle">**</text>
<text x="404.78" y="454.7" font-size="5.6" fill="#333" text-anchor="middle">**</text>
<text x="415.82" y="443.9" font-size="5.6" fill="#333" text-anchor="middle">**</text>
<text x="415.82" y="449.2" font-size="5.6" fill="#333" text-anchor="middle">**</text>
<text x="415.82" y="454.7" font-size="5.6" fill="#333" text-anchor="middle">**</text>
<text x="435.15" y="449.2" font-size="5.6" fill="#333" text-anchor="middle">**</text>
<text x="435.15" y="454.7" font-size="5.6" fill="#333" text-anchor="middle">**</text>
<line x1="230.9" y1="573.5" x2="230.9" y2="653.9" stroke="#2a2a2a" stroke-width="1.1"/>
<line x1="230.4" y1="653.4" x2="319" y2="653.4" stroke="#2a2a2a" stroke-width="1.1"/>
<line x1="322" y1="653.4" x2="335" y2="653.4" stroke="#2a2a2a" stroke-width="1.1"/>
<line x1="319" y1="650.4" x2="319" y2="656.4" stroke="#2a2a2a" stroke-width="1.1"/>
<line x1="322" y1="650.4" x2="322" y2="656.4" stroke="#2a2a2a" stroke-width="1.1"/>
<line x1="227.3" y1="653.4" x2="230.9" y2="653.4" stroke="#2a2a2a" stroke-width="1"/>
<text x="224.6" y="656.2" font-size="8" fill="#2a2a2a" text-anchor="end">2</text>
<line x1="227.3" y1="627.53" x2="230.9" y2="627.53" stroke="#2a2a2a" stroke-width="1"/>
<text x="224.6" y="630.33" font-size="8" fill="#2a2a2a" text-anchor="end">4</text>
<line x1="227.3" y1="601.67" x2="230.9" y2="601.67" stroke="#2a2a2a" stroke-width="1"/>
<text x="224.6" y="604.47" font-size="8" fill="#2a2a2a" text-anchor="end">6</text>
<line x1="227.3" y1="575.8" x2="230.9" y2="575.8" stroke="#2a2a2a" stroke-width="1"/>
<text x="224.6" y="578.6" font-size="8" fill="#2a2a2a" text-anchor="end">8</text>
<line x1="230.9" y1="653.4" x2="230.9" y2="656" stroke="#2a2a2a" stroke-width="1"/>
<text x="230.9" y="666.2" font-size="8" fill="#2a2a2a" text-anchor="middle">0</text>
<line x1="250" y1="653.4" x2="250" y2="656" stroke="#2a2a2a" stroke-width="1"/>
<text x="250" y="666.2" font-size="8" fill="#2a2a2a" text-anchor="middle">7</text>
<line x1="269.5" y1="653.4" x2="269.5" y2="656" stroke="#2a2a2a" stroke-width="1"/>
<text x="269.5" y="666.2" font-size="8" fill="#2a2a2a" text-anchor="middle">14</text>
<line x1="289" y1="653.4" x2="289" y2="656" stroke="#2a2a2a" stroke-width="1"/>
<text x="289" y="666.2" font-size="8" fill="#2a2a2a" text-anchor="middle">21</text>
<line x1="308" y1="653.4" x2="308" y2="656" stroke="#2a2a2a" stroke-width="1"/>
<text x="308" y="666.2" font-size="8" fill="#2a2a2a" text-anchor="middle">28</text>
<line x1="332.8" y1="653.4" x2="332.8" y2="656" stroke="#2a2a2a" stroke-width="1"/>
<text x="332.8" y="666.2" font-size="8" fill="#2a2a2a" text-anchor="middle">56</text>
<polyline points="230.9,600.37 239.16,600.37 250.18,600.37 269.45,601.67 288.73,605.55 308,606.19" fill="none" stroke="#cbc5cd" stroke-width="1.15" stroke-linejoin="round"/>
<line x1="308" y1="606.19" x2="318.5" y2="604.55" stroke="#cbc5cd" stroke-width="1.15"/>
<line x1="323" y1="603.85" x2="332.8" y2="602.31" stroke="#cbc5cd" stroke-width="1.15"/>
<polyline points="230.9,617.19 239.16,593.91 250.18,604.25 269.45,612.01 288.73,614.6 308,624.95" fill="none" stroke="#4a8f4e" stroke-width="1.15" stroke-linejoin="round"/>
<line x1="308" y1="624.95" x2="318.5" y2="624.95" stroke="#4a8f4e" stroke-width="1.15"/>
<line x1="323" y1="624.95" x2="332.8" y2="624.95" stroke="#4a8f4e" stroke-width="1.15"/>
<polyline points="230.9,621.07 239.16,601.02 250.18,600.37 269.45,613.31 288.73,623.65 308,627.53" fill="none" stroke="#b4344c" stroke-width="1.15" stroke-linejoin="round"/>
<line x1="308" y1="627.53" x2="318.5" y2="629.18" stroke="#b4344c" stroke-width="1.15"/>
<line x1="323" y1="629.88" x2="332.8" y2="631.41" stroke="#b4344c" stroke-width="1.15"/>
<polyline points="230.9,623.65 239.16,591.32 250.18,595.2 269.45,613.31 288.73,623.65 308,627.53" fill="none" stroke="#3b5676" stroke-width="1.15" stroke-linejoin="round"/>
<line x1="308" y1="627.53" x2="318.5" y2="629.18" stroke="#3b5676" stroke-width="1.15"/>
<line x1="323" y1="629.88" x2="332.8" y2="631.41" stroke="#3b5676" stroke-width="1.15"/>
<line x1="239.16" y1="596.49" x2="239.16" y2="604.25" stroke="#3a3a3a" stroke-width="0.8"/>
<line x1="237.96" y1="596.49" x2="240.36" y2="596.49" stroke="#3a3a3a" stroke-width="0.8"/>
<line x1="237.96" y1="604.25" x2="240.36" y2="604.25" stroke="#3a3a3a" stroke-width="0.8"/>
<line x1="250.18" y1="596.49" x2="250.18" y2="604.25" stroke="#3a3a3a" stroke-width="0.8"/>
<line x1="248.98" y1="596.49" x2="251.38" y2="596.49" stroke="#3a3a3a" stroke-width="0.8"/>
<line x1="248.98" y1="604.25" x2="251.38" y2="604.25" stroke="#3a3a3a" stroke-width="0.8"/>
<line x1="269.45" y1="599.08" x2="269.45" y2="604.25" stroke="#3a3a3a" stroke-width="0.8"/>
<line x1="268.25" y1="599.08" x2="270.65" y2="599.08" stroke="#3a3a3a" stroke-width="0.8"/>
<line x1="268.25" y1="604.25" x2="270.65" y2="604.25" stroke="#3a3a3a" stroke-width="0.8"/>
<line x1="288.73" y1="602.96" x2="288.73" y2="608.13" stroke="#3a3a3a" stroke-width="0.8"/>
<line x1="287.53" y1="602.96" x2="289.93" y2="602.96" stroke="#3a3a3a" stroke-width="0.8"/>
<line x1="287.53" y1="608.13" x2="289.93" y2="608.13" stroke="#3a3a3a" stroke-width="0.8"/>
<line x1="308" y1="603.61" x2="308" y2="608.78" stroke="#3a3a3a" stroke-width="0.8"/>
<line x1="306.8" y1="603.61" x2="309.2" y2="603.61" stroke="#3a3a3a" stroke-width="0.8"/>
<line x1="306.8" y1="608.78" x2="309.2" y2="608.78" stroke="#3a3a3a" stroke-width="0.8"/>
<line x1="332.8" y1="599.08" x2="332.8" y2="605.55" stroke="#3a3a3a" stroke-width="0.8"/>
<line x1="331.6" y1="599.08" x2="334" y2="599.08" stroke="#3a3a3a" stroke-width="0.8"/>
<line x1="331.6" y1="605.55" x2="334" y2="605.55" stroke="#3a3a3a" stroke-width="0.8"/>
<line x1="239.16" y1="588.73" x2="239.16" y2="599.08" stroke="#3a3a3a" stroke-width="0.8"/>
<line x1="237.96" y1="588.73" x2="240.36" y2="588.73" stroke="#3a3a3a" stroke-width="0.8"/>
<line x1="237.96" y1="599.08" x2="240.36" y2="599.08" stroke="#3a3a3a" stroke-width="0.8"/>
<line x1="250.18" y1="600.37" x2="250.18" y2="608.13" stroke="#3a3a3a" stroke-width="0.8"/>
<line x1="248.98" y1="600.37" x2="251.38" y2="600.37" stroke="#3a3a3a" stroke-width="0.8"/>
<line x1="248.98" y1="608.13" x2="251.38" y2="608.13" stroke="#3a3a3a" stroke-width="0.8"/>
<line x1="269.45" y1="608.13" x2="269.45" y2="615.89" stroke="#3a3a3a" stroke-width="0.8"/>
<line x1="268.25" y1="608.13" x2="270.65" y2="608.13" stroke="#3a3a3a" stroke-width="0.8"/>
<line x1="268.25" y1="615.89" x2="270.65" y2="615.89" stroke="#3a3a3a" stroke-width="0.8"/>
<line x1="288.73" y1="610.72" x2="288.73" y2="618.48" stroke="#3a3a3a" stroke-width="0.8"/>
<line x1="287.53" y1="610.72" x2="289.93" y2="610.72" stroke="#3a3a3a" stroke-width="0.8"/>
<line x1="287.53" y1="618.48" x2="289.93" y2="618.48" stroke="#3a3a3a" stroke-width="0.8"/>
<line x1="308" y1="621.07" x2="308" y2="628.83" stroke="#3a3a3a" stroke-width="0.8"/>
<line x1="306.8" y1="621.07" x2="309.2" y2="621.07" stroke="#3a3a3a" stroke-width="0.8"/>
<line x1="306.8" y1="628.83" x2="309.2" y2="628.83" stroke="#3a3a3a" stroke-width="0.8"/>
<line x1="332.8" y1="621.07" x2="332.8" y2="628.83" stroke="#3a3a3a" stroke-width="0.8"/>
<line x1="331.6" y1="621.07" x2="334" y2="621.07" stroke="#3a3a3a" stroke-width="0.8"/>
<line x1="331.6" y1="628.83" x2="334" y2="628.83" stroke="#3a3a3a" stroke-width="0.8"/>
<line x1="239.16" y1="597.14" x2="239.16" y2="604.9" stroke="#3a3a3a" stroke-width="0.8"/>
<line x1="237.96" y1="597.14" x2="240.36" y2="597.14" stroke="#3a3a3a" stroke-width="0.8"/>
<line x1="237.96" y1="604.9" x2="240.36" y2="604.9" stroke="#3a3a3a" stroke-width="0.8"/>
<line x1="250.18" y1="596.49" x2="250.18" y2="604.25" stroke="#3a3a3a" stroke-width="0.8"/>
<line x1="248.98" y1="596.49" x2="251.38" y2="596.49" stroke="#3a3a3a" stroke-width="0.8"/>
<line x1="248.98" y1="604.25" x2="251.38" y2="604.25" stroke="#3a3a3a" stroke-width="0.8"/>
<line x1="269.45" y1="609.43" x2="269.45" y2="617.19" stroke="#3a3a3a" stroke-width="0.8"/>
<line x1="268.25" y1="609.43" x2="270.65" y2="609.43" stroke="#3a3a3a" stroke-width="0.8"/>
<line x1="268.25" y1="617.19" x2="270.65" y2="617.19" stroke="#3a3a3a" stroke-width="0.8"/>
<line x1="288.73" y1="619.77" x2="288.73" y2="627.53" stroke="#3a3a3a" stroke-width="0.8"/>
<line x1="287.53" y1="619.77" x2="289.93" y2="619.77" stroke="#3a3a3a" stroke-width="0.8"/>
<line x1="287.53" y1="627.53" x2="289.93" y2="627.53" stroke="#3a3a3a" stroke-width="0.8"/>
<line x1="308" y1="623.65" x2="308" y2="631.41" stroke="#3a3a3a" stroke-width="0.8"/>
<line x1="306.8" y1="623.65" x2="309.2" y2="623.65" stroke="#3a3a3a" stroke-width="0.8"/>
<line x1="306.8" y1="631.41" x2="309.2" y2="631.41" stroke="#3a3a3a" stroke-width="0.8"/>
<line x1="332.8" y1="628.83" x2="332.8" y2="634" stroke="#3a3a3a" stroke-width="0.8"/>
<line x1="331.6" y1="628.83" x2="334" y2="628.83" stroke="#3a3a3a" stroke-width="0.8"/>
<line x1="331.6" y1="634" x2="334" y2="634" stroke="#3a3a3a" stroke-width="0.8"/>
<line x1="239.16" y1="584.85" x2="239.16" y2="597.79" stroke="#3a3a3a" stroke-width="0.8"/>
<line x1="237.96" y1="584.85" x2="240.36" y2="584.85" stroke="#3a3a3a" stroke-width="0.8"/>
<line x1="237.96" y1="597.79" x2="240.36" y2="597.79" stroke="#3a3a3a" stroke-width="0.8"/>
<line x1="250.18" y1="590.03" x2="250.18" y2="600.37" stroke="#3a3a3a" stroke-width="0.8"/>
<line x1="248.98" y1="590.03" x2="251.38" y2="590.03" stroke="#3a3a3a" stroke-width="0.8"/>
<line x1="248.98" y1="600.37" x2="251.38" y2="600.37" stroke="#3a3a3a" stroke-width="0.8"/>
<line x1="269.45" y1="609.43" x2="269.45" y2="617.19" stroke="#3a3a3a" stroke-width="0.8"/>
<line x1="268.25" y1="609.43" x2="270.65" y2="609.43" stroke="#3a3a3a" stroke-width="0.8"/>
<line x1="268.25" y1="617.19" x2="270.65" y2="617.19" stroke="#3a3a3a" stroke-width="0.8"/>
<line x1="288.73" y1="619.77" x2="288.73" y2="627.53" stroke="#3a3a3a" stroke-width="0.8"/>
<line x1="287.53" y1="619.77" x2="289.93" y2="619.77" stroke="#3a3a3a" stroke-width="0.8"/>
<line x1="287.53" y1="627.53" x2="289.93" y2="627.53" stroke="#3a3a3a" stroke-width="0.8"/>
<line x1="308" y1="623.65" x2="308" y2="631.41" stroke="#3a3a3a" stroke-width="0.8"/>
<line x1="306.8" y1="623.65" x2="309.2" y2="623.65" stroke="#3a3a3a" stroke-width="0.8"/>
<line x1="306.8" y1="631.41" x2="309.2" y2="631.41" stroke="#3a3a3a" stroke-width="0.8"/>
<line x1="332.8" y1="628.83" x2="332.8" y2="634" stroke="#3a3a3a" stroke-width="0.8"/>
<line x1="331.6" y1="628.83" x2="334" y2="628.83" stroke="#3a3a3a" stroke-width="0.8"/>
<line x1="331.6" y1="634" x2="334" y2="634" stroke="#3a3a3a" stroke-width="0.8"/>
<path d="M229.01 598.93 L232.79 598.93 L230.9 602.35Z" fill="#999" stroke="#444" stroke-width="0.6"/>
<path d="M237.27 598.93 L241.05 598.93 L239.16 602.35Z" fill="#999" stroke="#444" stroke-width="0.6"/>
<path d="M248.29 598.93 L252.06 598.93 L250.18 602.35Z" fill="#999" stroke="#444" stroke-width="0.6"/>
<path d="M267.56 600.23 L271.34 600.23 L269.45 603.65Z" fill="#999" stroke="#444" stroke-width="0.6"/>
<path d="M286.84 604.11 L290.62 604.11 L288.73 607.53Z" fill="#999" stroke="#444" stroke-width="0.6"/>
<path d="M306.11 604.75 L309.89 604.75 L308 608.17Z" fill="#999" stroke="#444" stroke-width="0.6"/>
<path d="M330.91 600.87 L334.69 600.87 L332.8 604.29Z" fill="#999" stroke="#444" stroke-width="0.6"/>
<path d="M230.9 615.12 L232.88 618.63 L228.92 618.63Z" fill="#24502a"/>
<path d="M239.16 591.84 L241.14 595.35 L237.18 595.35Z" fill="#24502a"/>
<path d="M250.18 602.18 L252.16 605.69 L248.2 605.69Z" fill="#24502a"/>
<path d="M269.45 609.94 L271.43 613.45 L267.47 613.45Z" fill="#24502a"/>
<path d="M288.73 612.53 L290.71 616.04 L286.75 616.04Z" fill="#24502a"/>
<path d="M308 622.88 L309.98 626.39 L306.02 626.39Z" fill="#24502a"/>
<path d="M332.8 622.88 L334.78 626.39 L330.82 626.39Z" fill="#24502a"/>
<rect x="229.1" y="619.27" width="3.6" height="3.6" rx="0.6" fill="#7d1b2c"/>
<rect x="237.36" y="599.22" width="3.6" height="3.6" rx="0.6" fill="#7d1b2c"/>
<rect x="248.38" y="598.57" width="3.6" height="3.6" rx="0.6" fill="#7d1b2c"/>
<rect x="267.65" y="611.51" width="3.6" height="3.6" rx="0.6" fill="#7d1b2c"/>
<rect x="286.93" y="621.85" width="3.6" height="3.6" rx="0.6" fill="#7d1b2c"/>
<rect x="306.2" y="625.73" width="3.6" height="3.6" rx="0.6" fill="#7d1b2c"/>
<rect x="331" y="629.61" width="3.6" height="3.6" rx="0.6" fill="#7d1b2c"/>
<path d="M230.9 621.49 L232.88 623.65 L230.9 625.81 L228.92 623.65Z" fill="#1c2f48"/>
<path d="M239.16 589.16 L241.14 591.32 L239.16 593.48 L237.18 591.32Z" fill="#1c2f48"/>
<path d="M250.18 593.04 L252.16 595.2 L250.18 597.36 L248.2 595.2Z" fill="#1c2f48"/>
<path d="M269.45 611.15 L271.43 613.31 L269.45 615.47 L267.47 613.31Z" fill="#1c2f48"/>
<path d="M288.73 621.49 L290.71 623.65 L288.73 625.81 L286.75 623.65Z" fill="#1c2f48"/>
<path d="M308 625.37 L309.98 627.53 L308 629.69 L306.02 627.53Z" fill="#1c2f48"/>
<path d="M332.8 629.25 L334.78 631.41 L332.8 633.57 L330.82 631.41Z" fill="#1c2f48"/>
<text transform="translate(214 645.7) rotate(-90)" x="0" y="0" font-size="8.6" fill="#222" stroke="#222" stroke-width="0.22" textLength="62.5" lengthAdjust="spacingAndGlyphs">gMFI of Bcl-2 (×10<tspan font-size="5.6" dy="-3.2">3</tspan><tspan dy="3.2">)</tspan></text>
<path d="M233.2 558.67 L234.85 561.6 L231.55 561.6Z" fill="#24502a"/>
<rect x="231.7" y="564" width="3" height="3" rx="0.6" fill="#7d1b2c"/>
<path d="M233.2 568.6 L234.85 570.4 L233.2 572.2 L231.55 570.4Z" fill="#1c2f48"/>
<text x="239.16" y="563.5" font-size="5.6" fill="#333" text-anchor="middle">**</text>
<text x="239.16" y="568.6" font-size="5.6" fill="#333" text-anchor="middle">*</text>
<text x="239.16" y="573.5" font-size="5.6" fill="#333" text-anchor="middle">**</text>
<text x="250.18" y="563.5" font-size="5.6" fill="#333" text-anchor="middle">**</text>
<text x="250.18" y="568.6" font-size="5.6" fill="#333" text-anchor="middle">**</text>
<text x="250.18" y="573.5" font-size="5.6" fill="#333" text-anchor="middle">**</text>
<text x="308" y="573.5" font-size="5.6" fill="#333" text-anchor="middle">**</text>
<text x="332.8" y="568.6" font-size="5.6" fill="#333" text-anchor="middle">**</text>
<text x="332.8" y="573.5" font-size="5.6" fill="#333" text-anchor="middle">**</text>
<line x1="396.2" y1="573.2" x2="396.2" y2="653" stroke="#2a2a2a" stroke-width="1.1"/>
<line x1="395.7" y1="652.5" x2="484.7" y2="652.5" stroke="#2a2a2a" stroke-width="1.1"/>
<line x1="488.4" y1="652.5" x2="500.5" y2="652.5" stroke="#2a2a2a" stroke-width="1.1"/>
<line x1="484.7" y1="649.5" x2="484.7" y2="655.5" stroke="#2a2a2a" stroke-width="1.1"/>
<line x1="488.4" y1="649.5" x2="488.4" y2="655.5" stroke="#2a2a2a" stroke-width="1.1"/>
<line x1="392.6" y1="652.4" x2="396.2" y2="652.4" stroke="#2a2a2a" stroke-width="1"/>
<text x="389.9" y="655.2" font-size="8" fill="#2a2a2a" text-anchor="end">2</text>
<line x1="392.6" y1="626.7" x2="396.2" y2="626.7" stroke="#2a2a2a" stroke-width="1"/>
<text x="389.9" y="629.5" font-size="8" fill="#2a2a2a" text-anchor="end">4</text>
<line x1="392.6" y1="601" x2="396.2" y2="601" stroke="#2a2a2a" stroke-width="1"/>
<text x="389.9" y="603.8" font-size="8" fill="#2a2a2a" text-anchor="end">6</text>
<line x1="392.6" y1="575.3" x2="396.2" y2="575.3" stroke="#2a2a2a" stroke-width="1"/>
<text x="389.9" y="578.1" font-size="8" fill="#2a2a2a" text-anchor="end">8</text>
<line x1="396.2" y1="652.5" x2="396.2" y2="655.1" stroke="#2a2a2a" stroke-width="1"/>
<text x="396.2" y="665.3" font-size="8" fill="#2a2a2a" text-anchor="middle">0</text>
<line x1="415.8" y1="652.5" x2="415.8" y2="655.1" stroke="#2a2a2a" stroke-width="1"/>
<text x="415.8" y="665.3" font-size="8" fill="#2a2a2a" text-anchor="middle">7</text>
<line x1="435.2" y1="652.5" x2="435.2" y2="655.1" stroke="#2a2a2a" stroke-width="1"/>
<text x="435.2" y="665.3" font-size="8" fill="#2a2a2a" text-anchor="middle">14</text>
<line x1="454.7" y1="652.5" x2="454.7" y2="655.1" stroke="#2a2a2a" stroke-width="1"/>
<text x="454.7" y="665.3" font-size="8" fill="#2a2a2a" text-anchor="middle">21</text>
<line x1="474" y1="652.5" x2="474" y2="655.1" stroke="#2a2a2a" stroke-width="1"/>
<text x="474" y="665.3" font-size="8" fill="#2a2a2a" text-anchor="middle">28</text>
<line x1="498.7" y1="652.5" x2="498.7" y2="655.1" stroke="#2a2a2a" stroke-width="1"/>
<text x="498.7" y="665.3" font-size="8" fill="#2a2a2a" text-anchor="middle">56</text>
<polyline points="396.2,604.86 404.54,603.57 415.65,606.14 435.1,608.71 454.55,609.35 474,612.56" fill="none" stroke="#cbc5cd" stroke-width="1.15" stroke-linejoin="round"/>
<line x1="474" y1="612.56" x2="484.2" y2="611.24" stroke="#cbc5cd" stroke-width="1.15"/>
<line x1="489.4" y1="610.56" x2="498.7" y2="609.35" stroke="#cbc5cd" stroke-width="1.15"/>
<polyline points="396.2,618.99 404.54,599.71 415.65,601.64 435.1,614.49 454.55,620.27 474,625.41" fill="none" stroke="#4a8f4e" stroke-width="1.15" stroke-linejoin="round"/>
<line x1="474" y1="625.41" x2="484.2" y2="627.27" stroke="#4a8f4e" stroke-width="1.15"/>
<line x1="489.4" y1="628.22" x2="498.7" y2="629.91" stroke="#4a8f4e" stroke-width="1.15"/>
<polyline points="396.2,622.85 404.54,595.86 415.65,592 435.1,608.71 454.55,622.85 474,624.77" fill="none" stroke="#b4344c" stroke-width="1.15" stroke-linejoin="round"/>
<line x1="474" y1="624.77" x2="484.2" y2="628.22" stroke="#b4344c" stroke-width="1.15"/>
<line x1="489.4" y1="629.98" x2="498.7" y2="633.12" stroke="#b4344c" stroke-width="1.15"/>
<polyline points="396.2,626.7 404.54,590.72 415.65,590.08 435.1,608.71 454.55,622.85 474,627.99" fill="none" stroke="#3b5676" stroke-width="1.15" stroke-linejoin="round"/>
<line x1="474" y1="627.99" x2="484.2" y2="630.11" stroke="#3b5676" stroke-width="1.15"/>
<line x1="489.4" y1="631.19" x2="498.7" y2="633.12" stroke="#3b5676" stroke-width="1.15"/>
<line x1="404.54" y1="598.43" x2="404.54" y2="608.71" stroke="#3a3a3a" stroke-width="0.8"/>
<line x1="403.34" y1="598.43" x2="405.74" y2="598.43" stroke="#3a3a3a" stroke-width="0.8"/>
<line x1="403.34" y1="608.71" x2="405.74" y2="608.71" stroke="#3a3a3a" stroke-width="0.8"/>
<line x1="415.65" y1="599.71" x2="415.65" y2="612.56" stroke="#3a3a3a" stroke-width="0.8"/>
<line x1="414.45" y1="599.71" x2="416.85" y2="599.71" stroke="#3a3a3a" stroke-width="0.8"/>
<line x1="414.45" y1="612.56" x2="416.85" y2="612.56" stroke="#3a3a3a" stroke-width="0.8"/>
<line x1="435.1" y1="606.14" x2="435.1" y2="611.28" stroke="#3a3a3a" stroke-width="0.8"/>
<line x1="433.9" y1="606.14" x2="436.3" y2="606.14" stroke="#3a3a3a" stroke-width="0.8"/>
<line x1="433.9" y1="611.28" x2="436.3" y2="611.28" stroke="#3a3a3a" stroke-width="0.8"/>
<line x1="454.55" y1="606.78" x2="454.55" y2="611.92" stroke="#3a3a3a" stroke-width="0.8"/>
<line x1="453.35" y1="606.78" x2="455.75" y2="606.78" stroke="#3a3a3a" stroke-width="0.8"/>
<line x1="453.35" y1="611.92" x2="455.75" y2="611.92" stroke="#3a3a3a" stroke-width="0.8"/>
<line x1="474" y1="610.64" x2="474" y2="614.49" stroke="#3a3a3a" stroke-width="0.8"/>
<line x1="472.8" y1="610.64" x2="475.2" y2="610.64" stroke="#3a3a3a" stroke-width="0.8"/>
<line x1="472.8" y1="614.49" x2="475.2" y2="614.49" stroke="#3a3a3a" stroke-width="0.8"/>
<line x1="498.7" y1="606.78" x2="498.7" y2="611.92" stroke="#3a3a3a" stroke-width="0.8"/>
<line x1="497.5" y1="606.78" x2="499.9" y2="606.78" stroke="#3a3a3a" stroke-width="0.8"/>
<line x1="497.5" y1="611.92" x2="499.9" y2="611.92" stroke="#3a3a3a" stroke-width="0.8"/>
<line x1="404.54" y1="592" x2="404.54" y2="607.42" stroke="#3a3a3a" stroke-width="0.8"/>
<line x1="403.34" y1="592" x2="405.74" y2="592" stroke="#3a3a3a" stroke-width="0.8"/>
<line x1="403.34" y1="607.42" x2="405.74" y2="607.42" stroke="#3a3a3a" stroke-width="0.8"/>
<line x1="415.65" y1="591.36" x2="415.65" y2="611.92" stroke="#3a3a3a" stroke-width="0.8"/>
<line x1="414.45" y1="591.36" x2="416.85" y2="591.36" stroke="#3a3a3a" stroke-width="0.8"/>
<line x1="414.45" y1="611.92" x2="416.85" y2="611.92" stroke="#3a3a3a" stroke-width="0.8"/>
<line x1="435.1" y1="610.64" x2="435.1" y2="618.35" stroke="#3a3a3a" stroke-width="0.8"/>
<line x1="433.9" y1="610.64" x2="436.3" y2="610.64" stroke="#3a3a3a" stroke-width="0.8"/>
<line x1="433.9" y1="618.35" x2="436.3" y2="618.35" stroke="#3a3a3a" stroke-width="0.8"/>
<line x1="454.55" y1="616.42" x2="454.55" y2="624.13" stroke="#3a3a3a" stroke-width="0.8"/>
<line x1="453.35" y1="616.42" x2="455.75" y2="616.42" stroke="#3a3a3a" stroke-width="0.8"/>
<line x1="453.35" y1="624.13" x2="455.75" y2="624.13" stroke="#3a3a3a" stroke-width="0.8"/>
<line x1="474" y1="621.56" x2="474" y2="629.27" stroke="#3a3a3a" stroke-width="0.8"/>
<line x1="472.8" y1="621.56" x2="475.2" y2="621.56" stroke="#3a3a3a" stroke-width="0.8"/>
<line x1="472.8" y1="629.27" x2="475.2" y2="629.27" stroke="#3a3a3a" stroke-width="0.8"/>
<line x1="498.7" y1="626.06" x2="498.7" y2="633.77" stroke="#3a3a3a" stroke-width="0.8"/>
<line x1="497.5" y1="626.06" x2="499.9" y2="626.06" stroke="#3a3a3a" stroke-width="0.8"/>
<line x1="497.5" y1="633.77" x2="499.9" y2="633.77" stroke="#3a3a3a" stroke-width="0.8"/>
<line x1="404.54" y1="589.43" x2="404.54" y2="602.28" stroke="#3a3a3a" stroke-width="0.8"/>
<line x1="403.34" y1="589.43" x2="405.74" y2="589.43" stroke="#3a3a3a" stroke-width="0.8"/>
<line x1="403.34" y1="602.28" x2="405.74" y2="602.28" stroke="#3a3a3a" stroke-width="0.8"/>
<line x1="415.65" y1="584.29" x2="415.65" y2="599.71" stroke="#3a3a3a" stroke-width="0.8"/>
<line x1="414.45" y1="584.29" x2="416.85" y2="584.29" stroke="#3a3a3a" stroke-width="0.8"/>
<line x1="414.45" y1="599.71" x2="416.85" y2="599.71" stroke="#3a3a3a" stroke-width="0.8"/>
<line x1="435.1" y1="604.86" x2="435.1" y2="612.56" stroke="#3a3a3a" stroke-width="0.8"/>
<line x1="433.9" y1="604.86" x2="436.3" y2="604.86" stroke="#3a3a3a" stroke-width="0.8"/>
<line x1="433.9" y1="612.56" x2="436.3" y2="612.56" stroke="#3a3a3a" stroke-width="0.8"/>
<line x1="454.55" y1="620.27" x2="454.55" y2="625.41" stroke="#3a3a3a" stroke-width="0.8"/>
<line x1="453.35" y1="620.27" x2="455.75" y2="620.27" stroke="#3a3a3a" stroke-width="0.8"/>
<line x1="453.35" y1="625.41" x2="455.75" y2="625.41" stroke="#3a3a3a" stroke-width="0.8"/>
<line x1="474" y1="622.2" x2="474" y2="627.34" stroke="#3a3a3a" stroke-width="0.8"/>
<line x1="472.8" y1="622.2" x2="475.2" y2="622.2" stroke="#3a3a3a" stroke-width="0.8"/>
<line x1="472.8" y1="627.34" x2="475.2" y2="627.34" stroke="#3a3a3a" stroke-width="0.8"/>
<line x1="498.7" y1="630.55" x2="498.7" y2="635.69" stroke="#3a3a3a" stroke-width="0.8"/>
<line x1="497.5" y1="630.55" x2="499.9" y2="630.55" stroke="#3a3a3a" stroke-width="0.8"/>
<line x1="497.5" y1="635.69" x2="499.9" y2="635.69" stroke="#3a3a3a" stroke-width="0.8"/>
<line x1="404.54" y1="585.58" x2="404.54" y2="595.86" stroke="#3a3a3a" stroke-width="0.8"/>
<line x1="403.34" y1="585.58" x2="405.74" y2="585.58" stroke="#3a3a3a" stroke-width="0.8"/>
<line x1="403.34" y1="595.86" x2="405.74" y2="595.86" stroke="#3a3a3a" stroke-width="0.8"/>
<line x1="415.65" y1="582.37" x2="415.65" y2="597.79" stroke="#3a3a3a" stroke-width="0.8"/>
<line x1="414.45" y1="582.37" x2="416.85" y2="582.37" stroke="#3a3a3a" stroke-width="0.8"/>
<line x1="414.45" y1="597.79" x2="416.85" y2="597.79" stroke="#3a3a3a" stroke-width="0.8"/>
<line x1="435.1" y1="604.86" x2="435.1" y2="612.56" stroke="#3a3a3a" stroke-width="0.8"/>
<line x1="433.9" y1="604.86" x2="436.3" y2="604.86" stroke="#3a3a3a" stroke-width="0.8"/>
<line x1="433.9" y1="612.56" x2="436.3" y2="612.56" stroke="#3a3a3a" stroke-width="0.8"/>
<line x1="454.55" y1="620.27" x2="454.55" y2="625.41" stroke="#3a3a3a" stroke-width="0.8"/>
<line x1="453.35" y1="620.27" x2="455.75" y2="620.27" stroke="#3a3a3a" stroke-width="0.8"/>
<line x1="453.35" y1="625.41" x2="455.75" y2="625.41" stroke="#3a3a3a" stroke-width="0.8"/>
<line x1="474" y1="625.41" x2="474" y2="630.55" stroke="#3a3a3a" stroke-width="0.8"/>
<line x1="472.8" y1="625.41" x2="475.2" y2="625.41" stroke="#3a3a3a" stroke-width="0.8"/>
<line x1="472.8" y1="630.55" x2="475.2" y2="630.55" stroke="#3a3a3a" stroke-width="0.8"/>
<line x1="498.7" y1="630.55" x2="498.7" y2="635.69" stroke="#3a3a3a" stroke-width="0.8"/>
<line x1="497.5" y1="630.55" x2="499.9" y2="630.55" stroke="#3a3a3a" stroke-width="0.8"/>
<line x1="497.5" y1="635.69" x2="499.9" y2="635.69" stroke="#3a3a3a" stroke-width="0.8"/>
<path d="M394.31 603.41 L398.09 603.41 L396.2 606.84Z" fill="#999" stroke="#444" stroke-width="0.6"/>
<path d="M402.65 602.13 L406.43 602.13 L404.54 605.55Z" fill="#999" stroke="#444" stroke-width="0.6"/>
<path d="M413.76 604.7 L417.54 604.7 L415.65 608.12Z" fill="#999" stroke="#444" stroke-width="0.6"/>
<path d="M433.21 607.27 L436.99 607.27 L435.1 610.69Z" fill="#999" stroke="#444" stroke-width="0.6"/>
<path d="M452.66 607.91 L456.44 607.91 L454.55 611.33Z" fill="#999" stroke="#444" stroke-width="0.6"/>
<path d="M472.11 611.12 L475.89 611.12 L474 614.54Z" fill="#999" stroke="#444" stroke-width="0.6"/>
<path d="M496.81 607.91 L500.59 607.91 L498.7 611.33Z" fill="#999" stroke="#444" stroke-width="0.6"/>
<path d="M396.2 616.92 L398.18 620.43 L394.22 620.43Z" fill="#24502a"/>
<path d="M404.54 597.64 L406.52 601.15 L402.56 601.15Z" fill="#24502a"/>
<path d="M415.65 599.57 L417.63 603.08 L413.67 603.08Z" fill="#24502a"/>
<path d="M435.1 612.42 L437.08 615.93 L433.12 615.93Z" fill="#24502a"/>
<path d="M454.55 618.2 L456.53 621.72 L452.57 621.72Z" fill="#24502a"/>
<path d="M474 623.34 L475.98 626.86 L472.02 626.86Z" fill="#24502a"/>
<path d="M498.7 627.84 L500.68 631.35 L496.72 631.35Z" fill="#24502a"/>
<rect x="394.4" y="621.05" width="3.6" height="3.6" rx="0.6" fill="#7d1b2c"/>
<rect x="402.74" y="594.06" width="3.6" height="3.6" rx="0.6" fill="#7d1b2c"/>
<rect x="413.85" y="590.21" width="3.6" height="3.6" rx="0.6" fill="#7d1b2c"/>
<rect x="433.3" y="606.91" width="3.6" height="3.6" rx="0.6" fill="#7d1b2c"/>
<rect x="452.75" y="621.05" width="3.6" height="3.6" rx="0.6" fill="#7d1b2c"/>
<rect x="472.2" y="622.97" width="3.6" height="3.6" rx="0.6" fill="#7d1b2c"/>
<rect x="496.9" y="631.33" width="3.6" height="3.6" rx="0.6" fill="#7d1b2c"/>
<path d="M396.2 624.54 L398.18 626.7 L396.2 628.86 L394.22 626.7Z" fill="#1c2f48"/>
<path d="M404.54 588.56 L406.52 590.72 L404.54 592.88 L402.56 590.72Z" fill="#1c2f48"/>
<path d="M415.65 587.92 L417.63 590.08 L415.65 592.24 L413.67 590.08Z" fill="#1c2f48"/>
<path d="M435.1 606.55 L437.08 608.71 L435.1 610.87 L433.12 608.71Z" fill="#1c2f48"/>
<path d="M454.55 620.69 L456.53 622.85 L454.55 625 L452.57 622.85Z" fill="#1c2f48"/>
<path d="M474 625.83 L475.98 627.99 L474 630.14 L472.02 627.99Z" fill="#1c2f48"/>
<path d="M498.7 630.97 L500.68 633.12 L498.7 635.28 L496.72 633.12Z" fill="#1c2f48"/>
<text transform="translate(380.2 645.8) rotate(-90)" x="0" y="0" font-size="8.6" fill="#222" stroke="#222" stroke-width="0.22" textLength="63.1" lengthAdjust="spacingAndGlyphs">gMFI of Bcl-2 (×10<tspan font-size="5.6" dy="-3.2">3</tspan><tspan dy="3.2">)</tspan></text>
<path d="M395.8 559.07 L397.45 562 L394.15 562Z" fill="#24502a"/>
<rect x="394.3" y="563.5" width="3" height="3" rx="0.6" fill="#7d1b2c"/>
<path d="M395.8 567.4 L397.45 569.2 L395.8 571 L394.15 569.2Z" fill="#1c2f48"/>
<text x="404.54" y="563.9" font-size="5.6" fill="#333" text-anchor="middle">**</text>
<text x="404.54" y="568.1" font-size="5.6" fill="#333" text-anchor="middle">**</text>
<text x="404.54" y="572.3" font-size="5.6" fill="#333" text-anchor="middle">**</text>
<text x="415.65" y="563.9" font-size="5.6" fill="#333" text-anchor="middle">**</text>
<text x="415.65" y="568.1" font-size="5.6" fill="#333" text-anchor="middle">**</text>
<text x="415.65" y="572.3" font-size="5.6" fill="#333" text-anchor="middle">**</text>
<text x="435.1" y="568.1" font-size="5.6" fill="#333" text-anchor="middle">**</text>
<text x="435.1" y="572.3" font-size="5.6" fill="#333" text-anchor="middle">*</text>
<text x="474" y="572.3" font-size="5.6" fill="#333" text-anchor="middle">**</text>
<text x="498.7" y="568.1" font-size="5.6" fill="#333" text-anchor="middle">**</text>
<text x="498.7" y="572.3" font-size="5.6" fill="#333" text-anchor="middle">**</text>
<line x1="230.2" y1="670.3" x2="498.5" y2="670.3" stroke="#222" stroke-width="1.2"/>
<text x="334.2" y="681.7" font-size="9.4" fill="#1a1a1a" font-weight="bold" textLength="60.5" lengthAdjust="spacingAndGlyphs">Days after treatment</text>
<text x="0.2" y="350" font-size="11.2" fill="#0a0a0a" font-weight="bold" stroke="#0a0a0a" stroke-width="0.35">E</text>
<text x="36.5" y="350.6" font-size="8.3" fill="#2a2a2a" textLength="44.7" lengthAdjust="spacingAndGlyphs">CD8<tspan font-size="5.2" dy="-3">+</tspan><tspan dy="3"> T cells</tspan></text>
<text x="99.8" y="350.6" font-size="8.3" fill="#2a2a2a" textLength="44.9" lengthAdjust="spacingAndGlyphs">CD4<tspan font-size="5.2" dy="-3">+</tspan><tspan dy="3"> T cells</tspan></text>
<text transform="translate(24.3 398.6) rotate(-90)" x="0" y="0" font-size="9" fill="#2a2a2a" font-weight="bold" textLength="28.9" lengthAdjust="spacingAndGlyphs">% of max</text>
<line x1="30.4" y1="355.8" x2="86.6" y2="355.8" stroke="#8a8a8a" stroke-width="1.3"/>
<line x1="86.6" y1="355.8" x2="86.6" y2="412.2" stroke="#9a9a9a" stroke-width="0.9"/>
<line x1="30.4" y1="355.3" x2="30.4" y2="412.2" stroke="#555" stroke-width="0.9"/>
<line x1="30" y1="412.2" x2="86.6" y2="412.2" stroke="#3a3a3a" stroke-width="1.1"/>
<line x1="30.4" y1="358" x2="31.7" y2="358" stroke="#666" stroke-width="0.6"/>
<line x1="30.4" y1="368.84" x2="31.7" y2="368.84" stroke="#666" stroke-width="0.6"/>
<line x1="30.4" y1="379.68" x2="31.7" y2="379.68" stroke="#666" stroke-width="0.6"/>
<line x1="30.4" y1="390.52" x2="31.7" y2="390.52" stroke="#666" stroke-width="0.6"/>
<line x1="30.4" y1="401.36" x2="31.7" y2="401.36" stroke="#666" stroke-width="0.6"/>
<line x1="42.62" y1="412.2" x2="42.62" y2="413.4" stroke="#666" stroke-width="0.6"/>
<line x1="54.83" y1="412.2" x2="54.83" y2="413.4" stroke="#666" stroke-width="0.6"/>
<line x1="67.05" y1="412.2" x2="67.05" y2="413.4" stroke="#666" stroke-width="0.6"/>
<line x1="79.27" y1="412.2" x2="79.27" y2="413.4" stroke="#666" stroke-width="0.6"/>
<line x1="93.8" y1="355.8" x2="150.3" y2="355.8" stroke="#8a8a8a" stroke-width="1.3"/>
<line x1="150.3" y1="355.8" x2="150.3" y2="412.2" stroke="#9a9a9a" stroke-width="0.9"/>
<line x1="93.8" y1="355.3" x2="93.8" y2="412.2" stroke="#555" stroke-width="0.9"/>
<line x1="93.4" y1="412.2" x2="150.3" y2="412.2" stroke="#3a3a3a" stroke-width="1.1"/>
<line x1="93.8" y1="358" x2="95.1" y2="358" stroke="#666" stroke-width="0.6"/>
<line x1="93.8" y1="368.84" x2="95.1" y2="368.84" stroke="#666" stroke-width="0.6"/>
<line x1="93.8" y1="379.68" x2="95.1" y2="379.68" stroke="#666" stroke-width="0.6"/>
<line x1="93.8" y1="390.52" x2="95.1" y2="390.52" stroke="#666" stroke-width="0.6"/>
<line x1="93.8" y1="401.36" x2="95.1" y2="401.36" stroke="#666" stroke-width="0.6"/>
<line x1="106.08" y1="412.2" x2="106.08" y2="413.4" stroke="#666" stroke-width="0.6"/>
<line x1="118.37" y1="412.2" x2="118.37" y2="413.4" stroke="#666" stroke-width="0.6"/>
<line x1="130.65" y1="412.2" x2="130.65" y2="413.4" stroke="#666" stroke-width="0.6"/>
<line x1="142.93" y1="412.2" x2="142.93" y2="413.4" stroke="#666" stroke-width="0.6"/>
<path d="M37.5 412.2 C37.8 412.1 38.67 412.05 39.3 411.6 C39.93 411.15 40.7 410.43 41.3 409.5 C41.9 408.57 42.3 409.08 42.9 406 C43.5 402.92 44.32 396.83 44.9 391 C45.48 385.17 45.93 375.75 46.4 371 C46.87 366.25 47.32 364.22 47.7 362.5 C48.08 360.78 48.37 360.53 48.7 360.7 C49.03 360.87 49.4 362.62 49.7 363.5 C50 364.38 50.12 365.08 50.5 366 C50.88 366.92 51.62 368 52 369 C52.38 370 52.57 370.83 52.8 372 C53.03 373.17 53.13 375.67 53.4 376 C53.67 376.33 54.02 373.87 54.4 374 C54.78 374.13 55.23 376.03 55.7 376.8 C56.17 377.57 56.62 377.62 57.2 378.6 C57.78 379.58 58.53 380.88 59.2 382.7 C59.87 384.52 60.48 386.62 61.2 389.5 C61.92 392.38 62.77 396.95 63.5 400 C64.23 403.05 64.88 405.87 65.6 407.8 C66.32 409.73 67.15 410.87 67.8 411.6 C68.45 412.33 69.22 412.1 69.5 412.2" fill="none" stroke="#d42a52" stroke-width="1.3" stroke-linejoin="round"/>
<path d="M41 412.2 C41.33 411.98 42.33 411.27 43 410.9 C43.67 410.53 44.17 410.27 45 410 C45.83 409.73 46.9 409.3 48 409.3 C49.1 409.3 50.5 410.08 51.6 410 C52.7 409.92 53.7 409.55 54.6 408.8 C55.5 408.05 56.33 406.88 57 405.5 C57.67 404.12 58.05 402.58 58.6 400.5 C59.15 398.42 59.73 396.42 60.3 393 C60.87 389.58 61.47 384.17 62 380 C62.53 375.83 63.07 371.17 63.5 368 C63.93 364.83 64.25 362.38 64.6 361 C64.95 359.62 65.27 359.53 65.6 359.7 C65.93 359.87 66.27 359.95 66.6 362 C66.93 364.05 67.27 367.67 67.6 372 C67.93 376.33 68.27 383 68.6 388 C68.93 393 69.28 398.42 69.6 402 C69.92 405.58 70.17 407.83 70.5 409.5 C70.83 411.17 71.42 411.58 71.6 412" fill="none" stroke="#2f9a55" stroke-width="1.1" stroke-linejoin="round"/>
<path d="M63 366 C63.27 365.17 64.17 362.05 64.6 361 C65.03 359.95 65.25 359.48 65.6 359.7 C65.95 359.92 66.35 360.25 66.7 362.3 C67.05 364.35 67.37 367.72 67.7 372 C68.03 376.28 68.37 383 68.7 388 C69.03 393 69.38 398.42 69.7 402 C70.02 405.58 70.27 407.83 70.6 409.5 C70.93 411.17 71.52 411.58 71.7 412" fill="none" stroke="#1d5a3a" stroke-width="1.4" stroke-linejoin="round"/>
<circle cx="42.2" cy="411.6" r="0.9" fill="#111"/>
<line x1="53.5" y1="395" x2="86.6" y2="395" stroke="#333" stroke-width="0.9"/>
<text x="70.8" y="380.3" font-size="6.3" fill="#6fae5f">94.8</text>
<text x="70.8" y="386.3" font-size="6.3" fill="#c8344e">41.0</text>
<text x="70.8" y="392.2" font-size="6.3" fill="#4e62a8">95.4</text>
<path d="M100.5 412.2 C100.8 412.1 101.72 411.97 102.3 411.6 C102.88 411.23 103.5 410.77 104 410 C104.5 409.23 104.65 409.83 105.3 407 C105.95 404.17 107.05 398.58 107.9 393 C108.75 387.42 109.63 378.62 110.4 373.5 C111.17 368.38 111.85 364.65 112.5 362.3 C113.15 359.95 113.62 359.23 114.3 359.4 C114.98 359.57 115.88 361.63 116.6 363.3 C117.32 364.97 117.92 367.35 118.6 369.4 C119.28 371.45 120.02 373.22 120.7 375.6 C121.38 377.98 121.93 380.3 122.7 383.7 C123.47 387.1 124.45 392.2 125.3 396 C126.15 399.8 127.03 403.93 127.8 406.5 C128.57 409.07 129.23 410.45 129.9 411.4 C130.57 412.35 131.48 412.07 131.8 412.2" fill="none" stroke="#d42a52" stroke-width="1.3" stroke-linejoin="round"/>
<path d="M104 412.2 C104.4 412.1 105.57 411.83 106.4 411.6 C107.23 411.37 108.15 411.1 109 410.8 C109.85 410.5 110.5 410.38 111.5 409.8 C112.5 409.22 113.98 408.4 115 407.3 C116.02 406.2 116.82 404.92 117.6 403.2 C118.38 401.48 119.02 399.38 119.7 397 C120.38 394.62 121.03 392.47 121.7 388.9 C122.37 385.33 123.02 379.7 123.7 375.6 C124.38 371.5 125.18 366.97 125.8 364.3 C126.42 361.63 126.83 359.48 127.4 359.6 C127.97 359.72 128.62 361.6 129.2 365 C129.78 368.4 130.4 375 130.9 380 C131.4 385 131.78 390.92 132.2 395 C132.62 399.08 132.97 401.87 133.4 404.5 C133.83 407.13 134.37 409.52 134.8 410.8 C135.23 412.08 135.8 411.97 136 412.2" fill="none" stroke="#2f9a55" stroke-width="1.2" stroke-linejoin="round"/>
<path d="M127.6 360 C127.93 361 128.97 362.5 129.6 366 C130.23 369.5 130.85 376.17 131.4 381 C131.95 385.83 132.42 391.08 132.9 395 C133.38 398.92 133.85 401.9 134.3 404.5 C134.75 407.1 135.18 409.32 135.6 410.6 C136.02 411.88 136.6 411.93 136.8 412.2" fill="none" stroke="#3f6f8a" stroke-width="1" stroke-linejoin="round"/>
<circle cx="106.4" cy="411.6" r="0.9" fill="#111"/>
<line x1="117.2" y1="395.2" x2="150.3" y2="395.2" stroke="#222" stroke-width="1"/>
<line x1="117.2" y1="393.7" x2="117.2" y2="396.7" stroke="#222" stroke-width="0.9"/>
<text x="134.6" y="379.5" font-size="6.3" fill="#6fae5f">94.4</text>
<text x="134.6" y="385.5" font-size="6.3" fill="#c8344e">41.6</text>
<text x="134.6" y="391.6" font-size="6.3" fill="#4e62a8">94.6</text>
<line x1="152.7" y1="361.4" x2="160.8" y2="361.4" stroke="#2f9a55" stroke-width="1.2"/>
<text x="163.9" y="363.7" font-size="6.8" fill="#2a2a2a">D0</text>
<line x1="152.7" y1="369.6" x2="160.8" y2="369.6" stroke="#d42a52" stroke-width="1.2"/>
<text x="163.9" y="371.9" font-size="6.8" fill="#2a2a2a">D3</text>
<line x1="152.7" y1="378" x2="160.8" y2="378" stroke="#3c5a9a" stroke-width="1.2"/>
<text x="163.9" y="380.3" font-size="6.8" fill="#2a2a2a">D21</text>
<text x="30.9" y="423.9" font-size="10.2" fill="#111" font-weight="bold" textLength="18.3" lengthAdjust="spacingAndGlyphs">CD127</text>
<line x1="52.4" y1="421.2" x2="140.8" y2="421.2" stroke="#111" stroke-width="1.1"/>
<path d="M137.6 418.8 L143.8 421.2 L137.6 423.6Z" fill="#111"/>
<text x="1.2" y="466" font-size="11.2" fill="#0a0a0a" font-weight="bold" stroke="#0a0a0a" stroke-width="0.35">F</text>
<text transform="translate(24.2 513) rotate(-90)" x="0" y="0" font-size="9" fill="#2a2a2a" font-weight="bold" textLength="28.6" lengthAdjust="spacingAndGlyphs">% of max</text>
<line x1="30.6" y1="471.2" x2="86.8" y2="471.2" stroke="#8a8a8a" stroke-width="1.3"/>
<line x1="86.8" y1="471.2" x2="86.8" y2="527.4" stroke="#9a9a9a" stroke-width="0.9"/>
<line x1="30.6" y1="470.7" x2="30.6" y2="527.4" stroke="#555" stroke-width="0.9"/>
<line x1="30.2" y1="527.4" x2="86.8" y2="527.4" stroke="#3a3a3a" stroke-width="1.1"/>
<line x1="30.6" y1="473.4" x2="31.9" y2="473.4" stroke="#666" stroke-width="0.6"/>
<line x1="30.6" y1="484.2" x2="31.9" y2="484.2" stroke="#666" stroke-width="0.6"/>
<line x1="30.6" y1="495" x2="31.9" y2="495" stroke="#666" stroke-width="0.6"/>
<line x1="30.6" y1="505.8" x2="31.9" y2="505.8" stroke="#666" stroke-width="0.6"/>
<line x1="30.6" y1="516.6" x2="31.9" y2="516.6" stroke="#666" stroke-width="0.6"/>
<line x1="42.82" y1="527.4" x2="42.82" y2="528.6" stroke="#666" stroke-width="0.6"/>
<line x1="55.03" y1="527.4" x2="55.03" y2="528.6" stroke="#666" stroke-width="0.6"/>
<line x1="67.25" y1="527.4" x2="67.25" y2="528.6" stroke="#666" stroke-width="0.6"/>
<line x1="79.47" y1="527.4" x2="79.47" y2="528.6" stroke="#666" stroke-width="0.6"/>
<line x1="93.8" y1="471.2" x2="150.3" y2="471.2" stroke="#8a8a8a" stroke-width="1.3"/>
<line x1="150.3" y1="471.2" x2="150.3" y2="527.4" stroke="#9a9a9a" stroke-width="0.9"/>
<line x1="93.8" y1="470.7" x2="93.8" y2="527.4" stroke="#555" stroke-width="0.9"/>
<line x1="93.4" y1="527.4" x2="150.3" y2="527.4" stroke="#3a3a3a" stroke-width="1.1"/>
<line x1="93.8" y1="473.4" x2="95.1" y2="473.4" stroke="#666" stroke-width="0.6"/>
<line x1="93.8" y1="484.2" x2="95.1" y2="484.2" stroke="#666" stroke-width="0.6"/>
<line x1="93.8" y1="495" x2="95.1" y2="495" stroke="#666" stroke-width="0.6"/>
<line x1="93.8" y1="505.8" x2="95.1" y2="505.8" stroke="#666" stroke-width="0.6"/>
<line x1="93.8" y1="516.6" x2="95.1" y2="516.6" stroke="#666" stroke-width="0.6"/>
<line x1="106.08" y1="527.4" x2="106.08" y2="528.6" stroke="#666" stroke-width="0.6"/>
<line x1="118.37" y1="527.4" x2="118.37" y2="528.6" stroke="#666" stroke-width="0.6"/>
<line x1="130.65" y1="527.4" x2="130.65" y2="528.6" stroke="#666" stroke-width="0.6"/>
<line x1="142.93" y1="527.4" x2="142.93" y2="528.6" stroke="#666" stroke-width="0.6"/>
<path d="M32 527.4 C32.42 526.83 33.67 525.82 34.5 524 C35.33 522.18 36.05 520.3 37 516.5 C37.95 512.7 39.2 506.13 40.2 501.2 C41.2 496.27 42.27 490.57 43 486.9 C43.73 483.23 44.13 480.8 44.6 479.2 C45.07 477.6 45.37 477.33 45.8 477.3 C46.23 477.27 46.67 476.48 47.2 479 C47.73 481.52 48.42 487.8 49 492.4 C49.58 497 50.15 502.58 50.7 506.6 C51.25 510.62 51.78 513.68 52.3 516.5 C52.82 519.32 53.32 521.72 53.8 523.5 C54.28 525.28 54.97 526.58 55.2 527.2" fill="none" stroke="#2f9a55" stroke-width="1.1" stroke-linejoin="round"/>
<path d="M34.5 527.4 C34.92 526.67 36.15 525.57 37 523 C37.85 520.43 38.77 516.67 39.6 512 C40.43 507.33 41.27 500 42 495 C42.73 490 43.47 484.9 44 482 C44.53 479.1 44.82 478.38 45.2 477.6 C45.58 476.82 45.92 476.98 46.3 477.3 C46.68 477.62 47.02 477.05 47.5 479.5 C47.98 481.95 48.68 488.08 49.2 492 C49.72 495.92 50.17 499.58 50.6 503 C51.03 506.42 51.48 510.53 51.8 512.5 C52.12 514.47 52.38 514.42 52.5 514.8" fill="none" stroke="#d42a52" stroke-width="1.6" stroke-linejoin="round"/>
<path d="M45.9 477.6 C46.15 478 46.87 477.43 47.4 480 C47.93 482.57 48.53 488.5 49.1 493 C49.67 497.5 50.25 503 50.8 507 C51.35 511 51.83 514.08 52.4 517 C52.97 519.92 53.67 522.78 54.2 524.5 C54.73 526.22 55.37 526.83 55.6 527.3" fill="none" stroke="#2d5a6a" stroke-width="0.9" stroke-linejoin="round"/>
<path d="M52.5 514.8 C52.78 514.33 53.6 513 54.2 512 C54.8 511 55.35 510.15 56.1 508.8 C56.85 507.45 57.92 504.8 58.7 503.9 C59.48 503 60.13 503.22 60.8 503.4 C61.47 503.58 62.07 504.65 62.7 505 C63.33 505.35 64.15 505.35 64.6 505.5 C65.05 505.65 64.98 505.35 65.4 505.9 C65.82 506.45 66.47 507.77 67.1 508.8 C67.73 509.83 68.57 510.9 69.2 512.1 C69.83 513.3 70.17 514.72 70.9 516 C71.63 517.28 72.6 518.72 73.6 519.8 C74.6 520.88 75.88 521.58 76.9 522.5 C77.92 523.42 78.88 524.52 79.7 525.3 C80.52 526.08 81.45 526.88 81.8 527.2" fill="none" stroke="#d42a52" stroke-width="1.1" stroke-linejoin="round"/>
<circle cx="45.0" cy="527.0" r="0.9" fill="#111"/>
<line x1="52" y1="512.9" x2="86.8" y2="512.9" stroke="#8a8a8a" stroke-width="1.4"/>
<text x="71.4" y="497.3" font-size="6.3" fill="#6fae5f">1.35</text>
<text x="71.4" y="503" font-size="6.3" fill="#c8344e">50.9</text>
<text x="71.4" y="508.8" font-size="6.3" fill="#4e62a8">1.88</text>
<path d="M98.5 527.4 C98.92 526.5 100.22 524.73 101 522 C101.78 519.27 102.38 515.93 103.2 511 C104.02 506.07 105.08 497.87 105.9 492.4 C106.72 486.93 107.52 481.22 108.1 478.2 C108.68 475.18 108.95 474.42 109.4 474.3 C109.85 474.18 110.2 473.93 110.8 477.5 C111.4 481.07 112.35 490.12 113 495.7 C113.65 501.28 114.17 506.95 114.7 511 C115.23 515.05 115.68 517.58 116.2 520 C116.72 522.42 117.25 524.27 117.8 525.5 C118.35 526.73 119.22 527.08 119.5 527.4" fill="none" stroke="#2f9a55" stroke-width="1.2" stroke-linejoin="round"/>
<path d="M100.5 527.4 C100.83 526.83 101.83 526.4 102.5 524 C103.17 521.6 103.75 518.33 104.5 513 C105.25 507.67 106.28 497.83 107 492 C107.72 486.17 108.35 480.83 108.8 478 C109.25 475.17 109.33 474.92 109.7 475 C110.07 475.08 110.47 475.33 111 478.5 C111.53 481.67 112.32 488.92 112.9 494 C113.48 499.08 114.02 504.92 114.5 509 C114.98 513.08 115.42 516.43 115.8 518.5 C116.18 520.57 116.63 520.92 116.8 521.4" fill="none" stroke="#2a2a2a" stroke-width="1.1" stroke-linejoin="round"/>
<path d="M101.2 527.4 C101.53 526.5 102.53 525.07 103.2 522 C103.87 518.93 104.5 514.33 105.2 509 C105.9 503.67 106.77 495.25 107.4 490 C108.03 484.75 108.57 479.83 109 477.5 C109.43 475.17 109.6 475.58 110 476 C110.4 476.42 110.87 476.5 111.4 480 C111.93 483.5 112.67 492 113.2 497 C113.73 502 114.37 507.83 114.6 510" fill="none" stroke="#d42a52" stroke-width="0.8" stroke-linejoin="round"/>
<path d="M116.8 521.4 C117.13 521.23 118.07 520.7 118.8 520.4 C119.53 520.1 120.15 519.57 121.2 519.6 C122.25 519.63 123.72 520.3 125.1 520.6 C126.48 520.9 128.18 521.07 129.5 521.4 C130.82 521.73 131.75 522.17 133 522.6 C134.25 523.03 135.67 523.52 137 524 C138.33 524.48 139.67 525.03 141 525.5 C142.33 525.97 143.92 526.48 145 526.8 C146.08 527.12 147.08 527.3 147.5 527.4" fill="none" stroke="#d42a52" stroke-width="1" stroke-linejoin="round"/>
<circle cx="107.5" cy="527.0" r="0.9" fill="#111"/>
<line x1="116.3" y1="512.9" x2="150.3" y2="512.9" stroke="#8a8a8a" stroke-width="1.4"/>
<text x="134.9" y="497.3" font-size="6.3" fill="#6fae5f">1.89</text>
<text x="134.9" y="503.2" font-size="6.3" fill="#c8344e">26.5</text>
<text x="134.9" y="509.2" font-size="6.3" fill="#4b6a80">2.92</text>
<line x1="152.7" y1="476.4" x2="160.8" y2="476.4" stroke="#2f9a55" stroke-width="1.2"/>
<text x="163.9" y="478.7" font-size="6.8" fill="#2a2a2a">D0</text>
<line x1="152.7" y1="485.3" x2="160.8" y2="485.3" stroke="#d42a52" stroke-width="1.2"/>
<text x="163.9" y="487.6" font-size="6.8" fill="#2a2a2a">D7</text>
<line x1="152.7" y1="494" x2="160.8" y2="494" stroke="#3c5a9a" stroke-width="1.2"/>
<text x="163.9" y="496.3" font-size="6.8" fill="#2a2a2a">D21</text>
<text x="30" y="539" font-size="9.8" fill="#111" font-weight="bold" textLength="15.1" lengthAdjust="spacingAndGlyphs">Ki-67</text>
<line x1="49.6" y1="536.4" x2="134.1" y2="536.4" stroke="#111" stroke-width="1.1"/>
<path d="M130.9 534 L137.1 536.4 L130.9 538.8Z" fill="#111"/>
<text x="0.4" y="584.2" font-size="11.2" fill="#0a0a0a" font-weight="bold" stroke="#0a0a0a" stroke-width="0.35">G</text>
<text transform="translate(23.4 631.4) rotate(-90)" x="0" y="0" font-size="9" fill="#2a2a2a" font-weight="bold" textLength="29.4" lengthAdjust="spacingAndGlyphs">% of max</text>
<line x1="30.5" y1="589.3" x2="86" y2="589.3" stroke="#8a8a8a" stroke-width="1.3"/>
<line x1="86" y1="589.3" x2="86" y2="645.3" stroke="#9a9a9a" stroke-width="0.9"/>
<line x1="30.5" y1="588.8" x2="30.5" y2="645.3" stroke="#555" stroke-width="0.9"/>
<line x1="30.1" y1="645.3" x2="86" y2="645.3" stroke="#3a3a3a" stroke-width="1.1"/>
<line x1="30.5" y1="591.5" x2="31.8" y2="591.5" stroke="#666" stroke-width="0.6"/>
<line x1="30.5" y1="602.26" x2="31.8" y2="602.26" stroke="#666" stroke-width="0.6"/>
<line x1="30.5" y1="613.02" x2="31.8" y2="613.02" stroke="#666" stroke-width="0.6"/>
<line x1="30.5" y1="623.78" x2="31.8" y2="623.78" stroke="#666" stroke-width="0.6"/>
<line x1="30.5" y1="634.54" x2="31.8" y2="634.54" stroke="#666" stroke-width="0.6"/>
<line x1="42.57" y1="645.3" x2="42.57" y2="646.5" stroke="#666" stroke-width="0.6"/>
<line x1="54.63" y1="645.3" x2="54.63" y2="646.5" stroke="#666" stroke-width="0.6"/>
<line x1="66.7" y1="645.3" x2="66.7" y2="646.5" stroke="#666" stroke-width="0.6"/>
<line x1="78.76" y1="645.3" x2="78.76" y2="646.5" stroke="#666" stroke-width="0.6"/>
<line x1="93.7" y1="589.3" x2="149.6" y2="589.3" stroke="#8a8a8a" stroke-width="1.3"/>
<line x1="149.6" y1="589.3" x2="149.6" y2="645.3" stroke="#9a9a9a" stroke-width="0.9"/>
<line x1="93.7" y1="588.8" x2="93.7" y2="645.3" stroke="#555" stroke-width="0.9"/>
<line x1="93.3" y1="645.3" x2="149.6" y2="645.3" stroke="#3a3a3a" stroke-width="1.1"/>
<line x1="93.7" y1="591.5" x2="95" y2="591.5" stroke="#666" stroke-width="0.6"/>
<line x1="93.7" y1="602.26" x2="95" y2="602.26" stroke="#666" stroke-width="0.6"/>
<line x1="93.7" y1="613.02" x2="95" y2="613.02" stroke="#666" stroke-width="0.6"/>
<line x1="93.7" y1="623.78" x2="95" y2="623.78" stroke="#666" stroke-width="0.6"/>
<line x1="93.7" y1="634.54" x2="95" y2="634.54" stroke="#666" stroke-width="0.6"/>
<line x1="105.85" y1="645.3" x2="105.85" y2="646.5" stroke="#666" stroke-width="0.6"/>
<line x1="118" y1="645.3" x2="118" y2="646.5" stroke="#666" stroke-width="0.6"/>
<line x1="130.16" y1="645.3" x2="130.16" y2="646.5" stroke="#666" stroke-width="0.6"/>
<line x1="142.31" y1="645.3" x2="142.31" y2="646.5" stroke="#666" stroke-width="0.6"/>
<path d="M45.38 644.19 C45.46 644.06 45.7 643.75 45.87 643.42 C46.03 643.09 46.19 642.71 46.35 642.21 C46.52 641.72 46.68 641.15 46.84 640.44 C47 639.72 47.17 638.91 47.33 637.94 C47.49 636.96 47.65 635.85 47.82 634.58 C47.98 633.31 48.14 631.88 48.3 630.3 C48.47 628.73 48.63 626.98 48.79 625.13 C48.95 623.28 49.11 621.26 49.28 619.22 C49.44 617.19 49.6 615 49.76 612.9 C49.93 610.79 50.09 608.6 50.25 606.59 C50.41 604.58 50.58 602.58 50.74 600.85 C50.9 599.12 51.06 597.5 51.23 596.23 C51.39 594.97 51.55 593.91 51.71 593.24 C51.88 592.57 52.05 592.2 52.2 592.2 C52.35 592.2 52.48 592.57 52.62 593.24 C52.77 593.91 52.91 594.97 53.05 596.23 C53.19 597.5 53.33 599.12 53.47 600.85 C53.61 602.58 53.76 604.58 53.9 606.59 C54.04 608.6 54.18 610.79 54.32 612.9 C54.46 615 54.6 617.19 54.75 619.22 C54.89 621.26 55.03 623.28 55.17 625.13 C55.31 626.98 55.45 628.73 55.59 630.3 C55.74 631.88 55.88 633.31 56.02 634.58 C56.16 635.85 56.3 636.96 56.44 637.94 C56.58 638.91 56.73 639.72 56.87 640.44 C57.01 641.15 57.15 641.72 57.29 642.21 C57.43 642.71 57.57 643.09 57.72 643.42 C57.86 643.75 58.07 644.06 58.14 644.19 Z" fill="#dcdcdc" stroke="#c8c8c8" stroke-width="0.6"/>
<path d="M57.68 644.24 C57.75 644.11 57.95 643.8 58.09 643.49 C58.22 643.17 58.36 642.81 58.5 642.33 C58.63 641.85 58.77 641.31 58.91 640.62 C59.04 639.93 59.18 639.15 59.31 638.21 C59.45 637.27 59.59 636.21 59.72 634.98 C59.86 633.76 60 632.38 60.13 630.87 C60.27 629.35 60.4 627.67 60.54 625.89 C60.68 624.11 60.81 622.17 60.95 620.21 C61.08 618.24 61.22 616.14 61.36 614.12 C61.49 612.09 61.63 609.98 61.77 608.05 C61.9 606.12 62.04 604.18 62.17 602.52 C62.31 600.86 62.45 599.3 62.58 598.08 C62.72 596.86 62.86 595.85 62.99 595.2 C63.13 594.55 63.28 594.2 63.4 594.2 C63.52 594.2 63.62 594.55 63.73 595.2 C63.84 595.85 63.95 596.86 64.06 598.08 C64.17 599.3 64.28 600.86 64.39 602.52 C64.5 604.18 64.61 606.12 64.72 608.05 C64.83 609.98 64.94 612.09 65.05 614.12 C65.16 616.14 65.27 618.24 65.38 620.21 C65.49 622.17 65.6 624.11 65.71 625.89 C65.82 627.67 65.93 629.35 66.04 630.87 C66.15 632.38 66.26 633.76 66.37 634.98 C66.48 636.21 66.59 637.27 66.7 638.21 C66.81 639.15 66.92 639.93 67.03 640.62 C67.14 641.31 67.25 641.85 67.36 642.33 C67.47 642.81 67.58 643.17 67.69 643.49 C67.8 643.8 67.97 644.11 68.02 644.24" fill="none" stroke="#2f9a55" stroke-width="1.1" stroke-linejoin="round"/>
<path d="M57.1 644.23 C57.17 644.11 57.36 643.8 57.49 643.48 C57.62 643.16 57.75 642.8 57.89 642.32 C58.02 641.84 58.15 641.29 58.28 640.6 C58.41 639.91 58.54 639.13 58.67 638.19 C58.8 637.24 58.93 636.17 59.06 634.94 C59.2 633.72 59.33 632.33 59.46 630.81 C59.59 629.29 59.72 627.6 59.85 625.81 C59.98 624.03 60.11 622.08 60.24 620.11 C60.37 618.14 60.5 616.03 60.64 613.99 C60.77 611.96 60.9 609.84 61.03 607.9 C61.16 605.96 61.29 604.02 61.42 602.36 C61.55 600.69 61.68 599.12 61.81 597.9 C61.95 596.67 62.08 595.65 62.21 595 C62.34 594.35 62.47 594 62.6 594 C62.73 594 62.84 594.35 62.96 595 C63.08 595.65 63.2 596.67 63.32 597.9 C63.44 599.12 63.56 600.69 63.68 602.36 C63.8 604.02 63.93 605.96 64.05 607.9 C64.17 609.84 64.29 611.96 64.41 613.99 C64.53 616.03 64.65 618.14 64.77 620.11 C64.89 622.08 65.01 624.03 65.13 625.81 C65.25 627.6 65.37 629.29 65.49 630.81 C65.61 632.33 65.73 633.72 65.85 634.94 C65.97 636.17 66.09 637.24 66.21 638.19 C66.33 639.13 66.46 639.91 66.58 640.6 C66.7 641.29 66.82 641.84 66.94 642.32 C67.06 642.8 67.18 643.16 67.3 643.48 C67.42 643.8 67.6 644.11 67.66 644.23" fill="none" stroke="#3c5a9a" stroke-width="1.1" stroke-linejoin="round"/>
<path d="M59.78 644.24 C59.85 644.12 60.05 643.81 60.19 643.5 C60.32 643.18 60.46 642.82 60.6 642.35 C60.73 641.87 60.87 641.33 61.01 640.65 C61.14 639.97 61.28 639.19 61.41 638.25 C61.55 637.32 61.69 636.26 61.82 635.05 C61.96 633.83 62.1 632.46 62.23 630.95 C62.37 629.45 62.5 627.77 62.64 626 C62.78 624.24 62.91 622.3 63.05 620.35 C63.18 618.4 63.32 616.31 63.46 614.3 C63.59 612.28 63.73 610.19 63.87 608.27 C64 606.35 64.14 604.43 64.27 602.77 C64.41 601.12 64.55 599.57 64.68 598.36 C64.82 597.15 64.96 596.14 65.09 595.49 C65.23 594.85 65.37 594.5 65.5 594.5 C65.63 594.5 65.74 594.85 65.86 595.49 C65.98 596.14 66.1 597.15 66.22 598.36 C66.34 599.57 66.46 601.12 66.58 602.77 C66.7 604.43 66.83 606.35 66.95 608.27 C67.07 610.19 67.19 612.28 67.31 614.3 C67.43 616.31 67.55 618.4 67.67 620.35 C67.79 622.3 67.91 624.24 68.03 626 C68.15 627.77 68.27 629.45 68.39 630.95 C68.51 632.46 68.63 633.83 68.75 635.05 C68.87 636.26 68.99 637.32 69.11 638.25 C69.23 639.19 69.36 639.97 69.48 640.65 C69.6 641.33 69.72 641.87 69.84 642.35 C69.96 642.82 70.08 643.18 70.2 643.5 C70.32 643.81 70.5 644.12 70.56 644.24" fill="none" stroke="#d42a52" stroke-width="1.1" stroke-linejoin="round"/>
<circle cx="42.5" cy="645.0" r="0.9" fill="#111"/>
<text x="70.3" y="608.4" font-size="6.3" fill="#333344">5113</text>
<text x="70.3" y="614.1" font-size="6.3" fill="#e0705a">6448</text>
<text x="70.3" y="619.8" font-size="6.3" fill="#4e62a8">3952</text>
<path d="M108.8 644.21 C108.88 644.08 109.11 643.76 109.27 643.44 C109.43 643.11 109.59 642.74 109.74 642.25 C109.9 641.76 110.06 641.2 110.21 640.49 C110.37 639.79 110.53 638.98 110.69 638.02 C110.84 637.05 111 635.96 111.16 634.7 C111.31 633.44 111.47 632.03 111.63 630.47 C111.79 628.92 111.94 627.18 112.1 625.36 C112.26 623.53 112.41 621.54 112.57 619.52 C112.73 617.5 112.89 615.34 113.04 613.26 C113.2 611.18 113.36 609.01 113.51 607.03 C113.67 605.04 113.83 603.06 113.99 601.35 C114.14 599.65 114.3 598.04 114.46 596.79 C114.61 595.53 114.77 594.49 114.93 593.83 C115.09 593.16 115.25 592.8 115.4 592.8 C115.55 592.8 115.67 593.16 115.81 593.83 C115.94 594.49 116.08 595.53 116.22 596.79 C116.35 598.04 116.49 599.65 116.63 601.35 C116.76 603.06 116.9 605.04 117.03 607.03 C117.17 609.01 117.31 611.18 117.44 613.26 C117.58 615.34 117.72 617.5 117.85 619.52 C117.99 621.54 118.12 623.53 118.26 625.36 C118.4 627.18 118.53 628.92 118.67 630.47 C118.8 632.03 118.94 633.44 119.08 634.7 C119.21 635.96 119.35 637.05 119.49 638.02 C119.62 638.98 119.76 639.79 119.89 640.49 C120.03 641.2 120.17 641.76 120.3 642.25 C120.44 642.74 120.58 643.11 120.71 643.44 C120.85 643.76 121.05 644.08 121.12 644.21 Z" fill="#dcdcdc" stroke="#c8c8c8" stroke-width="0.6"/>
<path d="M119.82 644.22 C119.9 644.09 120.12 643.78 120.28 643.45 C120.43 643.13 120.58 642.76 120.73 642.28 C120.88 641.79 121.04 641.24 121.19 640.54 C121.34 639.84 121.49 639.04 121.64 638.09 C121.79 637.13 121.95 636.05 122.1 634.8 C122.25 633.56 122.4 632.16 122.55 630.61 C122.71 629.07 122.86 627.36 123.01 625.55 C123.16 623.74 123.31 621.76 123.47 619.76 C123.62 617.77 123.77 615.63 123.92 613.57 C124.07 611.5 124.23 609.36 124.38 607.39 C124.53 605.43 124.68 603.46 124.83 601.77 C124.98 600.08 125.14 598.49 125.29 597.25 C125.44 596.01 125.59 594.98 125.74 594.32 C125.9 593.66 126.06 593.3 126.2 593.3 C126.34 593.3 126.46 593.66 126.59 594.32 C126.72 594.98 126.85 596.01 126.99 597.25 C127.12 598.49 127.25 600.08 127.38 601.77 C127.51 603.46 127.64 605.43 127.77 607.39 C127.9 609.36 128.03 611.5 128.16 613.57 C128.3 615.63 128.43 617.77 128.56 619.76 C128.69 621.76 128.82 623.74 128.95 625.55 C129.08 627.36 129.21 629.07 129.34 630.61 C129.47 632.16 129.6 633.56 129.74 634.8 C129.87 636.05 130 637.13 130.13 638.09 C130.26 639.04 130.39 639.84 130.52 640.54 C130.65 641.24 130.78 641.79 130.91 642.28 C131.05 642.76 131.18 643.13 131.31 643.45 C131.44 643.78 131.63 644.09 131.7 644.22" fill="none" stroke="#2f6f8f" stroke-width="1.1" stroke-linejoin="round"/>
<path d="M119.64 644.21 C119.71 644.08 119.93 643.76 120.08 643.44 C120.23 643.11 120.37 642.74 120.52 642.25 C120.67 641.76 120.81 641.2 120.96 640.49 C121.11 639.79 121.25 638.98 121.4 638.02 C121.55 637.05 121.69 635.96 121.84 634.7 C121.99 633.44 122.13 632.03 122.28 630.47 C122.43 628.92 122.57 627.18 122.72 625.36 C122.87 623.53 123.01 621.54 123.16 619.52 C123.31 617.5 123.45 615.34 123.6 613.26 C123.75 611.18 123.89 609.01 124.04 607.03 C124.19 605.04 124.33 603.06 124.48 601.35 C124.63 599.65 124.77 598.04 124.92 596.79 C125.07 595.53 125.21 594.49 125.36 593.83 C125.51 593.16 125.67 592.8 125.8 592.8 C125.93 592.8 126.04 593.16 126.16 593.83 C126.28 594.49 126.4 595.53 126.52 596.79 C126.64 598.04 126.76 599.65 126.88 601.35 C127 603.06 127.13 605.04 127.25 607.03 C127.37 609.01 127.49 611.18 127.61 613.26 C127.73 615.34 127.85 617.5 127.97 619.52 C128.09 621.54 128.21 623.53 128.33 625.36 C128.45 627.18 128.57 628.92 128.69 630.47 C128.81 632.03 128.93 633.44 129.05 634.7 C129.17 635.96 129.29 637.05 129.41 638.02 C129.53 638.98 129.66 639.79 129.78 640.49 C129.9 641.2 130.02 641.76 130.14 642.25 C130.26 642.74 130.38 643.11 130.5 643.44 C130.62 643.76 130.8 644.08 130.86 644.21" fill="none" stroke="#1d6e40" stroke-width="1.2" stroke-linejoin="round"/>
<path d="M123.2 644.23 C123.28 644.11 123.51 643.8 123.67 643.48 C123.83 643.16 123.99 642.8 124.14 642.32 C124.3 641.84 124.46 641.29 124.61 640.6 C124.77 639.91 124.93 639.13 125.09 638.19 C125.24 637.24 125.4 636.17 125.56 634.94 C125.71 633.72 125.87 632.33 126.03 630.81 C126.19 629.29 126.34 627.6 126.5 625.81 C126.66 624.03 126.81 622.08 126.97 620.11 C127.13 618.14 127.29 616.03 127.44 613.99 C127.6 611.96 127.76 609.84 127.91 607.9 C128.07 605.96 128.23 604.02 128.39 602.36 C128.54 600.69 128.7 599.12 128.86 597.9 C129.01 596.67 129.17 595.65 129.33 595 C129.49 594.35 129.67 594 129.8 594 C129.93 594 130.01 594.35 130.11 595 C130.22 595.65 130.32 596.67 130.43 597.9 C130.53 599.12 130.64 600.69 130.74 602.36 C130.85 604.02 130.95 605.96 131.06 607.9 C131.16 609.84 131.27 611.96 131.37 613.99 C131.48 616.03 131.58 618.14 131.69 620.11 C131.79 622.08 131.9 624.03 132 625.81 C132.1 627.6 132.21 629.29 132.31 630.81 C132.42 632.33 132.52 633.72 132.63 634.94 C132.73 636.17 132.84 637.24 132.94 638.19 C133.05 639.13 133.15 639.91 133.26 640.6 C133.36 641.29 133.47 641.84 133.57 642.32 C133.68 642.8 133.78 643.16 133.89 643.48 C133.99 643.8 134.15 644.11 134.2 644.23" fill="none" stroke="#d42a52" stroke-width="1.1" stroke-linejoin="round"/>
<circle cx="106.6" cy="645.0" r="0.9" fill="#111"/>
<text x="134.8" y="608.2" font-size="6.3" fill="#333344">4422</text>
<text x="134.8" y="614.2" font-size="6.3" fill="#e0705a">6612</text>
<text x="134.8" y="620.2" font-size="6.3" fill="#4e62a8">3747</text>
<line x1="152.6" y1="594.6" x2="160.7" y2="594.6" stroke="#2f9a55" stroke-width="1.2"/>
<text x="163.8" y="596.9" font-size="6.8" fill="#2a2a2a">D0</text>
<line x1="152.6" y1="603.6" x2="160.7" y2="603.6" stroke="#d42a52" stroke-width="1.2"/>
<text x="163.8" y="605.9" font-size="6.8" fill="#2a2a2a">D7</text>
<line x1="152.6" y1="612.4" x2="160.7" y2="612.4" stroke="#3c5a9a" stroke-width="1.2"/>
<text x="163.8" y="614.7" font-size="6.8" fill="#2a2a2a">D21</text>
<line x1="152.6" y1="621.2" x2="160.7" y2="621.2" stroke="#d0d0d0" stroke-width="1.2"/>
<text x="163.8" y="623.5" font-size="6.8" fill="#2a2a2a">Isotype</text>
<text x="30.6" y="656.9" font-size="9.6" fill="#111" font-weight="bold" textLength="14.7" lengthAdjust="spacingAndGlyphs">Bcl-2</text>
<line x1="49.9" y1="654.7" x2="133.7" y2="654.7" stroke="#111" stroke-width="1.1"/>
<path d="M130.5 652.3 L136.7 654.7 L130.5 657.1Z" fill="#111"/>
</svg>
</body></html>
